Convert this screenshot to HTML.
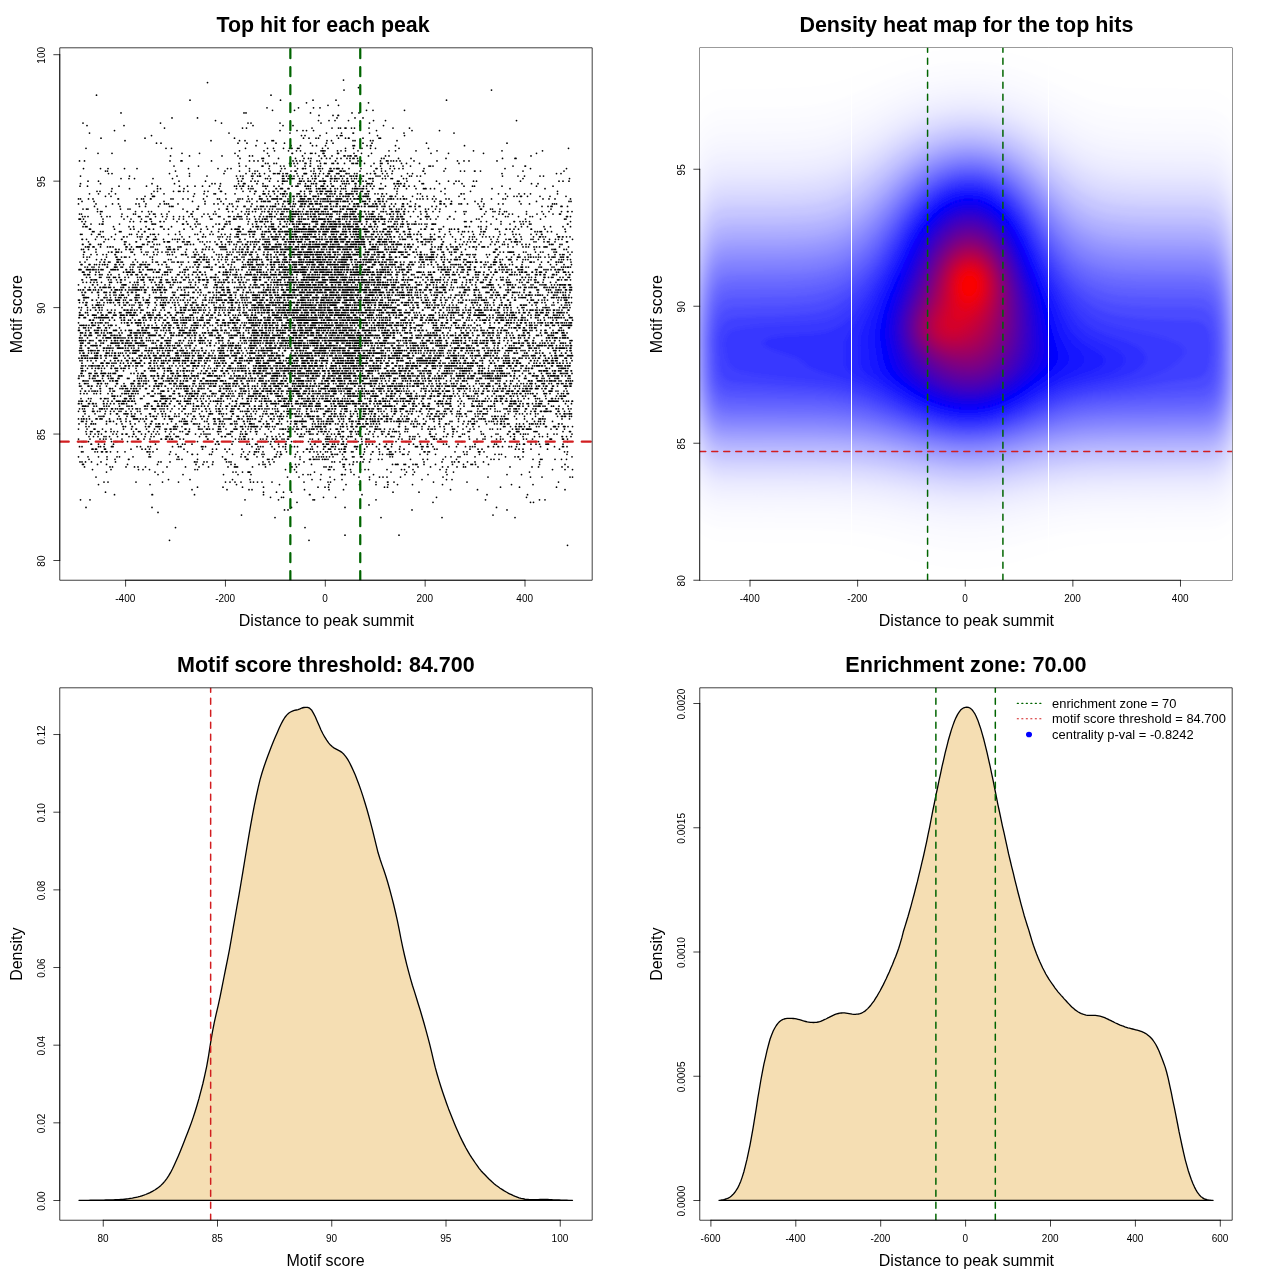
<!DOCTYPE html>
<html><head><meta charset="utf-8"><title>plot</title>
<style>html,body{margin:0;padding:0;background:#fff}svg{display:block}text{font-family:"Liberation Sans", sans-serif;fill:#000;opacity:.999}</style>
</head><body>
<svg width="1280" height="1280" viewBox="0 0 1280 1280">
<defs>
<clipPath id="c0"><rect x="59.76" y="47.81" width="532.43" height="532.43"/></clipPath>
<clipPath id="c1"><rect x="699.76" y="47.81" width="532.43" height="532.43"/></clipPath>
<clipPath id="c2"><rect x="59.76" y="687.81" width="532.43" height="532.43"/></clipPath>
<clipPath id="c3"><rect x="699.76" y="687.81" width="532.43" height="532.43"/></clipPath>
<filter id="bl" x="-5%" y="-5%" width="110%" height="110%"><feGaussianBlur stdDeviation="2.2"/></filter>
</defs>
<rect width="1280" height="1280" fill="#fff"/>
<g clip-path="url(#c0)"><path d="M567.5 545.3h0M169.5 540.3h0m139.5 0h0M345 535.2h0m54 0h0M175.5 527.6h0m129.5 0h0M275 517.5h0m106 0h0m61 0h0m73 0h0M241.5 515h0m251.5 0h0M158 512.4h0M284.5 509.9h0m3.5 0h0m124 0h0m95 0h0M86 507.4h0m66 0h0m139.5 0h0m53.5 0h0m151.5 0h0M369 504.9h0M297 502.3h0m136 0h0m97.5 0h0m3 0h0M80.5 499.8h0m9.5 0h0m155 0h0m33.5 0h0m34.5 0h0m1.5 0h0m61.5 0h0m109.5 0h0m54 0h0m5.5 0h0M270.5 497.3h0m11 0h0m2 0h0m40 0h0m12 0h0m101 0h0m90 0h0M114.5 494.7h0m37.5 0h0h.5m42 0h0m69 0h0m46 0h0h.5m52 0h0m125 0h0m40.5 0h0M105.5 492.2h0m158 0h0m13 0h0m7 0h0m8 0h0m101.5 0h0m26 0h0M192 489.7h0m35 0h0m22 0h0m3 0h0m52.5 0h0m24.5 0h0m14.5 0h0m107 0h0m27 0h0m87.5 0h0M197.5 487.2h0m25.5 0h0m19.5 0h0m21 0h0m54.5 0h0m7 0h0m3.5 0h0m56 0h0m3 0h0m113 0h0m19 0h0m37 0h0M98.5 484.6h0m51.5 0h0m86.5 0h0m43 0h0m49.5 0h0m17 0h0m13.5 0h0m16.5 0h0m12 0h0m9.5 0h0m15 0h0m30 0h0m69 0h0m21.5 0h0M104 482.1h0m4 0h0m28 0h0m26.5 0h0m16 0h0m47 0h0m4.5 0h0m5 0h0m6 0h0m9.5 0h0m3 0h0m4 0h0m4.5 0h0m10 0h0m32 0h0m24 0h0m2.5 0h0m45.5 0h0m11.5 0h0h.5m6 0h0m39.5 0h0m33.5 0h0m91.5 0h0M168.5 479.6h0m21.5 0h0m42.5 0h0m17.5 0h0m62 0h0m8.5 0h0m14 0h0m7.5 0h0m27.5 0h0m52.5 0h0m24.5 0h0m5.5 0h0M96 477h0m191.5 0h0m11.5 0h0m31 0h0m29 0h0m10.5 0h0m10 0h0m3.5 0h0m4 0h0m13.5 0h0m42.5 0h0m45 0h0m42.5 0h0m11.5 0h0m28 0h0m2.5 0h0M158 474.5h0m25 0h0m40.5 0h0m14.5 0h0m13 0h0m52 0h0m5 0h0m2.5 0h0m10.5 0h0m20.5 0h0h1m2.5 0h0m9 0h0m19.5 0h0m31.5 0h0m8 0h0m15 0h0m19 0h0m60 0h0m14.5 0h0M106.5 472h0m48.5 0h0m8 0h0m70 0h0m3 0h0m6.5 0h0m5.5 0h0h1h1m46.5 0h0m18 0h0m36.5 0h0m40 0h0m15.5 0h0m8 0h0m31.5 0h0m7.5 0h0m76 0h0M92.5 469.5h0m18.5 0h0m27.5 0h0m4.5 0h0m6.5 0h0m45.5 0h0m2.5 0h0m88 0h0m9 0h0m34 0h0m1.5 0h0m4 0h0m11.5 0h0m5 0h0m10 0h0m4.5 0h0m3.5 0h0m18.5 0h0m14.5 0h0m3 0h0m8.5 0h0m27 0h0m6.5 0h0m106 0h0m12.5 0h0m7.5 0h0M84.5 466.9h0m25.5 0h0m2.5 0h0m13.5 0h0m8.5 0h0m3.5 0h0m7.5 0h0m21.5 0h0m18.5 0h0m13.5 0h0m9.5 0h0m19.5 0h0m6.5 0h0m1.5 0h0m1.5 0h0m15 0h0m13 0h0m26 0h0h.5m4.5 0h0m27.5 0h0m2 0h0m3.5 0h0m2 0h0m12 0h0h.5m65 0h0m9 0h0m12.5 0h0m12 0h0m5.5 0h0m9 0h0m6.5 0h0m2 0h0m12.5 0h0m32 0h0m22 0h0m6.5 0h0m23.5 0h0m6 0h0M82.5 464.4h0h1m14 0h0m9 0h0m21 0h0m30 0h0m38.5 0h0m7 0h0m9.5 0h0m18.5 0h0m4 0h0m24 0h0m4 0h0m2 0h0m5 0h0m20 0h0h.5m5 0h0m3.5 0h0m12.5 0h0m31.5 0h0m1.5 0h0m5 0h0m3.5 0h0m39.5 0h0m3 0h0m1.5 0h0h1m6 0h0m1.5 0h0m7.5 0h0m2.5 0h0m1.5 0h0m7 0h0m11.5 0h0m17 0h0m11 0h0m7.5 0h0m1.5 0h0m3 0h0m13 0h0m51 0h0m25.5 0h0M80 461.9h0m2 0h0m3.5 0h0m6 0h0m9.5 0h0m14.5 0h0m43 0h0m2.5 0h0m9 0h0m24.5 0h0h.5m2 0h0m7 0h0m3 0h0m6 0h0m13.5 0h0m2.5 0h0m2 0h0m32 0h0m6 0h0m5 0h0m30 0h0m28 0h0m2.5 0h0m5.5 0h0m13.5 0h0m3.5 0h0m3.5 0h0m2.5 0h0m6.5 0h0m54.5 0h0m18 0h0m10 0h0m2.5 0h0m4 0h0h.5m8.5 0h0m7.5 0h0m8.5 0h0m56 0h0M89 459.3h0m18 0h0m8 0h0m13.5 0h0h.5m48 0h0m2 0h0m3 0h0m15.5 0h0m27.5 0h0h1m20.5 0h0h1h.5m19.5 0h0m1.5 0h0m3.5 0h0m27.5 0h0m9.5 0h0h1m3 0h0m1.5 0h0m2 0h0m2 0h0m3.5 0h0m2 0h0m1.5 0h0m2 0h0m14.5 0h0m3 0h0h1m17.5 0h0m6.5 0h0m8 0h0m3.5 0h0m28.5 0h0m12.5 0h0m4.5 0h0m15.5 0h0m13.5 0h0m34.5 0h0m3 0h0m5 0h0m21 0h0m13 0h0m7.5 0h0m1.5 0h0m13 0h0m6.5 0h0m5 0h0M78.5 456.8h0m9.5 0h0m10.5 0h0m8.5 0h0m10 0h0m2.5 0h0m13.5 0h0m16 0h0m1.5 0h0m27.5 0h0h.5m44 0h0m18.5 0h0m4 0h0h.5m11.5 0h0m6 0h0m11.5 0h0m1.5 0h0m3.5 0h0m15.5 0h0m5 0h0m13 0h0m3.5 0h0m2.5 0h0m2.5 0h0m2 0h0m3 0h0m3 0h0m3.5 0h0m11 0h0m8.5 0h0m1.5 0h0m6.5 0h0h.5h1m28 0h0m2.5 0h0m53 0h0m5.5 0h0m7 0h0m2 0h0m15 0h0m12 0h0m18.5 0h0m9.5 0h0m3 0h0h.5m4.5 0h0m49 0h0M149.5 454.3h0m20 0h0m6.5 0h0m16 0h0h.5m5 0h0m12 0h0m2 0h0m21 0h0m9 0h0m6.5 0h0m6 0h0h.5m7.5 0h0m2 0h0m12.5 0h0m4 0h0h1m14 0h0m22.5 0h0m5 0h0m8.5 0h0h1m2.5 0h0m2 0h0h.5m5 0h0m17.5 0h0m3.5 0h0m7.5 0h0m8.5 0h0m3 0h0m4.5 0h0m2 0h0h1m1.5 0h0h.5h1m9.5 0h0m1.5 0h0m4 0h0m12 0h0m7.5 0h0m8 0h0m29 0h0m2.5 0h0m12.5 0h0m15.5 0h0m4 0h0m2.5 0h0m37.5 0h0m28 0h0M81.5 451.8h0m1.5 0h0m12 0h0m2.5 0h0m4 0h0h1m3.5 0h0h1m3.5 0h0m7 0h0m7.5 0h0m22 0h0h1m2 0h0m3 0h0m17.5 0h0m17 0h0m25 0h0m14.5 0h0m16.5 0h0m6 0h0m5 0h0h.5m1.5 0h0m2 0h0m4.5 0h0m14.5 0h0m3 0h0m6 0h0m11 0h0m6 0h0m6 0h0h.5m4 0h0m3 0h0m3.5 0h0m5 0h0m2 0h0m3.5 0h0m9 0h0m4 0h0h1h.5m6 0h0m1.5 0h0m11.5 0h0m8 0h0h.5m6.5 0h0m10 0h0m1.5 0h0m4.5 0h0m4.5 0h0m9 0h0m15 0h0h1m3 0h0m1.5 0h0m25.5 0h0m8.5 0h0m3.5 0h0m11.5 0h0h1h.5m4 0h0m39 0h0h.5m41 0h0m3 0h0M92 449.2h0h.5h.5m2.5 0h0h1m8 0h0h1m25.5 0h0m11 0h0m3.5 0h0m4 0h0m7.5 0h0m27 0h0m18.5 0h0m10 0h0m4 0h0m8.5 0h0m4.5 0h0m12.5 0h0m14.5 0h0m2.5 0h0m15.5 0h0m11 0h0m21 0h0h1m3 0h0m2 0h0m11 0h0m5 0h0h.5m1.5 0h0m4.5 0h0m4 0h0m2.5 0h0m2.5 0h0h1m11.5 0h0m8 0h0m14.5 0h0m8.5 0h0h1m11 0h0m4.5 0h0m18 0h0m12.5 0h0m2.5 0h0m33 0h0m8 0h0m4 0h0m33.5 0h0m3.5 0h0m4 0h0m8 0h0m16.5 0h0m12 0h0M79.5 446.7h0m2.5 0h0m16.5 0h0m2 0h0m3.5 0h0m7.5 0h0h1h.5m24 0h0m3.5 0h0m7.5 0h0m2.5 0h0m22 0h0m6 0h0m2 0h0h.5m20.5 0h0m1.5 0h0m2.5 0h0m46.5 0h0m6 0h0m2.5 0h0m2.5 0h0m9 0h0m7 0h0m4 0h0m2.5 0h0m6 0h0m3 0h0m3 0h0m14.5 0h0m5.5 0h0m6.5 0h0m1.5 0h0m6 0h0m1.5 0h0m2.5 0h0m9 0h0m1.5 0h0m8.5 0h0h.5h1m1.5 0h0m9.5 0h0m9.5 0h0m8 0h0h1m6 0h0m8.5 0h0m15.5 0h0m1.5 0h0h.5m4 0h0m1.5 0h0m4 0h0h1m5 0h0m16 0h0m7.5 0h0m9 0h0m4.5 0h0m2.5 0h0m2.5 0h0m13 0h0h.5m5 0h0m4.5 0h0h.5m4 0h0m6.5 0h0m2.5 0h0m5 0h0m24 0h0m14 0h0m8 0h0h1m3.5 0h0M91 444.2h0h.5m7 0h0m6 0h0m9 0h0m42 0h0m22 0h0m5 0h0m2.5 0h0m7 0h0m23.5 0h0m3 0h0h.5m13 0h0m15 0h0m2.5 0h0m6 0h0m1.5 0h0m13.5 0h0m8 0h0m7 0h0h.5m24.5 0h0m4 0h0h.5m8 0h0h.5m3 0h0h.5m1.5 0h0m4 0h0m2 0h0m3.5 0h0m3.5 0h0m1.5 0h0h.5m3 0h0m15.5 0h0m4 0h0m3 0h0m3.5 0h0m7 0h0m7 0h0m5.5 0h0m17 0h0m4.5 0h0m7 0h0m7 0h0m4 0h0m12 0h0m3 0h0m11.5 0h0m17 0h0m19.5 0h0m2 0h0m20.5 0h0m2.5 0h0m4 0h0h1m6.5 0h0m5 0h0m3.5 0h0m6.5 0h0m1.5 0h0h1m14.5 0h0M78.5 441.6h0m3.5 0h0m1.5 0h0m1.5 0h0m3.5 0h0m13.5 0h0m9.5 0h0m4 0h0m1.5 0h0m5.5 0h0m5 0h0m23 0h0m2.5 0h0m1.5 0h0m43 0h0m19.5 0h0h1m15 0h0m6 0h0m22.5 0h0m2.5 0h0m1.5 0h0m2.5 0h0m3 0h0m3.5 0h0h1m3 0h0m7.5 0h0m5.5 0h0m4 0h0m5 0h0m2 0h0m6 0h0m7 0h0h.5m2 0h0h1m2 0h0m5 0h0m2 0h0m6.5 0h0m1.5 0h0m2 0h0m5 0h0h.5m10.5 0h0m2 0h0m2 0h0m4 0h0m4 0h0m4 0h0m4.5 0h0m14.5 0h0m7 0h0m10 0h0m15 0h0m21 0h0m20 0h0m14.5 0h0h1m14.5 0h0m3 0h0m2 0h0m3.5 0h0m4.5 0h0m10 0h0m16 0h0m4.5 0h0m3 0h0m7.5 0h0m21.5 0h0M78.5 439.1h0m11.5 0h0m10 0h0m3.5 0h0m2.5 0h0m5 0h0m11 0h0m15.5 0h0h1m5.5 0h0m6 0h0m11 0h0h.5m4 0h0h1m3 0h0m2 0h0h1m7.5 0h0m3.5 0h0m24 0h0h.5m6 0h0m21.5 0h0m3.5 0h0m2.5 0h0m2.5 0h0h1m3.5 0h0m4 0h0m8 0h0m2.5 0h0m3.5 0h0m6 0h0h1m3 0h0h.5m5 0h0m2 0h0m3.5 0h0h1m21.5 0h0m2.5 0h0m6 0h0m7 0h0m1.5 0h0h1m1.5 0h0m2.5 0h0m3.5 0h0m6.5 0h0m4.5 0h0m9 0h0m6 0h0m4.5 0h0h1m2 0h0m29.5 0h0m3.5 0h0m7.5 0h0m3 0h0m2 0h0m11.5 0h0m7.5 0h0h1m2 0h0m3.5 0h0h.5h.5m28.5 0h0m7.5 0h0m6 0h0m2 0h0m11.5 0h0m4 0h0m2.5 0h0m10.5 0h0h1m9 0h0m3 0h0m6 0h0m17.5 0h0h.5h1m11 0h0h1m4 0h0M89 436.6h0m4.5 0h0m4.5 0h0m6 0h0m2 0h0m3.5 0h0m8 0h0m11.5 0h0m3.5 0h0m3.5 0h0m9 0h0m6 0h0m3 0h0m12 0h0h1h1m2.5 0h0m5.5 0h0h1m1.5 0h0m21 0h0m6.5 0h0h.5m15 0h0h.5m3 0h0h.5m6.5 0h0m8 0h0m3.5 0h0m1.5 0h0m22 0h0h.5m4.5 0h0m4 0h0m4 0h0m8 0h0m1.5 0h0h1m9 0h0m1.5 0h0m2 0h0m23.5 0h0m1.5 0h0m2 0h0m6 0h0m4.5 0h0m2 0h0h1m4.5 0h0h.5m2 0h0m1.5 0h0m10 0h0m11.5 0h0m4.5 0h0m8 0h0m5 0h0h1m2 0h0m5.5 0h0m10 0h0h.5m3 0h0m2 0h0m4.5 0h0m11.5 0h0m1.5 0h0m2 0h0m9 0h0m3 0h0m6 0h0m6.5 0h0m1.5 0h0m8.5 0h0m16 0h0m6.5 0h0m9 0h0m10 0h0m4 0h0m8.5 0h0m11.5 0h0m5 0h0m3 0h0m5 0h0m14.5 0h0h.5m4 0h0m4.5 0h0M86.5 434.1h0m4 0h0m4.5 0h0m3.5 0h0m3 0h0m11.5 0h0m3.5 0h0m5.5 0h0h.5m3.5 0h0h1m6.5 0h0h.5m7.5 0h0m4 0h0m6 0h0m4.5 0h0m3 0h0m10.5 0h0m4.5 0h0m12 0h0m1.5 0h0h.5m7.5 0h0m5.5 0h0m3 0h0m2 0h0m2 0h0m2 0h0m8.5 0h0m8.5 0h0m1.5 0h0h.5m1.5 0h0m10 0h0m2 0h0m3 0h0h.5h1m9.5 0h0m8.5 0h0m14 0h0m4 0h0h.5m14 0h0m3.5 0h0h.5m3 0h0m5 0h0m1.5 0h0m2 0h0m4 0h0h.5m6 0h0m4 0h0m4 0h0m3 0h0m3.5 0h0h1h1m11 0h0m5.5 0h0m2 0h0m7 0h0m3 0h0m4.5 0h0m9 0h0h.5m5.5 0h0h1m11 0h0m18 0h0m11.5 0h0h1m5.5 0h0m11.5 0h0h.5m5 0h0m9.5 0h0m2 0h0m17 0h0m2 0h0m12.5 0h0m2 0h0m9.5 0h0h.5m5.5 0h0h1m6 0h0m3 0h0m2 0h0m2.5 0h0m11 0h0m8.5 0h0m6.5 0h0m3 0h0m15 0h0M86 431.5h0m4.5 0h0m1.5 0h0m5.5 0h0m1.5 0h0m6.5 0h0h.5m5 0h0m3 0h0m3.5 0h0m16 0h0m5 0h0m1.5 0h0m8.5 0h0h.5m4.5 0h0m4 0h0m8 0h0m5.5 0h0m9 0h0m2.5 0h0m6 0h0h1m14 0h0m14 0h0m1.5 0h0m2 0h0m10 0h0m1.5 0h0m8.5 0h0m4.5 0h0m5 0h0m5 0h0m1.5 0h0m14 0h0m16.5 0h0h1h1m5.5 0h0m11.5 0h0m2 0h0h1h.5m8.5 0h0m2.5 0h0h.5h.5m2.5 0h0m1.5 0h0m3 0h0m9.5 0h0h.5m3 0h0m1.5 0h0m6.5 0h0h1h.5h.5m3.5 0h0m2.5 0h0h1m10.5 0h0h.5m4.5 0h0m7 0h0h.5m2 0h0m5 0h0m3.5 0h0m2 0h0m1.5 0h0h.5m2.5 0h0m6 0h0m2.5 0h0m22.5 0h0m14 0h0m9 0h0h.5m3.5 0h0m11 0h0m1.5 0h0m11.5 0h0m28 0h0h1m6.5 0h0h1h1h.5m15 0h0m1.5 0h0m1.5 0h0m26 0h0m6.5 0h0h1M78.5 429h0m8.5 0h0m7 0h0h1m7.5 0h0m8.5 0h0m12.5 0h0m8 0h0m4.5 0h0h.5m10 0h0m8 0h0m5 0h0m5.5 0h0m1.5 0h0m3.5 0h0h1m2.5 0h0m1.5 0h0m1.5 0h0m8.5 0h0h1m3.5 0h0m9 0h0m1.5 0h0m2 0h0m4.5 0h0h1m2 0h0m3.5 0h0m5.5 0h0h.5m1.5 0h0m5.5 0h0m8 0h0h.5m1.5 0h0h1m5.5 0h0h.5m5 0h0m3 0h0m4.5 0h0m4.5 0h0m8.5 0h0m5.5 0h0m6 0h0m2 0h0h1h.5m2 0h0m3 0h0m2 0h0m2.5 0h0m3.5 0h0m1.5 0h0h.5m3 0h0m5 0h0m3 0h0m2 0h0m1.5 0h0h1m3 0h0m3.5 0h0m1.5 0h0m4 0h0m4.5 0h0m5.5 0h0h1h.5m3 0h0m7 0h0m6 0h0m7.5 0h0m6 0h0m8 0h0h1h1m2 0h0m1.5 0h0m4 0h0m5.5 0h0m3.5 0h0m12 0h0h.5m2 0h0m14 0h0m6 0h0h.5m2.5 0h0m1.5 0h0m2.5 0h0m9.5 0h0m8 0h0h.5m1.5 0h0m8.5 0h0m7 0h0m4 0h0m16 0h0m2.5 0h0m5 0h0m3 0h0m12 0h0m3.5 0h0h1m2 0h0m3.5 0h0h1m3 0h0h1h1m1.5 0h0h1m20 0h0m5.5 0h0h.5m7.5 0h0M86 426.5h0m3 0h0m34 0h0h.5m2 0h0m6.5 0h0h.5m13 0h0m3 0h0h1m6.5 0h0m1.5 0h0h1m1.5 0h0m13.5 0h0h1h1m2 0h0m4.5 0h0m16.5 0h0h.5m5.5 0h0m4 0h0m10 0h0m1.5 0h0m3.5 0h0m12 0h0m5 0h0m1.5 0h0h.5m3 0h0m3 0h0m2.5 0h0h1m1.5 0h0h.5h1m1.5 0h0h1m4 0h0m4 0h0h1h1m2 0h0m3 0h0m2.5 0h0m13 0h0m6 0h0m3 0h0m5.5 0h0h1h.5h.5m1.5 0h0m6.5 0h0m3 0h0h.5m1.5 0h0h.5h.5h.5m1.5 0h0h.5m3 0h0h.5h.5h.5m15 0h0m2 0h0h1m3.5 0h0m4 0h0h.5h1m3.5 0h0h1m4.5 0h0m1.5 0h0h1h1m5 0h0m2 0h0m3.5 0h0m2 0h0m21 0h0h.5h.5m6 0h0m8 0h0h1m2 0h0m5.5 0h0m7 0h0m5.5 0h0m5.5 0h0m4 0h0m8 0h0m6 0h0m8.5 0h0m6.5 0h0m6 0h0m24.5 0h0m1.5 0h0m5.5 0h0m5 0h0h.5m3 0h0h1m1.5 0h0m3 0h0m5 0h0m7 0h0m2.5 0h0m6.5 0h0h1m7 0h0h.5h1h.5m3 0h0m5 0h0h1h.5m3 0h0m4.5 0h0M79 423.9h0m7 0h0m5 0h0h.5m2 0h0m2 0h0m11 0h0m10 0h0m5.5 0h0m8.5 0h0m4.5 0h0m11 0h0m4.5 0h0h.5m5 0h0m2.5 0h0h.5h.5m3.5 0h0m4.5 0h0m8.5 0h0m8 0h0m1.5 0h0m1.5 0h0h.5m6 0h0m1.5 0h0m2 0h0m2.5 0h0m9 0h0m5.5 0h0m2 0h0m3.5 0h0m2.5 0h0m2.5 0h0m6 0h0m1.5 0h0m3 0h0m2 0h0m7.5 0h0m5 0h0h1h1h.5m2 0h0m9.5 0h0m3.5 0h0h.5m1.5 0h0m7.5 0h0h1h.5h.5m3 0h0m9 0h0m4.5 0h0m1.5 0h0m5.5 0h0m10.5 0h0m2.5 0h0m3.5 0h0m2.5 0h0m2.5 0h0m2.5 0h0h1m2.5 0h0h.5h.5m5 0h0m2.5 0h0m4 0h0h.5m4 0h0m5.5 0h0m5.5 0h0h1h.5h1m3 0h0m3 0h0h1h1m3 0h0m2.5 0h0m3 0h0m3 0h0m20 0h0m11.5 0h0m2.5 0h0m4 0h0m2 0h0m4 0h0m1.5 0h0m14 0h0h.5m6 0h0h.5h.5m2.5 0h0m14 0h0m5 0h0m4 0h0h.5h1h1m12 0h0m8 0h0m2.5 0h0m3.5 0h0h1m3 0h0m3 0h0m1.5 0h0m7.5 0h0m3 0h0m4 0h0m6 0h0m2 0h0m1.5 0h0m2.5 0h0m2 0h0m3 0h0m3 0h0h.5m14.5 0h0h.5m3 0h0M81.5 421.4h0m1.5 0h0m3.5 0h0m5.5 0h0m14.5 0h0m3 0h0h1m3 0h0m7.5 0h0m5 0h0m4 0h0m9 0h0m5.5 0h0m7 0h0h.5m19.5 0h0m8 0h0m2 0h0m2.5 0h0m1.5 0h0m1.5 0h0m4.5 0h0m13 0h0m2.5 0h0m7.5 0h0h.5m4.5 0h0h.5h.5m2.5 0h0m11.5 0h0m2 0h0m7 0h0h.5m3.5 0h0m2.5 0h0m9 0h0m1.5 0h0m6 0h0m6 0h0m7 0h0m8 0h0m3.5 0h0m3.5 0h0h1h.5m1.5 0h0m2 0h0m1.5 0h0h1h.5h1m1.5 0h0h1m7.5 0h0m4.5 0h0h.5m3 0h0m2 0h0m3 0h0m1.5 0h0m2 0h0m2 0h0h1m6.5 0h0m4 0h0m6 0h0m2 0h0h.5h.5h.5m3 0h0m2.5 0h0h1m6.5 0h0m4.5 0h0m2 0h0h1h.5h.5h.5h.5m2.5 0h0h1m5.5 0h0m2 0h0h1m3.5 0h0m3 0h0m2.5 0h0m1.5 0h0h1h1h.5h.5m2.5 0h0m2 0h0h.5m2 0h0m4 0h0m3 0h0m2 0h0m9 0h0m8 0h0m5.5 0h0m10.5 0h0m2 0h0m6.5 0h0m5.5 0h0m4.5 0h0m2 0h0m4 0h0m2.5 0h0m8.5 0h0m3.5 0h0m2.5 0h0m2 0h0m4 0h0m3.5 0h0h.5m2.5 0h0m23 0h0m7.5 0h0m4 0h0m2 0h0m4 0h0m8 0h0M78.5 418.9h0m3 0h0m2 0h0h.5m2.5 0h0m3 0h0m6.5 0h0h1m3 0h0h.5m1.5 0h0m7.5 0h0m8 0h0m2.5 0h0h.5m5.5 0h0m7.5 0h0m1.5 0h0m1.5 0h0h1m3 0h0m2.5 0h0m3 0h0h.5m8.5 0h0h1m8.5 0h0m5 0h0m1.5 0h0m1.5 0h0m10 0h0m2 0h0m8 0h0m3 0h0m6.5 0h0m5.5 0h0m6 0h0h.5h.5h.5m3 0h0m1.5 0h0m4.5 0h0m2 0h0m2 0h0m1.5 0h0m1.5 0h0m7 0h0h1h.5m2.5 0h0m5.5 0h0h1m2 0h0m2 0h0m2.5 0h0h.5m6 0h0m9 0h0h1m2.5 0h0m5 0h0m2.5 0h0h1m20 0h0m8 0h0m1.5 0h0h.5h.5m4 0h0m2 0h0m2 0h0m6.5 0h0h1m2.5 0h0h1m6.5 0h0m3 0h0m2 0h0m5.5 0h0h1m8.5 0h0m1.5 0h0h.5m1.5 0h0m1.5 0h0m3 0h0h.5h.5m2.5 0h0h.5m2 0h0m2.5 0h0m3 0h0h.5m2.5 0h0h.5h.5m4.5 0h0h1m2.5 0h0m1.5 0h0m6.5 0h0h1m3.5 0h0m4 0h0m1.5 0h0h1m6.5 0h0m8 0h0m6.5 0h0m2.5 0h0m1.5 0h0m5 0h0h.5m2 0h0m17 0h0m13.5 0h0h.5m1.5 0h0m5 0h0m2 0h0h.5m2 0h0m1.5 0h0m8 0h0h.5m2 0h0h1m4 0h0m2 0h0m2.5 0h0h.5h1m1.5 0h0m8.5 0h0m8 0h0m8 0h0m6.5 0h0m1.5 0h0m2 0h0h.5m2 0h0m17 0h0m7.5 0h0M83 416.3h0m6 0h0m10 0h0m2 0h0m2 0h0h1m15 0h0m8 0h0m4.5 0h0h1h1h1m11.5 0h0m4.5 0h0m2.5 0h0h1m2.5 0h0m6 0h0m3 0h0m3 0h0h1m5 0h0m2 0h0m2.5 0h0m8.5 0h0m6 0h0h1m6 0h0h.5m2.5 0h0h.5m4.5 0h0m14 0h0m9 0h0m5.5 0h0m1.5 0h0m5 0h0m3.5 0h0h.5m2 0h0m2 0h0m8.5 0h0m2.5 0h0m6 0h0m5.5 0h0m3.5 0h0m2 0h0h.5h1m2.5 0h0m3.5 0h0m8.5 0h0h.5m1.5 0h0m1.5 0h0m2 0h0m4 0h0m2.5 0h0h1h1h1m2 0h0m1.5 0h0m3 0h0h1h.5m5.5 0h0m5 0h0m1.5 0h0h.5m3 0h0h1m2.5 0h0m3 0h0h.5m2 0h0m2.5 0h0m5 0h0h.5h1m5.5 0h0m5.5 0h0m1.5 0h0m6 0h0m3.5 0h0h1m4 0h0m4.5 0h0h.5h.5m2 0h0m1.5 0h0m4.5 0h0m8.5 0h0m3.5 0h0m2.5 0h0m11.5 0h0m8.5 0h0m2.5 0h0h.5m4.5 0h0m1.5 0h0m2 0h0h1m4 0h0h.5h.5m12.5 0h0m3 0h0m2.5 0h0m4.5 0h0m9 0h0m2.5 0h0m4.5 0h0m9.5 0h0m2.5 0h0h1m2.5 0h0m3.5 0h0m2.5 0h0h.5m10 0h0m10 0h0m11 0h0m7.5 0h0m14.5 0h0m4 0h0h1m2 0h0h1m4 0h0m2 0h0M85 413.8h0m10 0h0m10 0h0m5.5 0h0m6 0h0h1m6.5 0h0m1.5 0h0h.5m1.5 0h0h.5m3.5 0h0m3.5 0h0m6 0h0m8.5 0h0h1m7.5 0h0m4 0h0h.5m3 0h0m9.5 0h0m4 0h0m6 0h0h.5m3 0h0m2.5 0h0m8.5 0h0m9.5 0h0h1h1m1.5 0h0m6.5 0h0h.5m2 0h0m2 0h0m3 0h0m6 0h0h1m12.5 0h0h.5m4.5 0h0m4.5 0h0m7.5 0h0m2.5 0h0m1.5 0h0m3.5 0h0m1.5 0h0h1m3 0h0m5 0h0h.5m6 0h0h1m3 0h0h.5h.5m2 0h0m1.5 0h0m3 0h0m3 0h0m4.5 0h0h1h1m15 0h0h.5h.5h.5m6.5 0h0h.5m2.5 0h0m1.5 0h0m4 0h0h1m3 0h0m6.5 0h0m3 0h0m4 0h0m6 0h0m1.5 0h0h.5h.5m2.5 0h0m3 0h0m3 0h0h1m6.5 0h0m5 0h0m7 0h0h1m7 0h0m6.5 0h0m3 0h0h.5m10 0h0m6 0h0m3 0h0h1m4 0h0h.5m3.5 0h0m2 0h0m2.5 0h0m2 0h0m5.5 0h0m5 0h0m2 0h0m1.5 0h0h.5m4 0h0h1m9 0h0m3 0h0m2 0h0m3 0h0h.5h.5m1.5 0h0m1.5 0h0m18 0h0m3.5 0h0m7.5 0h0m3.5 0h0m3 0h0m4.5 0h0m3.5 0h0m5 0h0m2.5 0h0m18 0h0h.5m3.5 0h0m4 0h0h1m2 0h0m2 0h0h1m1.5 0h0M78.5 411.3h0m5 0h0m1.5 0h0m7.5 0h0h.5h1m3.5 0h0m2.5 0h0m5.5 0h0m5 0h0m3.5 0h0m5 0h0m2 0h0m5 0h0m5 0h0m6.5 0h0m2.5 0h0m15 0h0m6 0h0m3 0h0m6.5 0h0m11.5 0h0m11 0h0m2 0h0m7 0h0m4.5 0h0m4 0h0m6 0h0m2.5 0h0h.5h1m10 0h0h1m1.5 0h0m7.5 0h0m2 0h0m2.5 0h0m2 0h0h.5m1.5 0h0m4.5 0h0m3 0h0m7.5 0h0m2.5 0h0m9 0h0m2 0h0h1m5.5 0h0m3 0h0m1.5 0h0h.5m1.5 0h0m6.5 0h0m2.5 0h0m7 0h0m4.5 0h0h1m2.5 0h0m2.5 0h0h.5m8 0h0h.5h.5h1h1h.5m2 0h0m3.5 0h0m6.5 0h0m4 0h0m1.5 0h0h.5m3.5 0h0m4.5 0h0m1.5 0h0m4.5 0h0m2.5 0h0m1.5 0h0m4.5 0h0h.5m1.5 0h0h1m6 0h0m2.5 0h0m3 0h0m7.5 0h0m3 0h0h1h1m4 0h0m5.5 0h0h1h.5m2.5 0h0m2.5 0h0m4 0h0m3 0h0h.5h.5m8.5 0h0m8 0h0h.5m1.5 0h0m5 0h0m1.5 0h0m5 0h0h1m6 0h0m2 0h0m8.5 0h0m2 0h0m1.5 0h0m6 0h0m2.5 0h0m1.5 0h0m6 0h0m7.5 0h0m2.5 0h0m2.5 0h0m8 0h0m2 0h0m4 0h0m2 0h0m1.5 0h0m7.5 0h0m6 0h0m3.5 0h0h1m5 0h0h1m2.5 0h0h1h.5h1m1.5 0h0m2 0h0h1m7 0h0h1m5.5 0h0m5 0h0M79.5 408.8h0m3 0h0m2 0h0m8.5 0h0m6.5 0h0m1.5 0h0h.5h1m2 0h0m2.5 0h0m4.5 0h0h1m3 0h0m2 0h0m2.5 0h0m1.5 0h0m1.5 0h0m6 0h0m3.5 0h0m3.5 0h0m1.5 0h0m2.5 0h0m5 0h0m2 0h0m5 0h0h1h1m1.5 0h0m4.5 0h0m2 0h0m2 0h0m3.5 0h0m4.5 0h0m7 0h0m4.5 0h0h1h.5m8 0h0h.5m2.5 0h0m3 0h0m6.5 0h0h.5m3.5 0h0m6.5 0h0m2.5 0h0h1m3 0h0m4 0h0m5 0h0h1m1.5 0h0m4 0h0h1m8.5 0h0h.5m3.5 0h0m3 0h0h1m3 0h0h1m2.5 0h0m3 0h0m2 0h0m2 0h0m3.5 0h0m2.5 0h0m2.5 0h0m10 0h0m2.5 0h0h1m2 0h0m2 0h0m3 0h0m2 0h0m6.5 0h0h1m3.5 0h0m5.5 0h0m2 0h0m2 0h0h.5m2 0h0m5 0h0m1.5 0h0m2.5 0h0h.5m2.5 0h0h.5m6.5 0h0m2.5 0h0h1h.5h1m8.5 0h0m3 0h0m3 0h0m2 0h0m1.5 0h0h1m2.5 0h0h1m2.5 0h0m1.5 0h0m4 0h0h.5h1m2 0h0m5 0h0m5.5 0h0m3 0h0m1.5 0h0m4 0h0h.5h.5h.5h.5h1h.5m7 0h0m2 0h0m1.5 0h0m7 0h0h.5m5 0h0h.5m2.5 0h0h1m1.5 0h0m2 0h0m11 0h0m2 0h0h.5m1.5 0h0m3.5 0h0m8 0h0m17.5 0h0m5.5 0h0h1m2 0h0h.5m3.5 0h0m4.5 0h0m9 0h0m2 0h0h1m3 0h0m4 0h0m1.5 0h0h1m2.5 0h0m6.5 0h0h1m6.5 0h0m2.5 0h0h.5m10 0h0h1m9 0h0h.5m2 0h0m4.5 0h0m5.5 0h0m2.5 0h0M82.5 406.2h0h1m1.5 0h0h1m2 0h0m6 0h0m2.5 0h0m7.5 0h0m2.5 0h0m2.5 0h0m10.5 0h0m7.5 0h0m2 0h0m2.5 0h0h.5m12.5 0h0h.5h.5m2 0h0m4 0h0h.5m5.5 0h0h1h.5m2.5 0h0h.5m2.5 0h0m2.5 0h0h.5m7 0h0m7.5 0h0m3.5 0h0m8 0h0m3 0h0m1.5 0h0h.5m3 0h0m3 0h0m3.5 0h0m8 0h0m4.5 0h0m5.5 0h0m1.5 0h0m4.5 0h0m2.5 0h0h.5h1m3.5 0h0m4 0h0h.5m5.5 0h0m5 0h0h.5m4 0h0m2 0h0h.5m5.5 0h0h.5m8 0h0m6 0h0h1h.5h.5h.5m1.5 0h0h1m2 0h0m3.5 0h0h.5m7.5 0h0m3.5 0h0h.5m2 0h0m2.5 0h0h1h.5m2 0h0m3.5 0h0h.5h1m1.5 0h0h.5h1m5.5 0h0h1m5 0h0m3 0h0h1h.5m3.5 0h0h1h.5m2 0h0m1.5 0h0m2 0h0m8.5 0h0h1m5 0h0m2 0h0m3.5 0h0h1m7.5 0h0m3 0h0m5 0h0h.5m1.5 0h0h1m1.5 0h0m1.5 0h0h1h1h1m2.5 0h0m8 0h0m1.5 0h0h.5m1.5 0h0m7 0h0h.5m2.5 0h0h.5m6.5 0h0h1h.5h.5m2.5 0h0m1.5 0h0m9.5 0h0m4.5 0h0m7 0h0h1m7.5 0h0m5.5 0h0m8 0h0h1h1m3 0h0h.5m2 0h0h.5m2 0h0m6.5 0h0m2 0h0m1.5 0h0m2.5 0h0m14.5 0h0h1m2 0h0m5.5 0h0h.5h1h.5m3.5 0h0m5.5 0h0m5.5 0h0m2 0h0m2 0h0h1h.5h.5m3 0h0m2 0h0m6.5 0h0m2 0h0m5.5 0h0m9 0h0M78.5 403.7h0h.5m2.5 0h0m7 0h0h1m3 0h0h1m2.5 0h0m7.5 0h0h.5m3 0h0m3.5 0h0m3.5 0h0m5 0h0m2.5 0h0m1.5 0h0h1m2.5 0h0m9 0h0m11.5 0h0m1.5 0h0h.5m9 0h0m4 0h0m1.5 0h0h1h1m4 0h0h.5m9 0h0h.5h.5m7 0h0m1.5 0h0m2 0h0m3 0h0m8.5 0h0h1m6 0h0m8.5 0h0m3.5 0h0m8.5 0h0m7 0h0m4 0h0h1h1h1m1.5 0h0m1.5 0h0h1m1.5 0h0m12.5 0h0m5 0h0m4.5 0h0h1m1.5 0h0m1.5 0h0h.5h1m2 0h0m6 0h0m2 0h0m1.5 0h0h1m2.5 0h0m4 0h0h.5h1m1.5 0h0m2 0h0h1h1m2 0h0m1.5 0h0m3.5 0h0m1.5 0h0h.5h.5m4.5 0h0h1m1.5 0h0h1m11 0h0m2.5 0h0h.5m4 0h0h.5h1h.5m2 0h0h.5m3.5 0h0h.5m1.5 0h0m1.5 0h0h.5m2.5 0h0h.5h.5h.5h1m1.5 0h0m2 0h0m1.5 0h0m3 0h0h.5h.5m2 0h0h.5m3.5 0h0m4 0h0m3 0h0h.5m2 0h0h.5h1m4.5 0h0m4 0h0m7.5 0h0m7 0h0m5 0h0m3.5 0h0h1h1m4.5 0h0m3.5 0h0h1m5 0h0h1m7.5 0h0h.5h1m2.5 0h0m1.5 0h0m3 0h0h.5m1.5 0h0h.5m1.5 0h0h1m10 0h0m3.5 0h0m8 0h0m7 0h0m3 0h0m12 0h0h.5m8 0h0m7.5 0h0m1.5 0h0m2 0h0h1h.5h1m4 0h0m3 0h0m4 0h0m1.5 0h0m4 0h0m3.5 0h0m2.5 0h0m1.5 0h0m1.5 0h0m7 0h0m17 0h0m6 0h0M79 401.2h0m2 0h0m1.5 0h0m4 0h0m4 0h0m13 0h0m4.5 0h0m4 0h0m4.5 0h0m1.5 0h0h.5m1.5 0h0m2.5 0h0m1.5 0h0m1.5 0h0m2.5 0h0h1m2.5 0h0h1m2 0h0m20 0h0h.5h.5m1.5 0h0m3 0h0h.5m5 0h0h1m4.5 0h0m6 0h0h.5h.5m2.5 0h0m4 0h0m1.5 0h0m1.5 0h0h.5m2 0h0m7.5 0h0m4 0h0m4.5 0h0m4.5 0h0m3 0h0m2 0h0h.5m1.5 0h0m1.5 0h0m2 0h0m2.5 0h0m9 0h0m3 0h0h.5h.5m11 0h0h.5m3 0h0m4.5 0h0m4 0h0m2 0h0m3 0h0h.5h1m2 0h0m2 0h0h1m4 0h0m3.5 0h0h1h1h.5m2.5 0h0h.5h1m3.5 0h0m2 0h0h.5h.5m4.5 0h0m1.5 0h0m6.5 0h0m2 0h0h.5h.5m1.5 0h0m2 0h0m2.5 0h0m1.5 0h0m4 0h0m6 0h0m1.5 0h0h1h1h.5h1h.5m3 0h0h1m1.5 0h0m2.5 0h0h.5m2 0h0h1h1m2 0h0h.5m2 0h0m1.5 0h0m2.5 0h0h.5h1h1m5 0h0h.5m1.5 0h0h1m8 0h0h.5h1m4 0h0h1m3 0h0h.5h1m2.5 0h0m1.5 0h0h.5h.5m2 0h0m2 0h0m4.5 0h0m1.5 0h0h.5m2 0h0m2.5 0h0m2.5 0h0h.5m2.5 0h0h.5h1m1.5 0h0m1.5 0h0m3.5 0h0m7.5 0h0m13.5 0h0m3.5 0h0h1h1m2 0h0m4 0h0m4 0h0m7.5 0h0m3.5 0h0m11.5 0h0m2.5 0h0m1.5 0h0m2 0h0h.5m2.5 0h0m1.5 0h0m1.5 0h0m2.5 0h0m3.5 0h0m3.5 0h0m2 0h0h1m3 0h0h.5m4.5 0h0m1.5 0h0m3.5 0h0m1.5 0h0m2 0h0h1h.5m3 0h0m2.5 0h0m15 0h0m4 0h0m2 0h0m6.5 0h0h.5h1m1.5 0h0h1h1m1.5 0h0m1.5 0h0m1.5 0h0m5.5 0h0m3 0h0m2 0h0m3.5 0h0h.5M81 398.6h0m7.5 0h0m2.5 0h0m9.5 0h0h.5m3.5 0h0m1.5 0h0m2 0h0m6 0h0h.5m10 0h0h1h1m3.5 0h0h1m3 0h0m6.5 0h0m1.5 0h0m19 0h0h.5h1h1m1.5 0h0h.5m1.5 0h0h1m2 0h0m3 0h0h.5m1.5 0h0m9.5 0h0m3.5 0h0h.5m1.5 0h0h1m4 0h0m1.5 0h0m4 0h0m3 0h0m5.5 0h0m9 0h0m2.5 0h0h1m6 0h0m3 0h0m7 0h0m5 0h0m4.5 0h0m1.5 0h0m3 0h0m3.5 0h0m1.5 0h0h.5m5 0h0m2.5 0h0m1.5 0h0m2.5 0h0m9.5 0h0m4 0h0m2 0h0h.5m1.5 0h0h1m2.5 0h0h.5h.5h1h.5m7 0h0m2.5 0h0m1.5 0h0m2 0h0m2.5 0h0h1h1m3 0h0h.5h1m2.5 0h0m3 0h0m2.5 0h0h.5h.5m2.5 0h0h.5m1.5 0h0m3.5 0h0m3.5 0h0m2.5 0h0h.5h.5m4.5 0h0m2.5 0h0m2.5 0h0m2.5 0h0m8.5 0h0m1.5 0h0h.5m4.5 0h0m2.5 0h0m2.5 0h0h.5m4.5 0h0h.5m7 0h0h1m2.5 0h0m4.5 0h0h.5m1.5 0h0m4.5 0h0m3.5 0h0m1.5 0h0m1.5 0h0m1.5 0h0m5 0h0h1h1h.5m2 0h0m2 0h0h.5m5.5 0h0h1m4.5 0h0m2 0h0h.5m13 0h0m4.5 0h0m2 0h0h1m9 0h0m8.5 0h0m1.5 0h0m2 0h0m2 0h0m3 0h0m8.5 0h0m3.5 0h0m6 0h0m1.5 0h0m4 0h0h.5h.5h1m4 0h0m5 0h0m6.5 0h0m6 0h0m4.5 0h0m7 0h0m2 0h0m2 0h0m6.5 0h0m5.5 0h0h1m3 0h0m3 0h0m3 0h0h1M112 396.1h0h.5m1.5 0h0h1m2.5 0h0m3 0h0m8.5 0h0h.5m1.5 0h0h.5m2.5 0h0m10 0h0m7 0h0m1.5 0h0h1m7.5 0h0h.5h1h1m1.5 0h0m4.5 0h0m1.5 0h0m8.5 0h0h.5m2.5 0h0m3 0h0m3.5 0h0m2.5 0h0h.5h1h1m3.5 0h0m4 0h0m2 0h0m4 0h0m2 0h0m2.5 0h0m3 0h0m6 0h0h.5m1.5 0h0m3 0h0h.5h.5m1.5 0h0h.5m3 0h0m2 0h0m5 0h0h.5m2.5 0h0m6.5 0h0h.5m1.5 0h0h.5m1.5 0h0h.5h.5m2.5 0h0m3 0h0h1m2.5 0h0h1h1m3 0h0m8.5 0h0m1.5 0h0h1h1h.5h.5m2 0h0m6.5 0h0h1m1.5 0h0m2 0h0m4.5 0h0h.5h.5h.5m1.5 0h0h1m5.5 0h0m4 0h0m1.5 0h0h.5m4 0h0m3.5 0h0m2 0h0m3 0h0m2 0h0m2.5 0h0m1.5 0h0m1.5 0h0m10.5 0h0m4 0h0h1m1.5 0h0h.5m2 0h0h1m1.5 0h0m1.5 0h0h.5m2 0h0m1.5 0h0m1.5 0h0m2 0h0m6.5 0h0m1.5 0h0m1.5 0h0h.5h1h1h.5h1m8.5 0h0m1.5 0h0h.5m2 0h0h1h.5m2 0h0m5.5 0h0m8 0h0h1h.5h1m1.5 0h0m4 0h0m1.5 0h0m2.5 0h0m2.5 0h0m1.5 0h0m1.5 0h0m5 0h0h.5h1m2.5 0h0h.5m3 0h0h.5h1m4.5 0h0h.5h1m2 0h0h.5m2 0h0h.5h1h.5h.5m3 0h0m4 0h0m4.5 0h0m3.5 0h0h1h1m2.5 0h0m2.5 0h0m4 0h0m9.5 0h0m4.5 0h0m4.5 0h0m2.5 0h0m1.5 0h0h.5m2.5 0h0h.5m6 0h0h1m2.5 0h0m4 0h0m5 0h0h.5m2.5 0h0m8.5 0h0h1h.5m10 0h0m11 0h0m3.5 0h0m1.5 0h0m2 0h0h.5h.5h1M80.5 393.6h0m3.5 0h0m3 0h0m7 0h0m2.5 0h0m4 0h0m7.5 0h0m4 0h0m10 0h0m2.5 0h0h.5m1.5 0h0m2 0h0m3 0h0m1.5 0h0m2.5 0h0m2.5 0h0m9.5 0h0m1.5 0h0m6 0h0m3 0h0m2 0h0h.5h.5m12 0h0m1.5 0h0m4 0h0h.5h.5m7 0h0h1m2 0h0h.5h1h1m2.5 0h0h1m1.5 0h0h1m5 0h0m2 0h0h.5m6.5 0h0h1h1m2 0h0m6 0h0m1.5 0h0h1m4 0h0m2 0h0m2.5 0h0m6 0h0h1m2 0h0h.5m2.5 0h0m4 0h0m4.5 0h0h.5h1h1m1.5 0h0m2 0h0h1h.5m6.5 0h0m3 0h0h1h.5m3 0h0m1.5 0h0m1.5 0h0m3.5 0h0m5.5 0h0m2.5 0h0h1m2.5 0h0m3.5 0h0h1h.5h.5h1h.5m3 0h0h1m1.5 0h0m3 0h0h1m3.5 0h0m2 0h0m2 0h0m1.5 0h0m1.5 0h0m3 0h0m2 0h0h.5m1.5 0h0m2 0h0m4.5 0h0h1h.5h1m5 0h0m4 0h0m2 0h0h.5h.5m1.5 0h0h1m2 0h0h1h1m3.5 0h0m2 0h0m1.5 0h0h.5m2 0h0h.5m2.5 0h0h1m1.5 0h0m3.5 0h0h.5m2.5 0h0m5 0h0h.5m5 0h0m4.5 0h0h1m2.5 0h0h1m5 0h0m5.5 0h0h.5m1.5 0h0m2.5 0h0h1m5 0h0m9 0h0m6 0h0m6.5 0h0m1.5 0h0h1m4 0h0m9 0h0m4 0h0m6 0h0m2.5 0h0m9 0h0h1m1.5 0h0m4 0h0h1h.5m11 0h0h.5m11.5 0h0h.5m1.5 0h0h.5m4 0h0m2 0h0m2 0h0h.5m3 0h0h1m4.5 0h0m2.5 0h0m2.5 0h0m2 0h0h.5m4 0h0m7 0h0h1m1.5 0h0m3.5 0h0m8 0h0m3.5 0h0m2 0h0m3.5 0h0h1h.5M80.5 391.1h0m4.5 0h0h.5m3.5 0h0m3 0h0m2 0h0m1.5 0h0m2 0h0m3 0h0m9.5 0h0m3 0h0m1.5 0h0m10.5 0h0m2 0h0h.5m1.5 0h0h.5m3.5 0h0m1.5 0h0m2 0h0m1.5 0h0m14 0h0h1m8 0h0m1.5 0h0h.5h1m4 0h0h.5m5.5 0h0h.5m10.5 0h0h1h.5m1.5 0h0m4.5 0h0m2 0h0m3.5 0h0h1m11 0h0h1m8 0h0h.5h1m6 0h0m3 0h0m2.5 0h0m3.5 0h0m5.5 0h0m2.5 0h0m1.5 0h0h1m3 0h0m5 0h0m2 0h0h1h.5h.5m4 0h0h1h.5m2.5 0h0m1.5 0h0m1.5 0h0h1h1m2.5 0h0h1m3.5 0h0h.5m3 0h0m1.5 0h0m4 0h0m1.5 0h0m1.5 0h0m1.5 0h0m1.5 0h0h.5h1h1h1h1h.5h.5h.5m5 0h0h.5m1.5 0h0h.5m3 0h0m2.5 0h0h.5h1m2.5 0h0m3 0h0m1.5 0h0m5 0h0m3 0h0h1m2 0h0h1m1.5 0h0h1h1m3 0h0m2 0h0h.5m2.5 0h0m3.5 0h0h1h.5h.5h1m5.5 0h0m2.5 0h0m3.5 0h0h.5m3 0h0h1m2 0h0m2.5 0h0h1h.5m1.5 0h0m5 0h0h.5m1.5 0h0m3 0h0m4 0h0h1m2.5 0h0h1m4 0h0h1h1h.5h.5m2 0h0m2.5 0h0m2.5 0h0m2.5 0h0m5 0h0m7 0h0m4 0h0h1m3 0h0h.5m3 0h0h1m2 0h0m1.5 0h0m1.5 0h0m4 0h0h.5m3 0h0h1h1h1h.5m4 0h0m5.5 0h0h.5m5 0h0m5.5 0h0m3.5 0h0m2.5 0h0m2.5 0h0m4.5 0h0h.5m4 0h0m1.5 0h0m3.5 0h0m2.5 0h0m1.5 0h0h.5h1m3.5 0h0m1.5 0h0m4 0h0m1.5 0h0h1m2 0h0h1h.5m4.5 0h0h1m4 0h0h.5h1h.5m2 0h0m1.5 0h0m2 0h0m13.5 0h0m5.5 0h0h1h1h1m4 0h0m2 0h0m6 0h0m3 0h0M82 388.5h0m9 0h0m9 0h0h.5m9 0h0h1m2 0h0m7.5 0h0m2 0h0h1m2.5 0h0m1.5 0h0h.5m3.5 0h0m2.5 0h0h.5m2 0h0h.5m3.5 0h0m5.5 0h0h1m7.5 0h0m4 0h0h.5m9.5 0h0m3.5 0h0m5 0h0m2 0h0m2.5 0h0m3 0h0h.5m2 0h0h1h.5m3.5 0h0h.5m6 0h0h.5h.5m2 0h0h1m2 0h0m4 0h0m12 0h0h.5m3 0h0h.5m2 0h0m1.5 0h0h1m2 0h0m9.5 0h0h1h.5h.5m2 0h0m4.5 0h0m3.5 0h0m3 0h0h.5m4.5 0h0m3.5 0h0h.5m2 0h0m1.5 0h0m3 0h0h.5h.5m4.5 0h0m2.5 0h0h.5h.5h1m8 0h0h1h1h.5m3 0h0h.5h1m1.5 0h0m3 0h0h1m5 0h0m2 0h0h1h.5m3 0h0m6 0h0m2.5 0h0h1m1.5 0h0h1h1m2 0h0m3 0h0h.5m1.5 0h0h1h1h.5h.5m2.5 0h0h.5m2 0h0m2.5 0h0m2 0h0h.5h.5h.5h1m1.5 0h0h1h.5h1h.5m6.5 0h0m3 0h0h1m2 0h0m9 0h0m3 0h0m1.5 0h0m1.5 0h0h1h1m1.5 0h0m5 0h0m2.5 0h0m4 0h0h1h1h.5m3 0h0m3.5 0h0m4 0h0m14 0h0m2 0h0h.5m2 0h0m5.5 0h0m4 0h0m3.5 0h0h1m4.5 0h0m8.5 0h0m4.5 0h0h1m1.5 0h0m1.5 0h0m2 0h0m2.5 0h0h1m3 0h0m4.5 0h0m4 0h0m5.5 0h0m2.5 0h0h.5m6.5 0h0m4 0h0m2.5 0h0m2.5 0h0h1m2 0h0m4 0h0m5.5 0h0m4.5 0h0m3.5 0h0m2.5 0h0h1h1m2.5 0h0h.5h.5h1m3.5 0h0h.5h1h1m4 0h0m3 0h0h1m5.5 0h0h1m13.5 0h0M79.5 386h0m1.5 0h0m7 0h0h1m2.5 0h0h.5m5 0h0m3 0h0m6.5 0h0m9 0h0m6 0h0m2.5 0h0h1h.5m6 0h0m3 0h0m3.5 0h0m2 0h0m2.5 0h0h.5m6.5 0h0m4.5 0h0h.5m2 0h0m1.5 0h0h1m2.5 0h0m3.5 0h0h.5m8.5 0h0m3 0h0m2.5 0h0m1.5 0h0m2.5 0h0m1.5 0h0h1h1m2.5 0h0m3.5 0h0m3 0h0m3.5 0h0m1.5 0h0m3 0h0m5.5 0h0m1.5 0h0m2.5 0h0h.5h1h.5m4 0h0m2.5 0h0m4 0h0h.5h.5m2 0h0h1m3 0h0m2.5 0h0h.5m3 0h0m5 0h0m1.5 0h0m2.5 0h0h.5m4 0h0m2 0h0h.5m2.5 0h0m4.5 0h0m2.5 0h0h1m3.5 0h0m1.5 0h0m3.5 0h0m1.5 0h0h1h.5h.5h1m3.5 0h0m3 0h0h1m1.5 0h0m5 0h0m2 0h0m2.5 0h0m1.5 0h0h1h1m2 0h0h.5h1m2 0h0h.5h.5h.5m2.5 0h0h.5m2 0h0m1.5 0h0m2.5 0h0m2.5 0h0h.5m5.5 0h0h.5h1h.5h1h.5m8.5 0h0h.5h1h.5m1.5 0h0m1.5 0h0h.5h.5m4 0h0m7.5 0h0h.5m4 0h0m1.5 0h0h.5m3.5 0h0m6 0h0h.5h.5h.5m2.5 0h0m4.5 0h0m3.5 0h0h.5m1.5 0h0m3 0h0m1.5 0h0h1h1m1.5 0h0m2 0h0m1.5 0h0m2 0h0m1.5 0h0h1h.5m1.5 0h0m2 0h0m2.5 0h0h.5m2.5 0h0m2.5 0h0h1h.5m3 0h0h1h.5m5.5 0h0m3 0h0h.5m3.5 0h0m2 0h0m4 0h0h1m1.5 0h0m2.5 0h0m3.5 0h0m1.5 0h0h.5h1h.5h.5m2.5 0h0m1.5 0h0m1.5 0h0h.5h.5m4.5 0h0m1.5 0h0m1.5 0h0h1h.5m4.5 0h0m4 0h0m7.5 0h0m1.5 0h0m3.5 0h0h.5h1m1.5 0h0h1m3 0h0m6 0h0h.5h.5m5 0h0m1.5 0h0m3 0h0m4 0h0m2 0h0m2 0h0m2 0h0m4.5 0h0m2 0h0m2.5 0h0h.5m2.5 0h0m5 0h0m2 0h0h1m4 0h0m2.5 0h0h1m5.5 0h0h1m4 0h0m6.5 0h0h.5h1h.5m1.5 0h0m2.5 0h0h1M79.5 383.5h0m5 0h0m1.5 0h0m2 0h0m9.5 0h0h.5h.5m2.5 0h0h.5m4 0h0m2 0h0m9 0h0h1m6.5 0h0m7 0h0h1h.5h1m4.5 0h0h1h1m3.5 0h0m2 0h0h1m9 0h0h.5m3 0h0m1.5 0h0h1h1m7 0h0m1.5 0h0m3 0h0h1h1m4 0h0h.5h.5m1.5 0h0h.5m10 0h0m1.5 0h0m5 0h0m2.5 0h0m1.5 0h0h.5m2 0h0m2 0h0h.5m2 0h0h.5m2 0h0m2.5 0h0h.5m7.5 0h0m1.5 0h0m1.5 0h0m2 0h0m1.5 0h0m3 0h0h.5h1m2 0h0h1m4.5 0h0h1m4.5 0h0h.5m9.5 0h0m4.5 0h0m2 0h0h.5h.5h.5h1m4.5 0h0m2 0h0h1h1m3 0h0m1.5 0h0h1h1m1.5 0h0h.5m4 0h0m5 0h0h1h.5m1.5 0h0h.5m2.5 0h0h.5m2 0h0h.5h1h1m3.5 0h0m3.5 0h0m4 0h0h.5h.5m3.5 0h0m2 0h0h1h.5h.5m2 0h0m3 0h0h1m4.5 0h0m2.5 0h0m3.5 0h0h1m1.5 0h0m2 0h0h1m3 0h0h.5m2 0h0h1h.5h1h.5h.5m1.5 0h0m1.5 0h0h.5m2.5 0h0m3 0h0m1.5 0h0h1m1.5 0h0m1.5 0h0h.5h.5h1h1m2.5 0h0m1.5 0h0h.5m3.5 0h0m2.5 0h0m4.5 0h0m5.5 0h0m1.5 0h0m3 0h0m2.5 0h0m2 0h0h1m5.5 0h0m2.5 0h0m4.5 0h0m1.5 0h0h1h1h.5m2 0h0h.5h.5m1.5 0h0h.5m5.5 0h0m3 0h0m4.5 0h0m3 0h0h.5h.5m3.5 0h0m2 0h0m5.5 0h0m2 0h0h.5m3 0h0m4 0h0m6.5 0h0m8.5 0h0m3.5 0h0m2.5 0h0m2 0h0m4 0h0h1h.5m6 0h0m1.5 0h0m2.5 0h0m4.5 0h0h1m5.5 0h0h.5m6 0h0m4 0h0m2.5 0h0m3.5 0h0m3 0h0h.5h1h.5m3.5 0h0m6.5 0h0m1.5 0h0h1m4.5 0h0m2.5 0h0m5.5 0h0m1.5 0h0m3 0h0m1.5 0h0m3 0h0m3.5 0h0h1h1M83 380.9h0h1m2 0h0m2 0h0m6 0h0m2 0h0h1m1.5 0h0h.5h1h.5m3 0h0m6.5 0h0m2.5 0h0h.5m2.5 0h0h.5h.5h1m16.5 0h0h.5m4 0h0h.5m2.5 0h0m2.5 0h0m2 0h0m2.5 0h0m6 0h0h1h1m7 0h0m2.5 0h0m2 0h0m1.5 0h0m2.5 0h0h1m4 0h0m3.5 0h0m3 0h0m2.5 0h0m1.5 0h0m6 0h0m1.5 0h0m5.5 0h0h1m4.5 0h0h1h1m2 0h0h.5h.5m2 0h0h.5h.5h.5m1.5 0h0h1m3.5 0h0h.5h1h1m2.5 0h0m9 0h0h.5h.5m1.5 0h0m4 0h0h.5m5.5 0h0m2 0h0h.5m2.5 0h0m2.5 0h0m4.5 0h0h.5m1.5 0h0m1.5 0h0h.5m3 0h0m2.5 0h0h.5m3 0h0m2 0h0m2 0h0h1m4 0h0h.5h.5h.5m2.5 0h0h1m4.5 0h0h1m2.5 0h0m3 0h0m1.5 0h0h1h1h.5h.5h.5h.5h.5h.5m2.5 0h0m2 0h0h1m2 0h0m3 0h0h.5m7.5 0h0m3 0h0h1h1h1m3.5 0h0h.5h1h.5h1m3.5 0h0h1m1.5 0h0h1h.5m2.5 0h0m5 0h0h.5h.5h.5m3 0h0m2 0h0m4 0h0m2 0h0h1m7.5 0h0h.5m2 0h0m2 0h0m1.5 0h0h.5m4.5 0h0m4 0h0m3.5 0h0m4.5 0h0h.5h1m7.5 0h0h.5m2.5 0h0m2 0h0m3 0h0h.5m2.5 0h0m2 0h0m2.5 0h0h1m4 0h0m2.5 0h0m3.5 0h0m1.5 0h0h.5m5 0h0m3 0h0m7.5 0h0m4 0h0m5.5 0h0m2 0h0m4.5 0h0h.5m1.5 0h0m2 0h0m9.5 0h0m2 0h0h.5m12.5 0h0m2 0h0m5 0h0m2 0h0m6.5 0h0m4 0h0m2 0h0m6.5 0h0m9.5 0h0h1m2 0h0h.5m5.5 0h0m1.5 0h0h1h.5m1.5 0h0m2.5 0h0m2.5 0h0m2.5 0h0m1.5 0h0h1m2 0h0m1.5 0h0m3.5 0h0m2 0h0m5 0h0h.5m2 0h0m2 0h0m2 0h0M78.5 378.4h0h.5m10.5 0h0m3 0h0h.5m2 0h0m7.5 0h0m6 0h0m2.5 0h0h.5m1.5 0h0m5 0h0h1m8.5 0h0m1.5 0h0m8.5 0h0m2 0h0m2 0h0m4 0h0h.5m7.5 0h0m5 0h0m3 0h0h1m5 0h0h.5m2 0h0h1h.5m3.5 0h0m2 0h0h.5m7 0h0m2.5 0h0m3 0h0h1m4 0h0m3 0h0m5 0h0h1m13.5 0h0h.5m1.5 0h0m10 0h0m1.5 0h0m2 0h0m4 0h0h1m2 0h0m2 0h0h1m1.5 0h0h.5m3.5 0h0m2.5 0h0h1h.5m2.5 0h0h.5m4 0h0h1h.5m2 0h0m8 0h0m1.5 0h0m1.5 0h0m2.5 0h0h.5h.5m6 0h0m3 0h0h.5m3 0h0h.5h.5m4 0h0m1.5 0h0h.5m1.5 0h0m1.5 0h0m7.5 0h0h.5m2.5 0h0m1.5 0h0h.5m1.5 0h0m2 0h0m7 0h0h1m3 0h0h1h1h1m3.5 0h0h.5m2.5 0h0h.5m1.5 0h0h1m1.5 0h0m3 0h0m1.5 0h0h1m1.5 0h0m1.5 0h0h1m5 0h0m2 0h0m2 0h0m4 0h0h1m1.5 0h0h.5h.5m2.5 0h0m3 0h0m2 0h0h.5m1.5 0h0h.5h1m2.5 0h0m2 0h0m2 0h0m5 0h0m4.5 0h0m1.5 0h0m2 0h0m4.5 0h0m2 0h0h1h1m3 0h0m1.5 0h0m6 0h0h1m4.5 0h0m2.5 0h0h.5m3 0h0h1m3.5 0h0m2 0h0m2 0h0m2 0h0h1m1.5 0h0m2.5 0h0m8 0h0m2.5 0h0m4 0h0h.5m2 0h0m3.5 0h0h.5m3 0h0h.5h.5h.5m2 0h0h1h1m4 0h0m2.5 0h0h.5h.5h1m4 0h0m2 0h0m1.5 0h0h1h1h.5m2 0h0m2 0h0h.5h1h1m1.5 0h0h1m13.5 0h0m3 0h0m7.5 0h0m1.5 0h0m10.5 0h0h.5m5 0h0m2 0h0m5.5 0h0m5.5 0h0m2 0h0h1h.5m9.5 0h0m2 0h0M79 375.9h0m2.5 0h0m2 0h0m6 0h0m4 0h0m1.5 0h0m2.5 0h0h.5m4.5 0h0h1m4 0h0h.5m2.5 0h0m8 0h0h1m1.5 0h0h1m15.5 0h0m3 0h0m2.5 0h0m1.5 0h0h1m5.5 0h0h.5h.5m2 0h0h.5m3 0h0h.5h.5m4 0h0m1.5 0h0m4 0h0m4.5 0h0m3 0h0m2.5 0h0h1m1.5 0h0m3 0h0h.5h.5h1h1m2 0h0m3.5 0h0m1.5 0h0h1m2 0h0m1.5 0h0m9.5 0h0h.5h1h1h1h1m2.5 0h0m1.5 0h0h1m2.5 0h0m2 0h0m3 0h0m6.5 0h0m3.5 0h0m2 0h0m2 0h0h.5h1m3 0h0m3 0h0m4.5 0h0m7.5 0h0m4 0h0h.5m2 0h0m1.5 0h0m6 0h0m1.5 0h0h.5h.5h1h.5h.5h.5h.5m2 0h0m2 0h0m2.5 0h0m1.5 0h0m5 0h0m2 0h0m1.5 0h0h1m4 0h0m2 0h0m2 0h0m2.5 0h0h.5m1.5 0h0h1m4 0h0h.5h.5m2.5 0h0m1.5 0h0m1.5 0h0m4 0h0m1.5 0h0m4 0h0h.5m2 0h0h1h.5h.5m2 0h0m4 0h0h1h.5m3.5 0h0h.5h.5m2 0h0h.5m1.5 0h0h.5h.5m3.5 0h0h1h1h.5m2.5 0h0m2 0h0h1h1m1.5 0h0h1m2.5 0h0h1m4 0h0m8 0h0h1m2 0h0m3 0h0m1.5 0h0h.5h.5h.5m1.5 0h0m8.5 0h0m2 0h0h.5h1h.5h.5h.5m3 0h0m1.5 0h0m1.5 0h0m2.5 0h0m2 0h0m2.5 0h0m1.5 0h0m3 0h0m2 0h0m5 0h0h1m5 0h0m3.5 0h0h.5h.5m2.5 0h0m3 0h0h.5h.5m5 0h0m5.5 0h0h1m1.5 0h0h.5h.5h1m1.5 0h0h1h.5m4 0h0m3 0h0h.5m1.5 0h0h1m9 0h0m2 0h0m2 0h0h.5h1h.5h.5h.5m2 0h0m3.5 0h0m2 0h0h1m2 0h0m2 0h0m2 0h0m1.5 0h0h.5m4 0h0h.5m3 0h0h.5m5 0h0m6 0h0m7 0h0h.5h1m2 0h0h.5m1.5 0h0m4.5 0h0h.5m5 0h0h.5m2 0h0h1m1.5 0h0h1h.5h.5m2 0h0m1.5 0h0m3.5 0h0m3.5 0h0m3 0h0h.5h1M81 373.4h0h.5h.5m7 0h0h.5m1.5 0h0m4 0h0m1.5 0h0h.5m4 0h0h.5h.5m1.5 0h0h1h.5h.5m3 0h0m2 0h0m2.5 0h0m1.5 0h0h1m15.5 0h0m3 0h0m4 0h0m3.5 0h0m1.5 0h0m14.5 0h0m6.5 0h0m7 0h0m1.5 0h0h1m3.5 0h0h1m6 0h0m7.5 0h0m6.5 0h0m2.5 0h0m3 0h0h.5m1.5 0h0m3.5 0h0h.5h.5m3 0h0m10.5 0h0h1m4 0h0m5.5 0h0m11.5 0h0h.5m3 0h0m1.5 0h0m3 0h0h1m2 0h0h.5h.5h.5h1h1m2 0h0m4 0h0h1h1m1.5 0h0h1m2.5 0h0m1.5 0h0h.5h.5h1h1m1.5 0h0h.5m4 0h0h.5h.5m4 0h0h.5h1h1h.5h.5m3 0h0m2.5 0h0h1m1.5 0h0h1h1h.5h1h.5h.5m2 0h0m2 0h0m2 0h0h1h.5m1.5 0h0m1.5 0h0h.5h.5m1.5 0h0m2.5 0h0m5 0h0m3.5 0h0h1m3.5 0h0h1m1.5 0h0h1h1h1m2 0h0m1.5 0h0h.5h.5h.5h1h1h1m2 0h0h.5h1h1h1m2 0h0h1m7.5 0h0m5.5 0h0h1h1m2 0h0m6.5 0h0h.5m3 0h0h.5h.5m2 0h0h.5h.5m2 0h0h1h.5m2.5 0h0m1.5 0h0m1.5 0h0m1.5 0h0h.5m2.5 0h0h1m4.5 0h0m3 0h0h.5m3 0h0h1h.5m7 0h0h.5h1m2.5 0h0m3.5 0h0h.5m2 0h0h1m6.5 0h0m4.5 0h0m1.5 0h0m1.5 0h0m1.5 0h0h.5h.5h.5m2 0h0m2 0h0m4.5 0h0m3 0h0h.5m2.5 0h0m1.5 0h0m2 0h0m3.5 0h0m5 0h0h1m3 0h0h1m2 0h0h1m2 0h0h.5h.5m2 0h0m1.5 0h0h1m2 0h0h1m4.5 0h0m3 0h0h1m1.5 0h0m1.5 0h0m2.5 0h0m2 0h0h.5m5 0h0m8 0h0m6.5 0h0m1.5 0h0m3.5 0h0m7.5 0h0m5 0h0m1.5 0h0m2 0h0m3.5 0h0m1.5 0h0m5.5 0h0m1.5 0h0m2 0h0m2 0h0m1.5 0h0m4.5 0h0M81.5 370.8h0h.5h1m2.5 0h0m9.5 0h0m6.5 0h0m14.5 0h0m1.5 0h0m6 0h0m13 0h0m8 0h0h.5m5.5 0h0m1.5 0h0m1.5 0h0h1h.5m9.5 0h0m3 0h0h1m2 0h0h1m5.5 0h0h.5m3 0h0m2.5 0h0h1m2.5 0h0h.5h.5m2 0h0m2.5 0h0m1.5 0h0m8 0h0m4.5 0h0h1m5.5 0h0m2 0h0h1h.5m5 0h0h1h.5m3.5 0h0h1h.5m5 0h0m2.5 0h0m2.5 0h0m1.5 0h0m2.5 0h0h1h.5m2 0h0h.5h.5m3.5 0h0m3.5 0h0h1h.5h1m3.5 0h0h.5h.5h.5m2.5 0h0h.5h.5m2 0h0m6 0h0m4.5 0h0m1.5 0h0h.5m2.5 0h0m2 0h0m1.5 0h0h.5h.5m1.5 0h0m1.5 0h0m2 0h0h.5h.5h.5h.5m1.5 0h0h.5h.5m3 0h0m1.5 0h0h1m6 0h0h1h1m1.5 0h0m1.5 0h0m3 0h0m1.5 0h0h.5m1.5 0h0h1m3.5 0h0h.5h1h1m3 0h0h1m3 0h0h1h1h1m2 0h0h1m1.5 0h0m2.5 0h0h.5m2.5 0h0m1.5 0h0m1.5 0h0m2.5 0h0m3 0h0m3.5 0h0h1h.5m2 0h0m1.5 0h0m4 0h0h.5m1.5 0h0h.5h.5h1m1.5 0h0h.5h1m2.5 0h0m2.5 0h0m9 0h0h.5h.5m2.5 0h0m1.5 0h0m2 0h0h.5h.5m4 0h0h1h1h1m2 0h0m1.5 0h0h.5m3 0h0h1m8 0h0m2 0h0m2.5 0h0m1.5 0h0m2 0h0h.5m2 0h0h.5h.5h1m8.5 0h0m5.5 0h0m2 0h0h.5h.5m2 0h0m2.5 0h0m2 0h0m6 0h0m2 0h0h1h.5h.5h.5h.5m1.5 0h0m1.5 0h0m1.5 0h0m2.5 0h0m6.5 0h0h.5h.5m2 0h0h1m6 0h0m3.5 0h0m2 0h0h.5m2.5 0h0m2 0h0h1m1.5 0h0h1m10 0h0m2 0h0h1h.5m2 0h0m1.5 0h0m4.5 0h0m2 0h0m2.5 0h0m10.5 0h0h1m1.5 0h0m2 0h0h1h.5m1.5 0h0h1m5 0h0m2 0h0h.5h.5m3 0h0h.5m1.5 0h0h.5m4.5 0h0h.5m1.5 0h0m3.5 0h0h.5M81 368.3h0m1.5 0h0m5 0h0m4.5 0h0m3.5 0h0m2.5 0h0h.5h.5m2.5 0h0m3 0h0m6.5 0h0h.5m3.5 0h0h1m1.5 0h0m3.5 0h0h.5m2 0h0m1.5 0h0m4 0h0m7 0h0m12.5 0h0h.5m2.5 0h0h1m2 0h0m3.5 0h0h1m4 0h0m1.5 0h0m3 0h0h.5m1.5 0h0h1m7.5 0h0m5.5 0h0m1.5 0h0m8 0h0m3.5 0h0m7.5 0h0m4 0h0m2.5 0h0m4 0h0m2.5 0h0m5.5 0h0m5 0h0m1.5 0h0h.5h.5h.5h.5m2 0h0m2.5 0h0m2.5 0h0m2 0h0m1.5 0h0m1.5 0h0m2 0h0m3.5 0h0m5.5 0h0m1.5 0h0m2.5 0h0h.5m1.5 0h0h1m2.5 0h0h.5h1h.5h1h.5h.5m3 0h0h.5h1h.5m3.5 0h0h.5h.5m2.5 0h0h.5h.5m1.5 0h0m2.5 0h0h.5m1.5 0h0h1h1h.5h1m2 0h0m2 0h0m1.5 0h0m2 0h0m2.5 0h0m1.5 0h0h.5m2.5 0h0h.5h.5h.5m2.5 0h0h.5h1m3 0h0h.5h.5m4 0h0m2 0h0m2.5 0h0m4 0h0m3.5 0h0h.5h1m1.5 0h0h.5m2.5 0h0h.5m3 0h0h1m3 0h0m1.5 0h0h.5m1.5 0h0m1.5 0h0h1h1m2.5 0h0h1h.5m1.5 0h0m1.5 0h0m2 0h0h1m2 0h0h1m6.5 0h0m1.5 0h0m2 0h0h1h1h.5m1.5 0h0h.5h1m1.5 0h0m4 0h0m1.5 0h0m6.5 0h0h1m5.5 0h0h.5m3 0h0h.5m2.5 0h0h.5h1h.5h.5m3 0h0h1h.5h.5m3 0h0m1.5 0h0m7 0h0m1.5 0h0m6.5 0h0m1.5 0h0m1.5 0h0m4.5 0h0m5 0h0m1.5 0h0m1.5 0h0h.5h1m2 0h0m3.5 0h0m2 0h0h1h.5m1.5 0h0h1m1.5 0h0m2 0h0m1.5 0h0h.5m2 0h0m1.5 0h0h1m8 0h0h.5m3 0h0m2 0h0m4 0h0m7 0h0m2 0h0m2 0h0h.5m1.5 0h0m5.5 0h0m4 0h0m2.5 0h0m7.5 0h0m4.5 0h0h1m2 0h0h.5m2.5 0h0h1m13.5 0h0h1m2.5 0h0m9.5 0h0m2 0h0h1h1h1m1.5 0h0m2.5 0h0M81.5 365.8h0m1.5 0h0m2.5 0h0m3.5 0h0m2 0h0h.5h.5h1m2 0h0m2 0h0m1.5 0h0h1m3 0h0h.5m4 0h0m4.5 0h0m2 0h0m6.5 0h0m5 0h0h1m2.5 0h0h1m3.5 0h0m3 0h0m1.5 0h0m3.5 0h0m1.5 0h0m7.5 0h0h.5m4 0h0m3 0h0m3 0h0h.5m2 0h0m6.5 0h0m2.5 0h0m4 0h0m4 0h0m2.5 0h0m4.5 0h0h.5m1.5 0h0m4 0h0h1h1h.5m2 0h0h1m3.5 0h0m2.5 0h0m4.5 0h0m7.5 0h0h1h.5m2 0h0m4 0h0h.5m4.5 0h0h.5h.5h.5m7.5 0h0m2.5 0h0h1m2 0h0m2 0h0m8 0h0m2 0h0h.5h.5m2.5 0h0h1h1m1.5 0h0h1m1.5 0h0h.5m3 0h0m1.5 0h0m4 0h0m2 0h0m1.5 0h0m2.5 0h0m2.5 0h0h1m1.5 0h0m3.5 0h0h.5m3 0h0h.5h.5h1m1.5 0h0h1h1m1.5 0h0h.5m2.5 0h0m1.5 0h0h.5h1h1m3 0h0h.5h.5h1h.5h1m2 0h0h.5h1h.5h1m2.5 0h0h.5h1h1h.5m3 0h0m5 0h0h.5h.5h.5h.5h.5m1.5 0h0h1m3.5 0h0m3 0h0m1.5 0h0m1.5 0h0h.5m2.5 0h0m2.5 0h0h.5m1.5 0h0h1h1m1.5 0h0m2 0h0m1.5 0h0m1.5 0h0h1h.5m3 0h0m3 0h0m1.5 0h0m2 0h0h.5h1m2 0h0m1.5 0h0h1m2 0h0m6 0h0h1m1.5 0h0m6 0h0h1h.5m2.5 0h0m1.5 0h0m2 0h0m4 0h0h1m1.5 0h0m2.5 0h0h.5h1m1.5 0h0h1h1h.5m2.5 0h0h1m6 0h0h.5h.5m4.5 0h0h1h1m1.5 0h0m2 0h0m2.5 0h0m1.5 0h0m3.5 0h0m1.5 0h0h1m1.5 0h0h.5m1.5 0h0h1m1.5 0h0m1.5 0h0m1.5 0h0m3.5 0h0m2.5 0h0m5 0h0m1.5 0h0m1.5 0h0m1.5 0h0h1m4.5 0h0m2 0h0h.5m1.5 0h0h1m6.5 0h0m6 0h0h1m3 0h0h1m1.5 0h0m1.5 0h0h.5h.5m4.5 0h0h1h.5h1m4 0h0h.5h1m4.5 0h0m1.5 0h0h.5m3.5 0h0m6 0h0m2 0h0m2 0h0h1h1h.5h.5m2 0h0h.5h.5m2.5 0h0m6.5 0h0h.5h.5m4.5 0h0h1h1m1.5 0h0m1.5 0h0m3 0h0h.5m2 0h0m1.5 0h0h1M82 363.2h0m11 0h0m8 0h0h1h1m3.5 0h0h1m1.5 0h0m3 0h0m2 0h0m2 0h0m4.5 0h0m3 0h0m4.5 0h0m3 0h0m4.5 0h0h1m1.5 0h0h1h1m4.5 0h0m4.5 0h0h1h.5m3.5 0h0m2.5 0h0m5 0h0m1.5 0h0h.5h.5m3.5 0h0m6 0h0m5.5 0h0m3.5 0h0m2.5 0h0h.5m5.5 0h0h.5h1m1.5 0h0h.5m4 0h0h.5m6 0h0h1m8.5 0h0m2 0h0m2 0h0h1m3 0h0h.5m2.5 0h0h.5m5.5 0h0m1.5 0h0m4.5 0h0h.5h.5m1.5 0h0h.5h.5m7.5 0h0h.5m7.5 0h0h.5m1.5 0h0h.5h1m3.5 0h0h1m1.5 0h0h1m1.5 0h0m7.5 0h0h1h.5h.5h.5h.5h.5h1h.5m1.5 0h0m4.5 0h0m1.5 0h0h.5h1m1.5 0h0h1m2 0h0m2.5 0h0m5 0h0h1h1h1m2.5 0h0h1h.5m3 0h0m3 0h0h.5h.5h.5m5 0h0h.5m4.5 0h0h.5m4.5 0h0m4 0h0h.5m1.5 0h0h1h.5m1.5 0h0m1.5 0h0h1m2.5 0h0h1h1m1.5 0h0h.5h.5h1m1.5 0h0h.5h.5m3.5 0h0m2 0h0m1.5 0h0m2 0h0h.5h1m1.5 0h0m1.5 0h0h.5m6 0h0h.5m2.5 0h0m4 0h0m1.5 0h0m4 0h0m1.5 0h0h.5m4 0h0h1m4 0h0m9 0h0h1h.5h1m2 0h0m2.5 0h0h.5h.5m3.5 0h0m2.5 0h0m2 0h0m2 0h0m2 0h0h.5m2 0h0h1h.5m2 0h0h.5h.5m1.5 0h0m4.5 0h0h1m3 0h0m2 0h0m4 0h0m2.5 0h0m1.5 0h0m1.5 0h0m2.5 0h0h.5m2.5 0h0h.5m3 0h0m1.5 0h0h.5m2 0h0h1m2 0h0h1m1.5 0h0m2.5 0h0m1.5 0h0h.5m5 0h0m8 0h0h1m3 0h0m9 0h0h1m2 0h0m1.5 0h0h.5h1m3 0h0h.5m3.5 0h0h1m2 0h0h1m8.5 0h0m5 0h0m2.5 0h0m3.5 0h0m4 0h0h.5m3.5 0h0m1.5 0h0m2.5 0h0h.5h1m3.5 0h0m2.5 0h0h.5m3 0h0m4 0h0m3 0h0M80 360.7h0m2 0h0m5.5 0h0m3.5 0h0m5 0h0m8.5 0h0m6 0h0m4.5 0h0m3 0h0h.5m3 0h0m5 0h0h1h.5m4.5 0h0h1m1.5 0h0h.5m5 0h0h1m9.5 0h0m3 0h0h1m3 0h0m3.5 0h0m2 0h0m2 0h0h.5m2.5 0h0h1h.5m3.5 0h0m1.5 0h0h1h1h.5h.5m1.5 0h0m3 0h0m1.5 0h0m1.5 0h0m2 0h0h1m3 0h0m3 0h0m1.5 0h0m2.5 0h0h.5m2 0h0m3.5 0h0m2.5 0h0h.5m2.5 0h0m5 0h0m2.5 0h0m3.5 0h0m2 0h0m1.5 0h0m10 0h0h.5h.5h.5m3.5 0h0h.5m2 0h0m2.5 0h0m2 0h0h1m2 0h0h.5m1.5 0h0h.5m4 0h0m1.5 0h0h1m2 0h0m3 0h0m4 0h0h.5h1h.5h.5h.5h.5m1.5 0h0h.5h.5h1h.5m4.5 0h0h.5h.5m3 0h0m2.5 0h0m3 0h0h.5h.5m3.5 0h0m1.5 0h0h.5h.5m1.5 0h0h.5m4 0h0h.5m1.5 0h0m1.5 0h0h1h1m3 0h0h.5h1h1m2.5 0h0h.5h1m2.5 0h0m2.5 0h0h.5m1.5 0h0m1.5 0h0h.5m1.5 0h0m5.5 0h0h.5h.5h.5m3 0h0h.5h.5m2 0h0m1.5 0h0m1.5 0h0m2 0h0m2 0h0h1m2 0h0h.5h1h.5h.5h1m3 0h0h.5h.5h.5h.5h.5m2 0h0m5 0h0m3.5 0h0h1m1.5 0h0m4 0h0h.5m1.5 0h0m2 0h0h.5m3 0h0m5 0h0m8 0h0h.5h1m2 0h0m1.5 0h0h1m7 0h0m7 0h0h1h1h1h1h1h.5h1h.5m1.5 0h0h1h1m2.5 0h0h.5m2 0h0m1.5 0h0h1m1.5 0h0m4 0h0m10.5 0h0m2.5 0h0m1.5 0h0h.5h1m2.5 0h0m5.5 0h0h1m7.5 0h0h1m6 0h0m2 0h0h.5m7 0h0m3.5 0h0m5 0h0m5.5 0h0m2 0h0h.5m2 0h0m1.5 0h0m4.5 0h0m2.5 0h0h.5h1m12.5 0h0h.5m3.5 0h0m3 0h0m6 0h0m2 0h0h1h1m4 0h0h1h.5m2.5 0h0m1.5 0h0m6 0h0m3.5 0h0m5.5 0h0M79 358.2h0m2.5 0h0h1m2.5 0h0h.5m2 0h0m2.5 0h0m2 0h0h.5m2 0h0h1h.5m1.5 0h0m3.5 0h0m5 0h0m8 0h0m1.5 0h0m1.5 0h0m8 0h0m4.5 0h0m3 0h0m4.5 0h0m2.5 0h0m4.5 0h0h.5m2 0h0m3 0h0h1m4.5 0h0h.5h1h.5m2 0h0m1.5 0h0m5.5 0h0m4.5 0h0m2 0h0m2 0h0h.5m2.5 0h0m1.5 0h0h.5m6 0h0m1.5 0h0m1.5 0h0m4 0h0m6 0h0m1.5 0h0h1h.5h.5m4 0h0h.5m1.5 0h0h.5m3.5 0h0m2 0h0m1.5 0h0m3 0h0m1.5 0h0h1m2 0h0h1m6 0h0m5.5 0h0h1m3 0h0h.5h1h1h.5m6 0h0m2 0h0h1m2 0h0h1m2.5 0h0h.5m1.5 0h0m2.5 0h0h.5h1m6.5 0h0m2 0h0m3 0h0m1.5 0h0m2.5 0h0h1m7 0h0h.5m1.5 0h0m1.5 0h0h.5h.5m1.5 0h0m4 0h0h1m3.5 0h0h.5m1.5 0h0m4 0h0h1h.5h.5h1m2 0h0h1m7.5 0h0h.5h.5m1.5 0h0h.5m4 0h0m5.5 0h0m2 0h0h.5m1.5 0h0h.5m2 0h0m1.5 0h0m2 0h0m4.5 0h0h.5m1.5 0h0m2 0h0h.5h.5m3 0h0h.5h.5h1h.5m3 0h0m1.5 0h0h1h1m2 0h0h.5h1m3 0h0m5 0h0h.5h.5m1.5 0h0h1m2 0h0h.5m3 0h0m3.5 0h0h.5h.5h1m1.5 0h0m2 0h0m2.5 0h0h1m1.5 0h0h.5m2.5 0h0m5.5 0h0m1.5 0h0h1m2 0h0m5 0h0m2 0h0m1.5 0h0h1h.5m4 0h0m2 0h0h.5h.5m1.5 0h0m3 0h0m1.5 0h0m2.5 0h0h1h.5m7 0h0m1.5 0h0h.5h1h.5m4 0h0h.5h1m1.5 0h0m4 0h0m2.5 0h0h.5m3 0h0h.5m5 0h0m3.5 0h0m6 0h0m2.5 0h0h.5m6.5 0h0m4 0h0h.5h1m2 0h0h.5m3 0h0m3.5 0h0m1.5 0h0m2 0h0m4 0h0m2 0h0m4 0h0h1m2 0h0m4 0h0m3 0h0m4 0h0m2.5 0h0m3 0h0h1m6 0h0m3 0h0h.5m3.5 0h0m2.5 0h0m1.5 0h0h.5h.5m7.5 0h0h.5h1m4.5 0h0M81.5 355.7h0m2 0h0m1.5 0h0m2 0h0h.5m7.5 0h0h1h.5h1m3 0h0h.5m4 0h0h.5h1m3 0h0m2 0h0m3 0h0h1m3 0h0h1m4 0h0m4 0h0h1m10.5 0h0m1.5 0h0m1.5 0h0m3 0h0h.5m3 0h0h.5h.5m4 0h0h1m1.5 0h0m4 0h0m1.5 0h0m2 0h0h1m2.5 0h0h.5m1.5 0h0h.5m6.5 0h0h.5h1h1m2.5 0h0m2.5 0h0m2 0h0h.5m2 0h0m1.5 0h0m3 0h0m1.5 0h0m4 0h0h1m1.5 0h0h.5m2.5 0h0m5 0h0h.5h.5h.5m2 0h0m3 0h0m4 0h0m2 0h0m1.5 0h0m2 0h0m1.5 0h0m1.5 0h0h1m3.5 0h0m1.5 0h0m1.5 0h0h.5h1m5.5 0h0m3.5 0h0m4.5 0h0m6 0h0m2 0h0m1.5 0h0h1h1m2.5 0h0h1m3 0h0h1m1.5 0h0h.5h1m1.5 0h0m3 0h0h.5h1h.5h.5h1m2.5 0h0h1m7.5 0h0h1m1.5 0h0h1h.5h1m2.5 0h0h1h1h1h.5h.5m1.5 0h0h.5m1.5 0h0m1.5 0h0h1h.5m2.5 0h0h.5h.5m2.5 0h0h1m2.5 0h0h.5m3 0h0m2 0h0h.5m2.5 0h0m2.5 0h0m1.5 0h0h1m3.5 0h0h1m2.5 0h0m2 0h0m3 0h0m1.5 0h0h.5h.5h.5m1.5 0h0h1h1h1m1.5 0h0m2 0h0m3 0h0h.5m1.5 0h0h.5h1h.5m1.5 0h0m1.5 0h0h.5h.5m1.5 0h0m2 0h0m3 0h0h1m8 0h0h.5m2 0h0m1.5 0h0m3 0h0h.5m3.5 0h0m1.5 0h0h1h.5h1h1m2 0h0m3.5 0h0h1h1m1.5 0h0h1h.5h.5m4.5 0h0h.5m9 0h0h.5h.5h1m4.5 0h0m2 0h0m4 0h0h1m2 0h0m1.5 0h0h.5h.5h.5m2.5 0h0m5 0h0m2.5 0h0h1m1.5 0h0h1h.5h.5h1m2 0h0m2.5 0h0m2 0h0h.5h.5m6.5 0h0m2 0h0m2.5 0h0m1.5 0h0h1h.5h1h1m4 0h0h.5h1h1m1.5 0h0m2 0h0h.5m2.5 0h0h.5m3.5 0h0m7 0h0m2 0h0m2 0h0h.5m14 0h0m1.5 0h0m2 0h0m2 0h0m3.5 0h0m1.5 0h0h1h1m5.5 0h0m3.5 0h0h1m6.5 0h0m3.5 0h0h.5h1m3 0h0h1h.5m1.5 0h0h.5m4.5 0h0h1m1.5 0h0m1.5 0h0h1M80 353.1h0m3 0h0h1m4.5 0h0m3 0h0m3 0h0m2 0h0h1h.5m8 0h0h1h.5m1.5 0h0m3 0h0m2.5 0h0h1m3 0h0m2 0h0m2 0h0m3.5 0h0m4 0h0m2.5 0h0m1.5 0h0h.5h1h.5m6 0h0m6 0h0m3 0h0m2.5 0h0m4 0h0h.5m4.5 0h0m1.5 0h0m4 0h0h.5h.5m6.5 0h0h.5h1h1m4 0h0m2 0h0h1h1m1.5 0h0m2 0h0m2.5 0h0m3.5 0h0m3 0h0m5.5 0h0h.5h.5h.5m3.5 0h0m4 0h0m6.5 0h0h.5h1m2 0h0h.5h.5m7 0h0m3.5 0h0h.5m2 0h0h1m1.5 0h0m3.5 0h0m4.5 0h0m2 0h0m1.5 0h0h1h.5m1.5 0h0h1m3.5 0h0m4.5 0h0m1.5 0h0h.5m2 0h0m4.5 0h0h1m2 0h0m2 0h0h.5m5.5 0h0m8.5 0h0m4 0h0h.5m2 0h0m3 0h0m2 0h0m2.5 0h0h.5m1.5 0h0h1m1.5 0h0h1h1m3.5 0h0h.5h.5m1.5 0h0h1h.5h1m2 0h0h.5h.5m1.5 0h0h1h.5m2 0h0m3 0h0m1.5 0h0h.5m2 0h0m3 0h0m2 0h0m2.5 0h0h1m1.5 0h0h.5h.5h1h.5h1h.5m1.5 0h0m1.5 0h0h1h1h1h.5m3 0h0h1h.5m3.5 0h0h.5h.5m3.5 0h0h1h1m1.5 0h0m2 0h0h.5m1.5 0h0h.5h.5h1h1h.5h.5h.5m1.5 0h0m1.5 0h0m2.5 0h0m6 0h0m3 0h0h1m1.5 0h0h.5m1.5 0h0h1h1h.5m6.5 0h0h.5h.5h.5m3 0h0m3 0h0h.5m2.5 0h0m2.5 0h0m3 0h0m3 0h0m3 0h0h.5m3.5 0h0m3 0h0m2.5 0h0m1.5 0h0m2 0h0m4.5 0h0m2.5 0h0m3.5 0h0h.5m4.5 0h0m7 0h0m3 0h0m3 0h0h.5h.5m6.5 0h0m6.5 0h0h.5m1.5 0h0h1m2.5 0h0m4 0h0h.5m2 0h0m7.5 0h0m3.5 0h0m5.5 0h0h1m2 0h0h.5m7 0h0m2 0h0h.5m8.5 0h0m1.5 0h0m2.5 0h0m3 0h0h.5m7 0h0m5 0h0h.5m6 0h0m4 0h0h.5m5.5 0h0M79.5 350.6h0m1.5 0h0h.5m1.5 0h0m5.5 0h0m2 0h0h1m1.5 0h0m2 0h0m2.5 0h0m1.5 0h0m4.5 0h0m3 0h0m3 0h0m3 0h0m12.5 0h0m2 0h0m1.5 0h0h.5m4 0h0h1m1.5 0h0h1h1h.5h1m6 0h0m1.5 0h0m2 0h0h1m2 0h0h.5m5.5 0h0m2 0h0m3 0h0m3 0h0m2 0h0m1.5 0h0m1.5 0h0m2 0h0m5 0h0m2.5 0h0h1m1.5 0h0h1m3.5 0h0m5 0h0h1h.5h1m2.5 0h0m2 0h0m3 0h0h.5m3.5 0h0m5.5 0h0m2.5 0h0m4 0h0m2 0h0h1h1m1.5 0h0m4 0h0m3 0h0h1m1.5 0h0m4.5 0h0h.5h.5m3 0h0m5 0h0m4 0h0m1.5 0h0m4 0h0m2.5 0h0h.5m2 0h0h1h1h.5m1.5 0h0m2 0h0h.5m1.5 0h0m1.5 0h0h1h.5m7 0h0m5.5 0h0h.5h.5m6 0h0m1.5 0h0m3.5 0h0h.5m2.5 0h0h1h.5m2 0h0h.5m2.5 0h0m7 0h0h1h1m2 0h0m2 0h0h1h1h.5m1.5 0h0h.5h1h1m4 0h0m2.5 0h0h1m1.5 0h0h.5m2 0h0h1m1.5 0h0h.5m2.5 0h0h.5h.5h.5h.5h.5m3 0h0h1m5.5 0h0h.5h.5h.5h.5h.5h1h.5h1m2.5 0h0m2 0h0m2 0h0m1.5 0h0m2 0h0h.5h.5m2.5 0h0h1h.5m6.5 0h0h1m1.5 0h0m4 0h0m2 0h0m4 0h0m2.5 0h0h.5m1.5 0h0h.5h1m1.5 0h0m1.5 0h0m2 0h0m2 0h0m4 0h0h1m2 0h0h.5m1.5 0h0h.5m2.5 0h0m2 0h0h.5m4 0h0m2.5 0h0h1m2 0h0m1.5 0h0m2 0h0h.5h.5m3.5 0h0m1.5 0h0m1.5 0h0m1.5 0h0m5.5 0h0h.5m2 0h0m3 0h0h.5h1m5.5 0h0h1m4.5 0h0h.5h.5m2.5 0h0m2 0h0m2.5 0h0m2.5 0h0h.5h1h.5m5.5 0h0m3.5 0h0h.5m2 0h0m1.5 0h0h.5m2 0h0h1m2.5 0h0m1.5 0h0m6.5 0h0m1.5 0h0h.5m1.5 0h0h.5m1.5 0h0h.5m4.5 0h0m4.5 0h0m2 0h0m2 0h0m4 0h0m4 0h0m3 0h0m4 0h0m13.5 0h0m1.5 0h0h.5h.5m3.5 0h0m7.5 0h0m3 0h0h1M80 348.1h0m1.5 0h0m6.5 0h0h1m8 0h0m6.5 0h0h1m2 0h0m1.5 0h0m1.5 0h0m1.5 0h0m2 0h0m4.5 0h0h1h.5h.5h1m1.5 0h0h1m2.5 0h0m2.5 0h0m3.5 0h0m2.5 0h0m4.5 0h0m7.5 0h0m3.5 0h0m2.5 0h0h1m1.5 0h0m1.5 0h0h1h.5m2.5 0h0m1.5 0h0h.5m1.5 0h0m3 0h0m3 0h0m4 0h0h1m1.5 0h0m5.5 0h0m4.5 0h0m4 0h0m4.5 0h0m7 0h0h.5m16.5 0h0h1m2.5 0h0m1.5 0h0m5 0h0m3 0h0m3.5 0h0h.5h1m2.5 0h0h.5h.5h.5m4.5 0h0m3.5 0h0m2 0h0h.5h.5h.5m1.5 0h0h.5m3 0h0m4.5 0h0m2 0h0m3 0h0h1m1.5 0h0m1.5 0h0h.5m1.5 0h0h.5m1.5 0h0h1m2.5 0h0h.5h.5h.5h.5m3 0h0m2.5 0h0m2 0h0m1.5 0h0m2 0h0h.5m3.5 0h0h.5h1h.5h.5h.5m1.5 0h0m4 0h0h.5h1m1.5 0h0h1h1m6.5 0h0h.5h.5h.5h1m2.5 0h0h1h.5h1m1.5 0h0h.5h.5h.5h1m1.5 0h0h.5m2 0h0m3 0h0h1h.5h.5m1.5 0h0m2 0h0h.5h1m1.5 0h0m1.5 0h0m1.5 0h0m4 0h0h.5h.5h1m1.5 0h0m1.5 0h0h1h.5h.5m1.5 0h0h1h.5h.5h.5m1.5 0h0m9.5 0h0m2 0h0h1m3 0h0h.5m1.5 0h0m2 0h0m4 0h0h1m2 0h0m1.5 0h0m3.5 0h0h.5h.5h1m3 0h0h.5m1.5 0h0m7.5 0h0h1m2.5 0h0m2 0h0h.5m1.5 0h0m3 0h0h1m2.5 0h0h.5m2.5 0h0m2 0h0h.5h.5h.5m5 0h0m7 0h0m2 0h0h.5m2 0h0m7.5 0h0m2.5 0h0h.5h1h1h1h.5m2.5 0h0h1h.5h.5h1m2.5 0h0m2 0h0h1h1m2.5 0h0h1m8.5 0h0m1.5 0h0m3 0h0m2 0h0m5 0h0m3.5 0h0h.5m4.5 0h0m6 0h0h1m1.5 0h0h.5h1m1.5 0h0m1.5 0h0h1h.5m2 0h0h1m9 0h0h1m1.5 0h0m3 0h0m1.5 0h0h.5m2.5 0h0m9 0h0h.5m4 0h0h.5m3 0h0h1m2 0h0h1h.5h1h1h1h1m2 0h0m3.5 0h0h1M80.5 345.5h0h.5h.5m4 0h0m5.5 0h0m1.5 0h0h.5h.5m1.5 0h0h.5h1h.5m3 0h0h.5m7.5 0h0m2.5 0h0m5.5 0h0m2 0h0h1m6 0h0h.5m3 0h0h1m1.5 0h0m2 0h0h1m4.5 0h0m2 0h0h1h1h1m1.5 0h0m1.5 0h0m10 0h0m3.5 0h0h1h.5m3.5 0h0m2.5 0h0h1m1.5 0h0m2.5 0h0m2 0h0m3 0h0h.5h.5h.5h1m5 0h0m2 0h0m2 0h0h.5h1m5.5 0h0m11 0h0m3 0h0h.5m4 0h0m6.5 0h0h1h1m1.5 0h0h1h.5m2.5 0h0h.5h1h1h.5h.5h1m2.5 0h0h.5h.5m1.5 0h0h.5m2 0h0m9 0h0h1h.5h.5m1.5 0h0m1.5 0h0h.5h1m4 0h0m5.5 0h0h.5m3.5 0h0h1h.5m4 0h0h1m4 0h0h.5h1h.5m2 0h0m1.5 0h0m2 0h0m2 0h0m5 0h0h.5h1m2 0h0h1h.5h.5m1.5 0h0m2 0h0h1m1.5 0h0m1.5 0h0h.5h.5m2 0h0m2.5 0h0m1.5 0h0m2 0h0h.5h1m2.5 0h0h.5h.5m1.5 0h0h.5m3 0h0m1.5 0h0h1h1h.5h1m1.5 0h0h.5m1.5 0h0m2 0h0m3 0h0m5.5 0h0h1m1.5 0h0m1.5 0h0h1m2.5 0h0h1h.5h.5m1.5 0h0m2 0h0m2 0h0h.5h1m2.5 0h0h.5m3 0h0h.5m3 0h0h.5m2.5 0h0m3.5 0h0m3 0h0m1.5 0h0m2 0h0m7 0h0h1m4.5 0h0m1.5 0h0h.5m2 0h0m2 0h0m3.5 0h0m4 0h0m2.5 0h0h1m1.5 0h0m1.5 0h0h1m3 0h0m2 0h0h.5h.5m2.5 0h0m9.5 0h0h1h1h1h.5m1.5 0h0h1m2 0h0h1m1.5 0h0h.5m3.5 0h0m7.5 0h0m1.5 0h0m7 0h0h1h.5h.5h.5m2.5 0h0m5.5 0h0h.5h.5m7.5 0h0m1.5 0h0m7.5 0h0m3.5 0h0m7.5 0h0m4 0h0m2 0h0m2.5 0h0m7 0h0h.5m1.5 0h0m5 0h0h1h1m3 0h0m4 0h0h.5h.5h1h1m1.5 0h0h1m2 0h0m1.5 0h0m3 0h0h1m1.5 0h0h1m4 0h0m3.5 0h0m3 0h0m3 0h0m2 0h0m2.5 0h0h1M80.5 343h0m1.5 0h0h1m5 0h0m1.5 0h0m6.5 0h0m5 0h0m2 0h0h.5m7.5 0h0h.5h1m1.5 0h0m1.5 0h0h.5m1.5 0h0m1.5 0h0m3 0h0h1m2.5 0h0h.5m1.5 0h0h.5m2 0h0m1.5 0h0m4 0h0h1h.5h1m1.5 0h0m1.5 0h0m2 0h0h1m8 0h0m1.5 0h0m2 0h0m5.5 0h0h1m4.5 0h0h1h.5m2 0h0m5.5 0h0m1.5 0h0m2.5 0h0m2.5 0h0m6.5 0h0m2.5 0h0m1.5 0h0m7 0h0h.5h.5m2 0h0m2.5 0h0m4.5 0h0h.5h.5m5.5 0h0m3 0h0m4 0h0m5 0h0m2.5 0h0m2 0h0h1m5 0h0m3.5 0h0m2.5 0h0m2 0h0m4 0h0h1m2.5 0h0h.5h.5m2 0h0m1.5 0h0m2 0h0m2.5 0h0m3 0h0h1h.5m1.5 0h0m1.5 0h0h1h.5m2.5 0h0m3 0h0m2.5 0h0m1.5 0h0m1.5 0h0m2.5 0h0h1m2 0h0m2.5 0h0m2 0h0h.5h1h.5h.5h1m1.5 0h0h1h.5h1h.5h.5m2 0h0m1.5 0h0m2.5 0h0m2.5 0h0m1.5 0h0h.5h.5h.5h1h.5h1h1h.5h.5h.5m2.5 0h0h.5m4 0h0h1h.5m3 0h0h1h.5m5.5 0h0h.5h1m4 0h0h.5m1.5 0h0m2.5 0h0h.5h.5m1.5 0h0h1h.5m2 0h0m2 0h0h.5h.5h.5h1h1h.5h1m3 0h0m2.5 0h0h1m1.5 0h0h.5m2.5 0h0h.5m1.5 0h0m3 0h0h.5m1.5 0h0m2 0h0h.5h.5h1h1m1.5 0h0h.5h1m2 0h0m1.5 0h0m2 0h0m2 0h0m1.5 0h0m4.5 0h0m5 0h0m2 0h0h1m3 0h0m2 0h0h1m1.5 0h0m1.5 0h0m4.5 0h0m2 0h0h.5h1h.5m1.5 0h0m4.5 0h0h1m1.5 0h0m2.5 0h0m2 0h0m2.5 0h0h1m5.5 0h0h1m4 0h0m2 0h0m1.5 0h0m1.5 0h0h.5m1.5 0h0m3 0h0m2.5 0h0h1h.5m7 0h0h.5m2 0h0h1h1m3 0h0m1.5 0h0h.5m1.5 0h0h.5m2.5 0h0h1m5.5 0h0h.5m1.5 0h0m3 0h0h1h.5m8 0h0m6 0h0h1h.5m1.5 0h0m2 0h0h.5h.5m2.5 0h0m1.5 0h0m4 0h0m1.5 0h0m3.5 0h0h.5h.5m2 0h0m4.5 0h0m2.5 0h0m2 0h0h.5m3 0h0m3.5 0h0h.5m2 0h0m6.5 0h0m1.5 0h0m1.5 0h0m2 0h0m4.5 0h0h.5M79.5 340.5h0m1.5 0h0h1m1.5 0h0m2 0h0m4 0h0m1.5 0h0m2 0h0m6 0h0h1h.5h.5m3 0h0m2.5 0h0m5 0h0m3 0h0h1m2 0h0m3 0h0h1m1.5 0h0m3.5 0h0h1m1.5 0h0m3.5 0h0m2.5 0h0h1m5 0h0h1h.5m4 0h0m2 0h0m2 0h0m2.5 0h0m4 0h0m1.5 0h0m6.5 0h0m1.5 0h0m1.5 0h0m1.5 0h0h1m8.5 0h0m1.5 0h0m3 0h0m5.5 0h0m2.5 0h0m3 0h0h.5m3.5 0h0m1.5 0h0h1m1.5 0h0m1.5 0h0m4 0h0m3 0h0m7.5 0h0m1.5 0h0m2 0h0h.5m6 0h0h.5m11.5 0h0m3.5 0h0m1.5 0h0h.5m3 0h0m2 0h0h1m1.5 0h0h.5h1h.5m1.5 0h0h.5m2 0h0m1.5 0h0m3 0h0m2 0h0h.5h1m2.5 0h0h1m2 0h0h1m4.5 0h0m3.5 0h0h.5h.5h1h1h.5h.5m1.5 0h0m1.5 0h0m2 0h0h.5m1.5 0h0h.5m2 0h0m3 0h0m1.5 0h0m1.5 0h0h.5h.5m5 0h0m2 0h0m1.5 0h0h1h1m1.5 0h0h.5m2 0h0h.5h1h.5m3.5 0h0m2 0h0h1h.5m2 0h0h.5h1m1.5 0h0m1.5 0h0m1.5 0h0h.5h1h.5h.5h.5h.5h1m1.5 0h0h1h1h.5h1h.5h.5h1h.5m1.5 0h0m2 0h0m1.5 0h0m1.5 0h0h1h1h1h.5h1h1h.5h.5h.5h.5h1h1m1.5 0h0h1h1h1h.5m1.5 0h0m1.5 0h0h1m7.5 0h0m5 0h0h.5h1h.5h.5h.5m10.5 0h0h1h.5m2 0h0m2.5 0h0m2.5 0h0h1m2.5 0h0m1.5 0h0h.5m11 0h0h.5m4 0h0h.5h1h.5h.5h.5m3 0h0m3.5 0h0m1.5 0h0h1h.5h1m1.5 0h0m4.5 0h0h.5m6.5 0h0h.5m2 0h0m1.5 0h0m1.5 0h0m2 0h0h1m4 0h0m4 0h0m3 0h0m2.5 0h0m1.5 0h0h.5m3.5 0h0m2.5 0h0m1.5 0h0m2 0h0m1.5 0h0m3 0h0m1.5 0h0h.5m1.5 0h0m5 0h0m4.5 0h0m4 0h0m3.5 0h0m7.5 0h0m6 0h0h.5h1h1m5.5 0h0h.5m8.5 0h0m4.5 0h0h.5m3 0h0m4.5 0h0h.5m4.5 0h0m10.5 0h0m1.5 0h0h.5M79.5 337.9h0h.5m2 0h0m5.5 0h0m9 0h0m6.5 0h0m3 0h0h.5h1h1h.5m1.5 0h0m3.5 0h0h1h.5m2 0h0m1.5 0h0m2 0h0m2 0h0m2 0h0m3.5 0h0m3 0h0h.5m3.5 0h0m1.5 0h0m2.5 0h0m2 0h0m5 0h0m3 0h0m12 0h0m1.5 0h0m5 0h0m3 0h0m14 0h0h.5m5 0h0m4.5 0h0m5 0h0m1.5 0h0m3.5 0h0h.5m11 0h0m1.5 0h0h1m3 0h0h1m7 0h0m1.5 0h0h.5h1m7.5 0h0m2 0h0m1.5 0h0h.5m3 0h0m2.5 0h0h1m3 0h0m1.5 0h0h1m4 0h0h1m2.5 0h0h.5m2 0h0m1.5 0h0m2.5 0h0m1.5 0h0h1m1.5 0h0m4 0h0h1m2 0h0h.5h1m1.5 0h0m2.5 0h0m2.5 0h0h1h.5h1h1h.5m2.5 0h0h.5h.5h.5m2 0h0h.5h.5m3.5 0h0h.5h.5h.5h1m8 0h0h.5h1h1m2.5 0h0h.5h.5m1.5 0h0m2 0h0h1m2 0h0m3 0h0h.5h.5h.5m2.5 0h0m2 0h0h.5h.5m1.5 0h0h.5m2 0h0m2 0h0m1.5 0h0m4 0h0h.5h1h1m1.5 0h0m1.5 0h0h1m2.5 0h0h1h1h1h.5m3 0h0h.5h1m2.5 0h0h1m5.5 0h0m2.5 0h0m2.5 0h0h.5m4.5 0h0h.5h1m1.5 0h0h1m4.5 0h0h1h.5m9 0h0h1m1.5 0h0h1m3 0h0h.5m1.5 0h0m4.5 0h0h.5h1m2 0h0m3.5 0h0m6 0h0h1m4.5 0h0m4.5 0h0h.5h.5m3.5 0h0m4.5 0h0m7 0h0m1.5 0h0h.5h.5m3.5 0h0m3 0h0h.5m4 0h0m1.5 0h0m6.5 0h0m9.5 0h0h.5m3.5 0h0h1h.5m5.5 0h0m2 0h0m5 0h0m2 0h0m4.5 0h0m2.5 0h0h1m4 0h0m2 0h0m4 0h0m4 0h0h.5m5 0h0m12.5 0h0m2 0h0h1m3 0h0m2 0h0h1h1h.5m3 0h0m2.5 0h0m1.5 0h0m1.5 0h0m2 0h0h.5M80.5 335.4h0m4 0h0m1.5 0h0m3 0h0h.5h.5h1h.5m6.5 0h0m2 0h0m3.5 0h0m1.5 0h0h.5m5.5 0h0h1m2 0h0h1m2 0h0m2.5 0h0h1m7.5 0h0m1.5 0h0h1h.5m4 0h0m1.5 0h0h.5m3.5 0h0m2.5 0h0m5.5 0h0h1h1h.5h1h1h1h1h.5m3.5 0h0h.5h.5h.5m4 0h0m6.5 0h0h.5m1.5 0h0h.5m3 0h0m2 0h0h.5h.5m2 0h0h1m5 0h0h.5m1.5 0h0m2.5 0h0m2.5 0h0h1m4 0h0h.5m3.5 0h0m6 0h0h.5h1h.5h1m2.5 0h0m3.5 0h0h.5m1.5 0h0m8.5 0h0m2 0h0h.5h.5m2 0h0h.5h1h1h.5m3.5 0h0m2.5 0h0h.5m8 0h0m2 0h0m1.5 0h0m2 0h0h.5m1.5 0h0m2.5 0h0h.5h.5m2.5 0h0h1h.5m1.5 0h0h1m4 0h0h.5h.5h.5m1.5 0h0h.5m1.5 0h0h1h.5h.5m2.5 0h0m6 0h0h.5m4.5 0h0h.5m1.5 0h0h.5h.5m2.5 0h0h1m1.5 0h0h.5m2 0h0m3.5 0h0h1m2 0h0h.5h1h.5h1m3 0h0m2 0h0h1h.5h.5h1m4 0h0h.5m3 0h0m2 0h0h1h.5h.5m2 0h0m2.5 0h0m1.5 0h0m2.5 0h0m2.5 0h0h.5h.5h1h1h.5h1h.5h.5h.5h1m1.5 0h0h.5h.5h.5m2.5 0h0m1.5 0h0h.5m1.5 0h0h.5h1m1.5 0h0m2.5 0h0h.5h.5h1m1.5 0h0m1.5 0h0h1h.5h.5h.5m2 0h0h.5h.5m1.5 0h0m1.5 0h0m4 0h0h1m2.5 0h0m1.5 0h0h.5m1.5 0h0h.5m3 0h0h.5m7 0h0h.5m10.5 0h0m4 0h0m2 0h0h1m2 0h0h.5m3 0h0h.5h.5h1h.5h.5h1h1h1m1.5 0h0m2 0h0h.5h1h1h1m2.5 0h0m4 0h0m3 0h0m3.5 0h0m1.5 0h0h1m2.5 0h0m3.5 0h0h1h.5m3.5 0h0h.5h1h1m1.5 0h0m5 0h0m4.5 0h0m1.5 0h0m4 0h0h.5h.5m4 0h0m2 0h0m3 0h0m4 0h0m2 0h0m7.5 0h0m3.5 0h0m3 0h0m5.5 0h0h1m2.5 0h0m1.5 0h0m1.5 0h0m4.5 0h0m7 0h0h.5m1.5 0h0m3 0h0m6.5 0h0h.5h.5m2 0h0h1m1.5 0h0m9 0h0m1.5 0h0h.5h1M80.5 332.9h0h.5m1.5 0h0m3 0h0m4.5 0h0h.5h.5m4.5 0h0h1m1.5 0h0m3.5 0h0m2.5 0h0m3.5 0h0m2 0h0h1h1m7.5 0h0m3 0h0m8.5 0h0h1m2.5 0h0m1.5 0h0m1.5 0h0m2 0h0m1.5 0h0m2.5 0h0m1.5 0h0h1m2 0h0h.5m1.5 0h0m7 0h0m9 0h0m4.5 0h0m1.5 0h0m2.5 0h0m5 0h0h1m3 0h0h.5m1.5 0h0h1h1m2 0h0m1.5 0h0m3.5 0h0h.5m2 0h0m6 0h0m2 0h0h1m3 0h0h.5m2 0h0h1m5.5 0h0h.5m6.5 0h0m2.5 0h0m2 0h0m8.5 0h0m1.5 0h0h1m3.5 0h0m5 0h0h.5m3.5 0h0m1.5 0h0h1m1.5 0h0h.5h.5h.5m3.5 0h0h1h1m1.5 0h0m1.5 0h0m3 0h0m3 0h0m5 0h0m3 0h0h.5m1.5 0h0h1h.5m1.5 0h0m5.5 0h0h1h.5h1h1h.5h.5h1m4 0h0h1h1m2 0h0h.5h1h.5m1.5 0h0m3 0h0h.5h.5h.5h1m3 0h0h.5h.5m1.5 0h0m3.5 0h0h.5h.5m3 0h0h1m2.5 0h0h.5m2 0h0h.5h.5h.5h1m1.5 0h0m3 0h0h.5h1h.5h1h1m3 0h0h.5h1m3.5 0h0m3.5 0h0m2.5 0h0h.5h1h.5h.5m5 0h0h.5m3.5 0h0h.5h1m11.5 0h0m1.5 0h0h.5h1h.5m1.5 0h0h.5m3 0h0h.5m2 0h0h1h.5m3 0h0m2.5 0h0m5 0h0h.5m1.5 0h0h.5m2.5 0h0m1.5 0h0m9 0h0m7.5 0h0m2.5 0h0m2.5 0h0h1m2.5 0h0m6 0h0h.5m5 0h0m7.5 0h0m6 0h0m1.5 0h0h.5m3.5 0h0m1.5 0h0m4 0h0m10 0h0m1.5 0h0m2 0h0m2.5 0h0h.5h1m2 0h0m1.5 0h0m4.5 0h0m2.5 0h0h.5m5.5 0h0m2 0h0m3.5 0h0m11.5 0h0h.5m3.5 0h0h.5h1m11.5 0h0m4.5 0h0h.5m1.5 0h0m4.5 0h0m2 0h0m2 0h0h1h1m4.5 0h0h1h.5h.5m3 0h0M78.5 330.4h0h.5h.5m6.5 0h0m2.5 0h0h.5m5.5 0h0h.5m2 0h0m1.5 0h0m3 0h0m3 0h0m2 0h0m7 0h0m1.5 0h0h1h.5m4.5 0h0m4.5 0h0m3.5 0h0h1m1.5 0h0m6 0h0h1h.5m3 0h0h1m2 0h0m1.5 0h0m8.5 0h0m2 0h0m4 0h0m2.5 0h0m3 0h0m2.5 0h0h1m9.5 0h0h.5h.5m1.5 0h0h.5m1.5 0h0m5.5 0h0h.5h.5m2 0h0m1.5 0h0h1m13 0h0m4.5 0h0h1m1.5 0h0h1h1h.5m3.5 0h0h.5h.5m3 0h0h1m5 0h0m3 0h0m2 0h0h1m2 0h0m7 0h0m2.5 0h0m4 0h0h1h1h1h1m3 0h0m1.5 0h0m1.5 0h0m3.5 0h0m2.5 0h0m2 0h0m2.5 0h0m3.5 0h0h.5m1.5 0h0m1.5 0h0h.5m2 0h0h.5m2 0h0m3.5 0h0h.5h.5h1m3 0h0h.5h1m2.5 0h0m2 0h0h1h1h.5h1m2.5 0h0m1.5 0h0h.5m1.5 0h0h1h1h.5m5 0h0h1h1h.5h.5m2 0h0m2 0h0m1.5 0h0h.5m2.5 0h0h.5m2.5 0h0m2 0h0h.5m2.5 0h0h.5m2.5 0h0m1.5 0h0m2 0h0h.5m1.5 0h0h.5h1h.5m2.5 0h0h1h.5h.5h1h1m1.5 0h0h1m3 0h0m4 0h0h.5h1h1m1.5 0h0h.5h1h.5h1m2 0h0h.5m2 0h0m1.5 0h0m3.5 0h0m3 0h0m2.5 0h0h1m2 0h0h1h.5m4 0h0h.5h.5m2.5 0h0m1.5 0h0m4.5 0h0m2 0h0m5.5 0h0m5 0h0m3 0h0h.5h1m2.5 0h0h1m3.5 0h0m8.5 0h0m1.5 0h0m1.5 0h0m1.5 0h0h.5h.5m9.5 0h0m11 0h0m5 0h0m4.5 0h0m4 0h0m2.5 0h0h.5m3.5 0h0h1m2 0h0m3.5 0h0m5.5 0h0m4.5 0h0m3.5 0h0h.5m2.5 0h0h.5h1m1.5 0h0m10 0h0m6 0h0m1.5 0h0h1h.5h.5m3.5 0h0m2 0h0m4.5 0h0m4.5 0h0m4 0h0h1m7 0h0m5.5 0h0h1m2 0h0m2 0h0M79 327.8h0m4.5 0h0m1.5 0h0h.5m3 0h0m2.5 0h0m6.5 0h0h1m1.5 0h0m5.5 0h0h1m3 0h0m10 0h0m22.5 0h0h1m3 0h0h1m1.5 0h0m3.5 0h0h.5m1.5 0h0h1m1.5 0h0h.5h1h1m4.5 0h0m1.5 0h0m3.5 0h0h1h.5m3.5 0h0m4 0h0h.5h1m3 0h0m3 0h0m2 0h0m4 0h0m3 0h0h.5m2 0h0h.5h.5m5.5 0h0m4.5 0h0m8 0h0m5.5 0h0m8 0h0m3.5 0h0h.5h.5m2 0h0m1.5 0h0m2.5 0h0h.5m3.5 0h0m3 0h0m1.5 0h0m1.5 0h0m1.5 0h0m3 0h0m4.5 0h0m3.5 0h0m3 0h0h.5h.5h.5m2.5 0h0h1h.5m2.5 0h0h1m2.5 0h0h1m4 0h0m3 0h0h.5h.5h1h1h.5m2.5 0h0m2.5 0h0m1.5 0h0m4 0h0m2 0h0h.5h1m3.5 0h0m1.5 0h0m2 0h0m1.5 0h0h.5h.5h.5h.5m2 0h0h.5m1.5 0h0m2 0h0h1h1h1h.5h.5h1m1.5 0h0m1.5 0h0h.5m1.5 0h0h.5h.5h.5h.5m4 0h0m2 0h0h.5h1h.5m1.5 0h0m3 0h0h.5h.5m1.5 0h0m1.5 0h0m1.5 0h0m1.5 0h0m2 0h0m4 0h0m4.5 0h0m2 0h0h.5h1m5.5 0h0m2 0h0h.5m2 0h0h1m3.5 0h0m2 0h0m1.5 0h0h.5h.5h.5m2 0h0m6 0h0h.5m4.5 0h0m6.5 0h0h1h1h.5h.5m4.5 0h0h1m2.5 0h0m1.5 0h0m5.5 0h0m12 0h0h.5m2.5 0h0m1.5 0h0h.5m3 0h0m2.5 0h0m2.5 0h0h.5m2 0h0m2 0h0m5.5 0h0h1h1m1.5 0h0m2 0h0m2 0h0h.5m3 0h0m2 0h0m4 0h0m2 0h0m6 0h0m8 0h0h.5h1h1h.5m1.5 0h0h1m4.5 0h0m3 0h0h.5m6.5 0h0m2.5 0h0m2.5 0h0h1h1m3 0h0h1m3.5 0h0h.5h.5m5 0h0m2 0h0h.5m2.5 0h0h.5h1m14 0h0m10 0h0m1.5 0h0m7 0h0h.5h.5M80 325.3h0m1.5 0h0m1.5 0h0h1m2 0h0h.5m2.5 0h0m3 0h0h1h.5m1.5 0h0m3.5 0h0m5.5 0h0m4.5 0h0m2 0h0h1h.5m4 0h0m11.5 0h0m1.5 0h0m8.5 0h0h1m2 0h0m4 0h0m3.5 0h0h1m3 0h0m4.5 0h0m5.5 0h0m3 0h0h.5h.5m3 0h0m1.5 0h0h.5m6 0h0m1.5 0h0m4 0h0m2.5 0h0m6.5 0h0m1.5 0h0m2 0h0m1.5 0h0m1.5 0h0m2.5 0h0m3.5 0h0h1m5 0h0m2.5 0h0m5.5 0h0m2.5 0h0m1.5 0h0m2.5 0h0h1m2.5 0h0h.5m6 0h0h1m5 0h0m3.5 0h0h1m6.5 0h0h.5h.5h1h.5h1h1h.5h1m2 0h0m3 0h0m2.5 0h0h1h1m2.5 0h0m1.5 0h0m1.5 0h0m3.5 0h0m1.5 0h0h.5m4 0h0h1m1.5 0h0m1.5 0h0m3 0h0m3.5 0h0m1.5 0h0h.5h.5h.5m3 0h0h1h1h.5m2 0h0m1.5 0h0h.5m3 0h0m2.5 0h0h1h.5h1h.5h1h.5h.5m3.5 0h0m3 0h0m2.5 0h0m1.5 0h0h1h.5m1.5 0h0h.5m1.5 0h0h1h.5h.5m3 0h0h.5m1.5 0h0h.5h.5h1h1h1h1m2 0h0m2 0h0h.5m3 0h0m1.5 0h0m2.5 0h0m3.5 0h0h.5h1m4 0h0m2.5 0h0h.5h1m4 0h0m3 0h0m2 0h0m1.5 0h0h.5h.5h1m2 0h0h1h.5m3 0h0m1.5 0h0m1.5 0h0h1h1m3 0h0h.5h.5m1.5 0h0m1.5 0h0m2 0h0m1.5 0h0h1m3.5 0h0m3.5 0h0h.5m6 0h0m1.5 0h0h.5h.5h.5m1.5 0h0h.5h1m11 0h0m1.5 0h0m1.5 0h0m4.5 0h0m1.5 0h0m2 0h0m7 0h0m4 0h0m3 0h0m4.5 0h0h.5m1.5 0h0m3.5 0h0m2.5 0h0m6 0h0h.5m2.5 0h0m10 0h0m15 0h0m1.5 0h0m3 0h0m7.5 0h0h.5h.5h.5m1.5 0h0m6.5 0h0m3 0h0h.5h1h1m3 0h0m2 0h0m4 0h0m4.5 0h0h1h.5m1.5 0h0m4 0h0h.5m1.5 0h0m4 0h0m3.5 0h0m1.5 0h0m1.5 0h0m1.5 0h0m1.5 0h0h.5h.5h.5h.5h.5h1M78.5 322.8h0m13 0h0h1m3 0h0m2.5 0h0m2 0h0h.5m1.5 0h0m3.5 0h0h.5m2 0h0m13.5 0h0m3 0h0m2.5 0h0h1m3.5 0h0h.5m3.5 0h0h1h.5m1.5 0h0m1.5 0h0h1m3 0h0m11.5 0h0m7.5 0h0m4 0h0h.5h1h.5m5 0h0m1.5 0h0m1.5 0h0h.5m3.5 0h0m2 0h0h1h.5m1.5 0h0h.5m7.5 0h0h1h1m2 0h0m6.5 0h0m2.5 0h0h1h1m7 0h0m1.5 0h0m5 0h0m1.5 0h0h1h.5m2.5 0h0h1m1.5 0h0m2 0h0h1h1h.5m2 0h0h.5m4.5 0h0m2.5 0h0m2 0h0m2.5 0h0h.5m1.5 0h0m1.5 0h0h.5h.5m2 0h0m1.5 0h0m2 0h0h.5h1m3.5 0h0h.5h1h1m2 0h0h.5h1m2.5 0h0h.5h.5m1.5 0h0m2.5 0h0m4.5 0h0m4 0h0h.5h.5m1.5 0h0h.5h.5h.5h1h1h.5h.5m4.5 0h0m1.5 0h0m1.5 0h0h1m2.5 0h0h.5h.5h1h1h1m4 0h0h1h.5h.5h.5h.5h1h.5h1m1.5 0h0m1.5 0h0h.5h.5h.5m1.5 0h0m1.5 0h0h.5h.5m2.5 0h0h.5m3 0h0m3 0h0h.5h.5h1h.5m2.5 0h0h.5h.5m2 0h0h.5m2.5 0h0h1m3 0h0h.5m2 0h0h1h.5h.5m1.5 0h0m1.5 0h0m2.5 0h0h1h.5h.5m1.5 0h0m1.5 0h0m1.5 0h0h.5m2.5 0h0m3.5 0h0h1m3.5 0h0h1h1m2 0h0h.5m1.5 0h0m1.5 0h0h1h1m3 0h0m2 0h0h1m3.5 0h0h1h.5h.5m2.5 0h0m2.5 0h0m2 0h0h.5m1.5 0h0m2.5 0h0h1m3 0h0m9 0h0m2 0h0m3.5 0h0m3.5 0h0m1.5 0h0m2.5 0h0h.5m5 0h0h1m3.5 0h0h.5h.5h.5m6 0h0h1h1h1m7.5 0h0h.5h.5m9.5 0h0m9.5 0h0h.5h.5m5 0h0m4.5 0h0m4 0h0h.5h.5m7 0h0h.5h1h.5m2 0h0h1m2.5 0h0m3 0h0m3.5 0h0h1m3.5 0h0h.5h.5m3.5 0h0m2 0h0m3 0h0m3.5 0h0m2 0h0m1.5 0h0h1m3 0h0m2.5 0h0m2.5 0h0h1h1m3.5 0h0m1.5 0h0h1m2.5 0h0m1.5 0h0m2 0h0m2 0h0m2.5 0h0m1.5 0h0h1M89.5 320.2h0h1m2.5 0h0h.5m7 0h0m2.5 0h0m6.5 0h0m5 0h0m7 0h0m2.5 0h0h.5m4 0h0m2 0h0m4.5 0h0m3.5 0h0h.5h.5h.5m3.5 0h0m2.5 0h0m4.5 0h0m4.5 0h0m4 0h0m5 0h0m1.5 0h0m7 0h0m2 0h0m2 0h0h1m3.5 0h0m2 0h0h1m2 0h0h.5m2.5 0h0m1.5 0h0m3 0h0m4 0h0m2 0h0m1.5 0h0h.5m1.5 0h0m4 0h0m2 0h0h1m7 0h0h1h1m4 0h0h1m6.5 0h0h1m1.5 0h0m3.5 0h0h1h.5h1h.5m9 0h0h1h.5m1.5 0h0m2 0h0m2 0h0m2.5 0h0h.5m2 0h0h.5h.5m3.5 0h0m2 0h0h1h1h.5h.5m3 0h0h.5m3.5 0h0m2 0h0h.5h1h1m6 0h0h.5h.5m2 0h0h.5m3 0h0m2.5 0h0m1.5 0h0h1h1h.5h1h1h.5h1h1m1.5 0h0h1m1.5 0h0m1.5 0h0h.5m1.5 0h0h1m1.5 0h0h.5m1.5 0h0m4.5 0h0m2 0h0h.5h.5m2.5 0h0h1h.5h1h.5h1h1m2 0h0m2 0h0h.5h.5m3 0h0m2 0h0h.5m1.5 0h0m1.5 0h0m2 0h0h1h1m2 0h0h.5m1.5 0h0m1.5 0h0m1.5 0h0h.5h.5h.5h.5m2 0h0h.5h.5h1h1h1h.5h.5m3.5 0h0m2.5 0h0m3 0h0h1m4 0h0m2.5 0h0h1m2.5 0h0m2 0h0m2 0h0h.5m11 0h0m1.5 0h0m1.5 0h0h1m4 0h0m3 0h0h.5m8 0h0h.5h1m4 0h0h.5m2.5 0h0h.5h1h.5h1m2.5 0h0m1.5 0h0m2.5 0h0m8.5 0h0h.5m3.5 0h0m5 0h0m2 0h0m2 0h0m6.5 0h0m2.5 0h0m3 0h0m4.5 0h0m3.5 0h0m2.5 0h0m1.5 0h0h1h1m3 0h0h.5m6.5 0h0m1.5 0h0m3.5 0h0h1m1.5 0h0m3 0h0m2 0h0m2.5 0h0m3.5 0h0m4 0h0m2.5 0h0h1h.5m2.5 0h0m2.5 0h0m10.5 0h0m2.5 0h0m4 0h0m8.5 0h0m3.5 0h0m9 0h0m2 0h0m5 0h0M79 317.7h0h.5m4.5 0h0h.5h1m9 0h0m2 0h0m2 0h0h1h1h1m1.5 0h0m1.5 0h0h.5h.5m1.5 0h0m1.5 0h0m3.5 0h0h.5m7.5 0h0h1m3 0h0h.5m8 0h0m10 0h0h.5h1h.5h.5m4 0h0m1.5 0h0h1m3.5 0h0m1.5 0h0m3.5 0h0m2 0h0m5.5 0h0m4.5 0h0h1m1.5 0h0m6 0h0m2.5 0h0m2.5 0h0m1.5 0h0m1.5 0h0m2 0h0m3 0h0m3.5 0h0m4 0h0h1h1m7 0h0m2 0h0m3.5 0h0m14.5 0h0m4 0h0h1m2.5 0h0m9.5 0h0h.5h.5m2.5 0h0h.5m2.5 0h0h.5h1m1.5 0h0h.5m7 0h0h1m2.5 0h0h1h1h1m4.5 0h0h.5h.5h.5m1.5 0h0m1.5 0h0h.5h1m3 0h0m2 0h0h.5h1m5 0h0h.5m1.5 0h0h.5h1m1.5 0h0h1h1h.5h.5m1.5 0h0m1.5 0h0h.5h.5h.5h1h.5m2 0h0h.5m2 0h0m1.5 0h0h1m1.5 0h0h.5h.5h1m2.5 0h0h.5h1m1.5 0h0m3 0h0h1h1m1.5 0h0h.5h.5m4.5 0h0m4 0h0h.5m1.5 0h0h.5h.5m2.5 0h0m2.5 0h0h.5m1.5 0h0h1h1m1.5 0h0m3 0h0m1.5 0h0h.5h.5m2 0h0m6 0h0m2 0h0m1.5 0h0h.5m2 0h0m2 0h0m3.5 0h0m2.5 0h0m2 0h0m2 0h0m2 0h0h1h.5m2.5 0h0h.5h.5m5 0h0h.5h.5m2.5 0h0m6 0h0h1h.5m5.5 0h0m2.5 0h0h1m1.5 0h0m4 0h0h1h.5m5 0h0m2.5 0h0m2.5 0h0h1m6 0h0h.5m2 0h0h.5h1m3 0h0m4 0h0h1m2.5 0h0m8.5 0h0h.5m4.5 0h0m2 0h0m8.5 0h0m1.5 0h0m7.5 0h0m3 0h0m3 0h0m4 0h0m2 0h0m1.5 0h0h1m1.5 0h0m2.5 0h0m4 0h0m2 0h0h1m2 0h0m1.5 0h0h.5m5 0h0h1h.5m2 0h0m6 0h0m4.5 0h0h.5m2 0h0m6 0h0m4.5 0h0m2 0h0m2 0h0m2.5 0h0m1.5 0h0m1.5 0h0h.5h.5m2 0h0h.5m2.5 0h0m5.5 0h0h1m1.5 0h0M79.5 315.2h0h.5m1.5 0h0m1.5 0h0m5 0h0m4.5 0h0h1h1m1.5 0h0m5.5 0h0h1h.5m3 0h0h1m6.5 0h0m1.5 0h0h1m4.5 0h0h1m1.5 0h0h1m2.5 0h0h.5m3 0h0h.5m1.5 0h0m1.5 0h0h.5h.5m2.5 0h0m7.5 0h0h.5m3 0h0h1h1h1m2 0h0m4 0h0m1.5 0h0h1h.5m5 0h0h.5m5 0h0h.5m4.5 0h0h.5m6.5 0h0m7.5 0h0m1.5 0h0h1m10 0h0m4 0h0m1.5 0h0m3 0h0m1.5 0h0m6 0h0m2 0h0m4.5 0h0h.5m3 0h0m4.5 0h0m2.5 0h0m3 0h0m2 0h0m4 0h0m1.5 0h0m2 0h0m3.5 0h0h.5h.5m2.5 0h0h.5m6 0h0m7.5 0h0m3.5 0h0m1.5 0h0h1m1.5 0h0m1.5 0h0m3.5 0h0m3 0h0h1h1m2.5 0h0m2 0h0h.5m2 0h0h.5m3 0h0m3 0h0m1.5 0h0m1.5 0h0m1.5 0h0m2 0h0h.5h.5h.5m3.5 0h0m3.5 0h0h1m2.5 0h0m2 0h0m2 0h0h1h.5m3 0h0m3 0h0m1.5 0h0h.5m2.5 0h0h.5h.5h.5h1h1h.5m1.5 0h0h1h.5h.5h.5h.5h1m1.5 0h0m2 0h0m1.5 0h0m4.5 0h0h1h1m4.5 0h0m2.5 0h0h.5m4.5 0h0m1.5 0h0h.5m1.5 0h0h.5h1m4 0h0m2 0h0h.5m2 0h0h.5m7.5 0h0h.5m4 0h0m3 0h0m2.5 0h0m1.5 0h0h.5h1h.5m6.5 0h0m6 0h0m2.5 0h0m3.5 0h0m3 0h0h.5m4.5 0h0m1.5 0h0h1h.5m1.5 0h0m6 0h0m3 0h0m2.5 0h0m2.5 0h0m3.5 0h0m2.5 0h0m5.5 0h0m2 0h0m1.5 0h0m6.5 0h0h1m4 0h0h1m1.5 0h0m1.5 0h0h.5m1.5 0h0m1.5 0h0m1.5 0h0h.5h1h1m4 0h0m3.5 0h0m5 0h0m2 0h0m2 0h0m1.5 0h0m3.5 0h0h.5m2 0h0m2.5 0h0m1.5 0h0h1m7.5 0h0m6 0h0m3 0h0m4.5 0h0h.5m2 0h0h.5h1m6 0h0h.5h.5h1m6 0h0m1.5 0h0m2 0h0m2.5 0h0m3.5 0h0m6 0h0M79.5 312.7h0h.5m5.5 0h0m2 0h0m10.5 0h0m3 0h0m7.5 0h0h1h.5h1m3.5 0h0m5 0h0m1.5 0h0m5.5 0h0m1.5 0h0h1m1.5 0h0h.5m3 0h0m1.5 0h0m5 0h0m6.5 0h0h.5m2 0h0m3.5 0h0m6.5 0h0m8.5 0h0m1.5 0h0m7 0h0h1h1m2 0h0m1.5 0h0m2 0h0m9.5 0h0m2 0h0m2.5 0h0m6 0h0m5 0h0m5.5 0h0h.5m4 0h0m5 0h0m4.5 0h0m1.5 0h0m9.5 0h0m3.5 0h0h1m2 0h0h.5m5.5 0h0m3.5 0h0m2.5 0h0h1m2.5 0h0h.5m2 0h0h.5m2.5 0h0h1h.5h.5m3.5 0h0m1.5 0h0m3 0h0h.5h.5h1m2 0h0m1.5 0h0m1.5 0h0h.5h1m2 0h0m1.5 0h0h1m2 0h0h1h1m1.5 0h0h.5h.5m1.5 0h0m3.5 0h0h.5m2.5 0h0h1h.5h.5h1h1m3 0h0h1h1h.5h1m3.5 0h0m2 0h0h.5h.5h1h.5h1m2 0h0m2.5 0h0h1h.5h.5m1.5 0h0h1m2.5 0h0h1h.5m1.5 0h0h.5m2.5 0h0m1.5 0h0m1.5 0h0h1h.5m2 0h0m3 0h0h.5h.5m1.5 0h0m3 0h0m2 0h0h.5m2 0h0h.5h1m1.5 0h0m1.5 0h0h1m3 0h0h.5h1m2 0h0h.5m6 0h0m2 0h0h1h.5h.5m3 0h0h.5h1h1m2 0h0m1.5 0h0m1.5 0h0h.5h1h.5m3.5 0h0m1.5 0h0m3.5 0h0m1.5 0h0m1.5 0h0m1.5 0h0h1m4 0h0m2.5 0h0m3 0h0m16 0h0m3.5 0h0m4.5 0h0m5 0h0h.5m2 0h0h1h1h.5m1.5 0h0h1m2 0h0h.5m4.5 0h0m1.5 0h0m3.5 0h0m2.5 0h0m4.5 0h0m4 0h0h1m1.5 0h0m1.5 0h0m13 0h0m2 0h0h.5h.5h.5m5 0h0m2.5 0h0m3.5 0h0h1h1h1m2.5 0h0m3 0h0h.5m4 0h0m1.5 0h0m4 0h0h.5m6.5 0h0h.5h1m3 0h0h1m1.5 0h0m3.5 0h0m2 0h0m5 0h0m3.5 0h0m1.5 0h0h.5m1.5 0h0h.5h1m2 0h0m3 0h0M81 310.1h0m6.5 0h0m3 0h0m5 0h0h.5m3.5 0h0m2.5 0h0m5.5 0h0m4 0h0m3.5 0h0m9 0h0h1m2 0h0h1m2.5 0h0m1.5 0h0m2.5 0h0m2.5 0h0m4 0h0h.5m1.5 0h0m10 0h0h.5m2 0h0m5.5 0h0m3.5 0h0m11 0h0m5 0h0h.5h.5m2.5 0h0h1h.5m3 0h0m1.5 0h0m2.5 0h0h.5h.5h1m1.5 0h0m3 0h0h.5m1.5 0h0m2.5 0h0m2 0h0m4.5 0h0m5 0h0h.5h.5m3.5 0h0m3 0h0m2.5 0h0m3 0h0m2.5 0h0m1.5 0h0m1.5 0h0h.5m3.5 0h0h.5m2 0h0m4 0h0m5 0h0m1.5 0h0m2 0h0m2 0h0h1m2.5 0h0m3 0h0m2.5 0h0h.5m1.5 0h0m2 0h0h1h1m2 0h0h.5h.5m3.5 0h0m2.5 0h0h.5h1m2 0h0m1.5 0h0h1m2 0h0h1h1h.5m1.5 0h0m2 0h0h.5h1h.5h1h.5h1h1h1m1.5 0h0m3 0h0h.5m1.5 0h0m1.5 0h0m3 0h0h1h.5m1.5 0h0m2 0h0h1h1m1.5 0h0h.5m1.5 0h0m1.5 0h0m2 0h0h.5h.5m2.5 0h0h.5h1h1h.5h.5h.5h.5m2.5 0h0h.5h.5m1.5 0h0h.5m1.5 0h0h.5h.5m3 0h0h.5h.5h1m1.5 0h0h.5h1h.5m2 0h0h.5h.5m1.5 0h0h1h.5h.5h1h.5m1.5 0h0h1h.5h.5h1m4.5 0h0h1m1.5 0h0m1.5 0h0m1.5 0h0m2 0h0m1.5 0h0m2.5 0h0h1m1.5 0h0h.5h1h.5m3.5 0h0h.5m7 0h0h1h1m3.5 0h0h.5h1m1.5 0h0m5 0h0m5 0h0m1.5 0h0h.5m9.5 0h0h.5m9 0h0m1.5 0h0m6.5 0h0h1m6 0h0m2.5 0h0m3 0h0m4 0h0h.5m2 0h0m4 0h0m3 0h0m2.5 0h0h.5m1.5 0h0m5 0h0m1.5 0h0h1h1m1.5 0h0h1m3 0h0m1.5 0h0m2 0h0m2.5 0h0h1m2.5 0h0h1m2.5 0h0h.5m6 0h0m3.5 0h0m3.5 0h0m8 0h0m4.5 0h0m3.5 0h0m3 0h0h1m1.5 0h0h.5m2.5 0h0m1.5 0h0m2.5 0h0m2.5 0h0h1m3.5 0h0h1h.5m2 0h0m3.5 0h0h1m2.5 0h0m2 0h0m3 0h0m6 0h0h1M79 307.6h0m2.5 0h0m6 0h0m5.5 0h0m2 0h0m3.5 0h0h.5h.5m2.5 0h0m20 0h0m10 0h0m7 0h0h1m7.5 0h0m7.5 0h0m7.5 0h0h1h.5m7 0h0m4.5 0h0m5 0h0h.5m2.5 0h0m1.5 0h0h1m5.5 0h0h.5m2.5 0h0m3 0h0m1.5 0h0m2 0h0m3.5 0h0m4.5 0h0m5.5 0h0h1h1m2 0h0m1.5 0h0h1m2 0h0m2 0h0m4 0h0h.5m2 0h0h.5h.5m2.5 0h0m3.5 0h0h1h.5m3.5 0h0h.5m3 0h0m5 0h0m2 0h0h1m1.5 0h0h1h1m2 0h0h1h1h1h.5m2.5 0h0m1.5 0h0m1.5 0h0m6.5 0h0m2 0h0m2 0h0h1m2 0h0h1m1.5 0h0m3 0h0m5.5 0h0h.5m2.5 0h0h.5m2.5 0h0h1h.5m1.5 0h0h.5m2 0h0m1.5 0h0m1.5 0h0h.5m2 0h0h.5h.5m1.5 0h0h1h.5m4 0h0h.5h.5h1h1m2 0h0h1h.5m2 0h0h1h.5h.5m5 0h0h.5h1h.5h.5m3.5 0h0h1h.5h.5h1m2.5 0h0h.5m1.5 0h0h.5m3.5 0h0m2.5 0h0h.5m1.5 0h0m4 0h0m4 0h0h.5m2.5 0h0m1.5 0h0h.5h1m4.5 0h0m4 0h0m3.5 0h0h1h1m2 0h0h1h.5m1.5 0h0h1h.5m1.5 0h0m1.5 0h0h.5h1h.5m14 0h0m3 0h0h1m3.5 0h0h.5h.5m6.5 0h0m2.5 0h0h1m1.5 0h0m3.5 0h0h.5h1m3 0h0m5 0h0h.5m3.5 0h0m2 0h0h.5m2.5 0h0m2 0h0m2 0h0h.5h.5m1.5 0h0m7 0h0m5 0h0m3 0h0h.5m5 0h0m5.5 0h0m2.5 0h0h.5m4 0h0m6.5 0h0m1.5 0h0m4.5 0h0m2.5 0h0m1.5 0h0m3 0h0m6.5 0h0m4.5 0h0h.5m1.5 0h0m13 0h0m6 0h0m2 0h0h.5m1.5 0h0m2 0h0m10.5 0h0m3.5 0h0h.5m1.5 0h0m2 0h0m3 0h0M85.5 305.1h0h1m6 0h0m3.5 0h0h1h1h1m2 0h0m2.5 0h0m11.5 0h0m4.5 0h0m4.5 0h0m1.5 0h0m4 0h0m2.5 0h0m2 0h0m5.5 0h0h.5m2 0h0m6.5 0h0m8 0h0m4 0h0h1h1h1m2 0h0m9 0h0h.5m4 0h0m6.5 0h0m1.5 0h0m3.5 0h0m1.5 0h0m4.5 0h0m1.5 0h0m4 0h0h1h.5m2.5 0h0h.5m7.5 0h0m6 0h0m3.5 0h0m8 0h0h.5h.5m6.5 0h0m4.5 0h0m2.5 0h0h1m5 0h0m1.5 0h0h1h1m3 0h0h1h.5m1.5 0h0m1.5 0h0m3 0h0h.5h.5h1h.5m1.5 0h0m2.5 0h0m1.5 0h0m1.5 0h0h.5m3 0h0h.5m4 0h0m1.5 0h0h.5h1h.5h1h.5h.5m2.5 0h0m4.5 0h0h.5h1h.5m3.5 0h0h.5m1.5 0h0m1.5 0h0h.5h.5m1.5 0h0m1.5 0h0h1h.5h1m1.5 0h0m2 0h0h.5h.5m3 0h0h.5m1.5 0h0h.5m2 0h0m1.5 0h0m2.5 0h0m2.5 0h0h1h.5h.5h.5h1h1h.5h.5h.5m9 0h0m1.5 0h0h1h.5h.5m1.5 0h0h.5m2 0h0m2 0h0h.5m2 0h0m1.5 0h0h.5h.5m2.5 0h0h1h.5h1m3.5 0h0h.5m3 0h0m3 0h0h1m3.5 0h0h.5h1h1m2 0h0m1.5 0h0h1h1m1.5 0h0m2.5 0h0m6.5 0h0m1.5 0h0m5 0h0h1h.5h1m2 0h0m4.5 0h0m4 0h0h1m8.5 0h0h1m2 0h0m2.5 0h0m3 0h0m2 0h0m1.5 0h0h.5m3 0h0m2.5 0h0m5 0h0m3.5 0h0m3.5 0h0m9.5 0h0m7 0h0m4 0h0m3 0h0h.5m5 0h0m2 0h0m2.5 0h0m4 0h0m5.5 0h0m2 0h0h.5m3 0h0h.5h1m3 0h0h1m10 0h0h.5h.5m2 0h0m1.5 0h0m1.5 0h0m5.5 0h0m4 0h0m10 0h0m6 0h0m2 0h0m7.5 0h0m3.5 0h0m2 0h0m2.5 0h0M79.5 302.5h0m3.5 0h0m3 0h0h1m10.5 0h0m2 0h0m4.5 0h0m3.5 0h0m2.5 0h0h1m2.5 0h0m4.5 0h0m1.5 0h0m4 0h0m3 0h0h1h.5m7.5 0h0m3 0h0m1.5 0h0h.5m5 0h0h.5m1.5 0h0h.5m1.5 0h0m5.5 0h0h.5m5 0h0m2.5 0h0m1.5 0h0h1m2.5 0h0h1m3.5 0h0m2.5 0h0m3 0h0m7 0h0m3 0h0m4.5 0h0h1h.5m2 0h0m6.5 0h0m6.5 0h0m2.5 0h0h.5m2 0h0m2.5 0h0m6 0h0m1.5 0h0m4 0h0h.5h.5m2 0h0h1h.5m3 0h0h.5h1m2.5 0h0m3 0h0m2.5 0h0h.5m2.5 0h0m2 0h0h1m6 0h0h.5h.5m1.5 0h0h.5h1h.5m3 0h0m5 0h0m1.5 0h0h.5h.5h.5h.5h.5m2 0h0m1.5 0h0h.5h1h.5m1.5 0h0m1.5 0h0h.5h1m2.5 0h0m2.5 0h0h.5h.5h1h.5h.5m1.5 0h0h.5h.5h.5m2.5 0h0h1m1.5 0h0m2 0h0h.5h.5m1.5 0h0m1.5 0h0h.5m2 0h0m2 0h0h.5m2.5 0h0m3.5 0h0m1.5 0h0m2.5 0h0h.5h.5h.5m1.5 0h0h1h.5h1m1.5 0h0h1h1h1m1.5 0h0h.5h1h.5h1h1h1h.5m1.5 0h0m3.5 0h0h1h.5h1h1h.5m3.5 0h0m4 0h0h1h1m2 0h0h.5m5 0h0m2 0h0h1h.5h.5h1h1h.5h1m2 0h0m2 0h0h.5m3.5 0h0h.5m1.5 0h0m1.5 0h0m3 0h0m3 0h0m3 0h0h.5h1m2.5 0h0m6 0h0h1m2.5 0h0m1.5 0h0m1.5 0h0h.5m2.5 0h0h1m3 0h0m1.5 0h0m1.5 0h0m4.5 0h0h.5h1m2 0h0m1.5 0h0m2.5 0h0m4 0h0h1m6.5 0h0m4 0h0m6.5 0h0m6.5 0h0m2 0h0h1h1m9 0h0h1m2 0h0h.5h.5m2 0h0m7 0h0m1.5 0h0m2 0h0m5.5 0h0m8 0h0h.5m8 0h0h.5m19 0h0m5 0h0m1.5 0h0h1h.5m4.5 0h0m3 0h0m8.5 0h0m4.5 0h0m7.5 0h0h1m2 0h0h.5m2.5 0h0M78.5 300h0h1m4.5 0h0m8 0h0h.5m4 0h0m4.5 0h0m1.5 0h0m4.5 0h0m2 0h0h.5h.5m1.5 0h0m4 0h0h1h1m1.5 0h0h.5m4 0h0m2 0h0m4.5 0h0m1.5 0h0m4 0h0h.5m1.5 0h0m6 0h0m3 0h0h1h.5h.5m8.5 0h0m4.5 0h0m2 0h0m3 0h0m4 0h0m3.5 0h0m3.5 0h0m3 0h0m2.5 0h0h.5m4 0h0m2.5 0h0m5.5 0h0m7.5 0h0m2 0h0h1m3.5 0h0m2.5 0h0m4.5 0h0m1.5 0h0h1h.5m1.5 0h0h1m2.5 0h0h.5h1h.5m3.5 0h0h.5h1h1h1m4.5 0h0m4 0h0m2.5 0h0m2.5 0h0m6 0h0h1h.5h.5m1.5 0h0m3.5 0h0m1.5 0h0h.5h1m3.5 0h0h.5h.5m3 0h0h.5m3.5 0h0m3 0h0m2 0h0m4.5 0h0h.5h.5m3 0h0m10 0h0h.5m2 0h0h.5h.5h1h1m1.5 0h0m3 0h0h.5m2 0h0h.5m2 0h0h.5m2.5 0h0h1m4 0h0h.5h1h1h.5m2.5 0h0m1.5 0h0h1m2 0h0h1m3 0h0h.5m2.5 0h0h1h1m4.5 0h0m1.5 0h0h1h1h.5m1.5 0h0h.5h1h.5m1.5 0h0h.5h.5m4 0h0h.5h.5h.5h.5h.5m2.5 0h0h.5h.5h.5h1h.5m1.5 0h0m1.5 0h0m2 0h0h1h1h1m2 0h0h.5m3.5 0h0m1.5 0h0h.5m6 0h0h.5m1.5 0h0m2 0h0m1.5 0h0h.5m2 0h0h.5m1.5 0h0h.5m9.5 0h0m1.5 0h0m3 0h0m8.5 0h0m4 0h0h1m2 0h0m4.5 0h0m1.5 0h0h1m5 0h0h.5m4.5 0h0m1.5 0h0m6 0h0m5.5 0h0m4.5 0h0m3 0h0h.5m3 0h0m2.5 0h0m2 0h0m2 0h0m2.5 0h0m3 0h0m1.5 0h0h.5h1m2 0h0m7.5 0h0h.5m6.5 0h0m6.5 0h0h.5h.5m6 0h0h1m12 0h0m3.5 0h0h1m1.5 0h0m5 0h0m3.5 0h0m2.5 0h0m3 0h0m10.5 0h0m3 0h0m3.5 0h0m1.5 0h0h1M83.5 297.5h0h.5h.5h1h1h.5m1.5 0h0m10 0h0m5.5 0h0h1m2 0h0m3.5 0h0m5 0h0m3 0h0m1.5 0h0h1m3.5 0h0m2 0h0m8.5 0h0h.5h1h.5m2 0h0m4 0h0m6.5 0h0m5.5 0h0h.5h1h.5m1.5 0h0h1m1.5 0h0h.5m1.5 0h0m1.5 0h0h1m1.5 0h0m4 0h0m1.5 0h0m3.5 0h0m2.5 0h0m6 0h0m6 0h0m2 0h0h1m4 0h0m7.5 0h0h.5m4.5 0h0m2.5 0h0h1m2.5 0h0h.5m2 0h0h.5m2 0h0m7.5 0h0h1h.5m1.5 0h0m4 0h0m5.5 0h0h.5h1m1.5 0h0m2 0h0h1m2 0h0m4 0h0m2 0h0h.5h1h1m1.5 0h0h.5m3 0h0m1.5 0h0m6 0h0h.5m1.5 0h0h.5m3.5 0h0m1.5 0h0m1.5 0h0h.5h1h1m2.5 0h0h.5m3 0h0h.5h.5h1m1.5 0h0h.5h.5h.5h.5m2.5 0h0h.5m5 0h0h.5h.5h1h1h.5m1.5 0h0m1.5 0h0m1.5 0h0m3.5 0h0h.5h.5h.5h.5m1.5 0h0h.5h1h1m3 0h0h.5m1.5 0h0h1h.5h1h.5h.5m2 0h0h1m2 0h0m1.5 0h0m3 0h0h.5h1h.5h1h1h.5m2.5 0h0h1h.5m1.5 0h0m3.5 0h0h.5h1m1.5 0h0h.5m3.5 0h0h.5m2.5 0h0h.5h1m3.5 0h0h.5m1.5 0h0h.5m1.5 0h0m3.5 0h0m3 0h0m2.5 0h0m4 0h0m3 0h0m2.5 0h0h.5h.5m2 0h0m10 0h0m2 0h0m1.5 0h0m5 0h0m3 0h0h1m4 0h0m1.5 0h0m2.5 0h0m4 0h0m2.5 0h0m8 0h0m1.5 0h0m4 0h0m3.5 0h0m4 0h0m2 0h0m4 0h0h.5m6 0h0h1m14 0h0m2.5 0h0h1m1.5 0h0h.5m4.5 0h0m4 0h0m2 0h0m4.5 0h0m4 0h0m3 0h0h.5h.5m7.5 0h0m3 0h0m4 0h0m2 0h0m1.5 0h0m1.5 0h0m1.5 0h0m5.5 0h0m13 0h0h1m6.5 0h0m1.5 0h0h1m2.5 0h0m2 0h0h.5m2.5 0h0m2 0h0h.5h.5h1h1m2 0h0h.5m2.5 0h0M82.5 295h0m1.5 0h0m14.5 0h0m7.5 0h0m4 0h0m4 0h0m2 0h0m3.5 0h0m2 0h0h.5h1h.5m5 0h0m7.5 0h0h.5m1.5 0h0h.5h.5m10.5 0h0m11.5 0h0m12.5 0h0h.5h.5m6 0h0h1h1m1.5 0h0h1m2 0h0m1.5 0h0m11.5 0h0m3.5 0h0m2.5 0h0m8 0h0m2.5 0h0m4 0h0h.5h.5h.5h1m1.5 0h0h1h.5m4 0h0h.5h.5h.5m4 0h0m5 0h0m2 0h0m3.5 0h0m6.5 0h0h1h1h1m1.5 0h0h.5m2 0h0m4 0h0m2.5 0h0h.5h1m2.5 0h0m1.5 0h0m3.5 0h0h.5m2 0h0h1m3.5 0h0h1h.5h.5h.5m1.5 0h0h.5h1h.5h.5h1h.5h1h.5h.5m2 0h0h.5h.5m2 0h0h1m2 0h0h.5h.5h.5m3.5 0h0m1.5 0h0h1h.5m2 0h0h1m5 0h0h.5h.5m6 0h0m2.5 0h0h.5h.5h1m2.5 0h0h.5h.5h.5h.5m1.5 0h0m1.5 0h0h.5h.5h.5m2 0h0h.5m2.5 0h0m1.5 0h0m1.5 0h0m1.5 0h0h1h.5h1h1h.5m1.5 0h0h1h.5m2 0h0h1m1.5 0h0h.5h.5m2 0h0m5.5 0h0m2 0h0h1h1h1h.5h1h1h.5m3 0h0m2.5 0h0h1h.5h.5m3 0h0m3 0h0m1.5 0h0h.5m2.5 0h0m3.5 0h0h.5m2 0h0m1.5 0h0m2 0h0h1h1h1m2 0h0m1.5 0h0h1m2 0h0h.5m3.5 0h0m2 0h0h.5m3 0h0m4.5 0h0m1.5 0h0m5 0h0m2.5 0h0h.5m2 0h0h1m5 0h0m8.5 0h0m4.5 0h0m1.5 0h0m2 0h0m2.5 0h0h.5m2.5 0h0m3.5 0h0m6 0h0h.5h1m3 0h0h.5m2 0h0m10 0h0m1.5 0h0m3 0h0m2 0h0h1h.5h.5m4.5 0h0h.5m1.5 0h0h.5m6 0h0m6 0h0m3.5 0h0m4 0h0h.5m2 0h0h.5h1m2 0h0m3.5 0h0m2 0h0m1.5 0h0m1.5 0h0m2 0h0m5 0h0m6 0h0m1.5 0h0m2 0h0m6 0h0h.5m2 0h0m3.5 0h0M82 292.4h0m3 0h0h.5m6.5 0h0m5.5 0h0h1m5.5 0h0h1m1.5 0h0m3.5 0h0m3.5 0h0h.5h.5h1m5.5 0h0m6.5 0h0h.5m3.5 0h0h1m3.5 0h0m8.5 0h0h1m8 0h0m2.5 0h0m4.5 0h0m1.5 0h0m3 0h0m7.5 0h0h.5m2 0h0m10 0h0m3.5 0h0m4.5 0h0h1m4 0h0m3 0h0m7.5 0h0m1.5 0h0m3 0h0m3.5 0h0m2 0h0m1.5 0h0m4 0h0m3.5 0h0h.5m1.5 0h0h.5m4 0h0m2 0h0m7 0h0m3.5 0h0h.5m1.5 0h0m2.5 0h0m2.5 0h0m5 0h0h.5m2 0h0h.5m1.5 0h0h.5h1h1h.5m3.5 0h0h1m3 0h0h1h.5m2.5 0h0m6 0h0h1h1m4 0h0m3.5 0h0h.5h.5h.5m5 0h0h.5h1h1h1h.5h1m2.5 0h0h1m1.5 0h0h.5m1.5 0h0m1.5 0h0h.5h1m2.5 0h0h1h.5m1.5 0h0h.5h.5m1.5 0h0m2 0h0h.5h1m4 0h0h1h1h1h.5h.5m2.5 0h0h1h.5m4 0h0h.5h1h1h.5h1h.5h.5h1m2.5 0h0h.5h1m2 0h0m4 0h0h.5h.5m5 0h0h1h1h.5m3 0h0h1m1.5 0h0h1m2 0h0h.5h1m2.5 0h0h1h1m1.5 0h0h1m3.5 0h0m2 0h0h.5m3 0h0h1m4 0h0m2 0h0h.5m1.5 0h0h.5m1.5 0h0m4.5 0h0m1.5 0h0m2 0h0m4 0h0m2 0h0m3 0h0m2.5 0h0m7.5 0h0m4.5 0h0m2 0h0m2 0h0h1h.5m1.5 0h0m3 0h0h1m13.5 0h0h.5m3.5 0h0h1h1m9 0h0m5 0h0m6.5 0h0h1h.5m1.5 0h0m4.5 0h0m3 0h0m1.5 0h0m9.5 0h0h1m4 0h0h.5m1.5 0h0h.5m2 0h0m2.5 0h0m4.5 0h0m5.5 0h0h.5h.5m7.5 0h0m10.5 0h0m3 0h0h.5m3 0h0m2 0h0h1m2.5 0h0m2.5 0h0m2.5 0h0m4.5 0h0M78.5 289.9h0m2 0h0m2.5 0h0h.5m4.5 0h0m1.5 0h0h.5h.5m3 0h0m2 0h0m3 0h0m3 0h0m10 0h0m3.5 0h0h1h1h.5m2 0h0m2 0h0h.5m3.5 0h0m3.5 0h0m2 0h0m2 0h0m2 0h0m1.5 0h0h1h1h1m2 0h0m3 0h0m1.5 0h0m6.5 0h0m2 0h0h1m2 0h0m2 0h0h.5h.5m3.5 0h0h1m1.5 0h0m11 0h0m4 0h0m3 0h0m11.5 0h0m4 0h0h.5m16 0h0m5.5 0h0h1h1m3.5 0h0h.5h1h.5m8 0h0h1m5 0h0m6.5 0h0m13.5 0h0m2.5 0h0h1m1.5 0h0m2 0h0m2.5 0h0m1.5 0h0m3.5 0h0m3.5 0h0h1h1m3 0h0h1h1m3.5 0h0h.5h1h1h.5h.5h1m2 0h0m3.5 0h0h.5m2.5 0h0h1h.5m3 0h0h.5m3.5 0h0m1.5 0h0h.5m1.5 0h0h.5m2.5 0h0h1h.5m3.5 0h0h.5h1h.5h1h.5h.5h1h.5h.5m2.5 0h0h1m1.5 0h0m3 0h0h1m2.5 0h0h.5h1m1.5 0h0m1.5 0h0h1h1h.5h1h.5m1.5 0h0h1m2 0h0h1h1h1h.5m2.5 0h0h1h1h.5h1h.5h1m2.5 0h0m1.5 0h0m2.5 0h0h1h.5h.5h1m1.5 0h0h1h1h.5m6.5 0h0m3.5 0h0h1m1.5 0h0m3.5 0h0h.5h1m5 0h0m5 0h0m2.5 0h0m1.5 0h0h.5m4.5 0h0m3 0h0h.5h1m3.5 0h0m1.5 0h0m3.5 0h0h1h1m5 0h0h1m6 0h0h1h.5m4.5 0h0m3 0h0m12 0h0h1m1.5 0h0m2 0h0h.5m4.5 0h0h.5h.5m1.5 0h0m2 0h0m12 0h0h.5h1m3 0h0m11 0h0m2 0h0h.5m2 0h0m13.5 0h0h.5m12.5 0h0m1.5 0h0m8 0h0m2 0h0m2 0h0m5.5 0h0m2 0h0h.5h.5m2 0h0m4.5 0h0h1m3 0h0h.5m1.5 0h0M85 287.4h0m4.5 0h0m5.5 0h0m5 0h0h.5m2.5 0h0h.5h1m1.5 0h0m2.5 0h0h.5m1.5 0h0m3.5 0h0m7 0h0m2 0h0h.5m5.5 0h0m3.5 0h0m1.5 0h0m1.5 0h0m1.5 0h0m3.5 0h0h.5m2 0h0h.5m4.5 0h0m4.5 0h0h.5m4.5 0h0m1.5 0h0h.5m1.5 0h0h.5h.5m2.5 0h0m5.5 0h0m1.5 0h0m7 0h0m2 0h0m3.5 0h0m2 0h0h1m1.5 0h0m2 0h0m1.5 0h0h.5m1.5 0h0m4 0h0m7 0h0m2 0h0m7 0h0m2.5 0h0h1m2.5 0h0m1.5 0h0m2 0h0m3.5 0h0m1.5 0h0m6 0h0m2.5 0h0m2 0h0m2 0h0h.5h.5m2.5 0h0h1m3.5 0h0h.5m3 0h0h.5m2.5 0h0h.5m2 0h0h.5h1m4.5 0h0m3.5 0h0h1m2 0h0m3 0h0m2.5 0h0m2 0h0m4 0h0m5 0h0m2 0h0h1h.5m3 0h0h.5m3 0h0h.5h1h.5h.5h.5h.5m1.5 0h0h1m1.5 0h0h1h.5h.5h1m1.5 0h0h.5m1.5 0h0m1.5 0h0m2 0h0m1.5 0h0m1.5 0h0h1h.5m1.5 0h0m2 0h0h1h.5h1h.5m1.5 0h0m1.5 0h0h.5m2 0h0h1h.5h.5h1h.5h1h.5m2 0h0h1m1.5 0h0m1.5 0h0h1m2 0h0m1.5 0h0h.5h.5h.5h1h1m1.5 0h0h1h.5h1h1m1.5 0h0h1m3 0h0h.5h.5m3.5 0h0m1.5 0h0h.5h.5m1.5 0h0m6 0h0m1.5 0h0m2 0h0h.5m3 0h0m2.5 0h0m1.5 0h0h.5h.5m5 0h0m1.5 0h0m1.5 0h0m2.5 0h0h.5h1m2.5 0h0m1.5 0h0m3.5 0h0m1.5 0h0m2.5 0h0m2 0h0m2.5 0h0h.5h1m9.5 0h0h.5h.5h.5m6 0h0m2.5 0h0h.5h.5h.5m2.5 0h0m1.5 0h0m1.5 0h0h1h.5h1m5.5 0h0m2.5 0h0m4 0h0m2.5 0h0m2 0h0h1m1.5 0h0m3.5 0h0h.5h.5m7 0h0h.5m6 0h0h.5h1m1.5 0h0h.5m2 0h0m3.5 0h0m2 0h0m6.5 0h0h.5m7.5 0h0m4 0h0h1h1m4.5 0h0m2 0h0m4 0h0m1.5 0h0m3 0h0m2 0h0h1m2.5 0h0h.5m1.5 0h0m7.5 0h0h1m2 0h0m2.5 0h0m2.5 0h0m1.5 0h0m2.5 0h0m3.5 0h0m4 0h0m1.5 0h0m5 0h0m1.5 0h0M78.5 284.8h0m14 0h0h.5m4.5 0h0m7.5 0h0m4.5 0h0m12.5 0h0m1.5 0h0h1h1h.5m7 0h0m2.5 0h0m2.5 0h0m6.5 0h0m11.5 0h0h.5m2.5 0h0m3.5 0h0m8 0h0m2.5 0h0m17.5 0h0m5 0h0m8 0h0m2.5 0h0h.5m8.5 0h0h1h.5h.5m5.5 0h0m17.5 0h0m4 0h0m6.5 0h0m3.5 0h0m1.5 0h0m1.5 0h0m4 0h0m1.5 0h0h1m4 0h0h.5h.5m2.5 0h0m3.5 0h0m2.5 0h0h1m2 0h0m1.5 0h0m1.5 0h0m2 0h0h1h1h1m2 0h0h.5h.5m3 0h0h.5m2.5 0h0m2.5 0h0h.5h.5h.5h.5h1h.5h.5h.5h.5m2 0h0m1.5 0h0h.5h.5h.5h.5h.5m2.5 0h0h1h1h1m2.5 0h0h.5m2 0h0h1h.5m3.5 0h0h1m4.5 0h0h1m3 0h0m3 0h0h.5m1.5 0h0m3.5 0h0h1h.5h.5m1.5 0h0m4 0h0m4 0h0m2 0h0m2.5 0h0h.5m1.5 0h0m3.5 0h0h.5m2 0h0h.5m3 0h0m2 0h0h1m2.5 0h0h.5m1.5 0h0m1.5 0h0m2 0h0h.5h1h.5m1.5 0h0h1h1h1m2.5 0h0m1.5 0h0h.5h.5h1m6 0h0m1.5 0h0m1.5 0h0m1.5 0h0m3 0h0h1m7.5 0h0m1.5 0h0h.5h.5m2 0h0m5.5 0h0h.5m2 0h0h.5m3.5 0h0m3 0h0m6 0h0h1m3.5 0h0m4.5 0h0m10.5 0h0m4 0h0m6 0h0m3.5 0h0m11.5 0h0m1.5 0h0h.5h.5h.5h1h.5m1.5 0h0m5.5 0h0m5.5 0h0m3.5 0h0m1.5 0h0m1.5 0h0m2 0h0m3 0h0m7.5 0h0m2 0h0m6 0h0m2 0h0m7 0h0m2 0h0m2 0h0m1.5 0h0h.5m5.5 0h0m3 0h0m3 0h0m2 0h0h.5h.5h.5m1.5 0h0m1.5 0h0h1h.5m3 0h0h1h1M83 282.3h0m3.5 0h0m4 0h0m3.5 0h0m3 0h0m4.5 0h0m8 0h0h.5m1.5 0h0m6 0h0m3 0h0h.5m9 0h0m4.5 0h0m2.5 0h0h1m6 0h0m7.5 0h0m3.5 0h0m4.5 0h0h1h1m5 0h0m1.5 0h0h.5m1.5 0h0m3.5 0h0m1.5 0h0m2.5 0h0m2.5 0h0h1m8 0h0m2 0h0m4.5 0h0m3.5 0h0m8 0h0h1m7.5 0h0m2.5 0h0h.5h.5m2 0h0h.5m2 0h0h1m3.5 0h0h1m3.5 0h0m2.5 0h0m4 0h0h1h.5m2.5 0h0h.5m2.5 0h0m8.5 0h0h.5h.5m9.5 0h0m1.5 0h0m4.5 0h0m2.5 0h0m1.5 0h0m1.5 0h0h1h.5m2.5 0h0m4.5 0h0m2.5 0h0h1h.5h.5h.5h.5h.5h.5h1h1m1.5 0h0h1m2.5 0h0h.5m2 0h0m1.5 0h0h.5m2.5 0h0m1.5 0h0m1.5 0h0m3.5 0h0h.5m3.5 0h0m2 0h0h.5h1h.5h1h.5h.5h.5h.5h1h1h.5m4.5 0h0m1.5 0h0m1.5 0h0m1.5 0h0m1.5 0h0h.5h1h.5h1h.5h.5h.5h.5m2.5 0h0h1m2 0h0h.5h1h1m1.5 0h0m2 0h0h1h1m4 0h0h.5h.5m2 0h0h1h1h1h.5m1.5 0h0h.5h1h1h1m2 0h0m2 0h0h.5h.5m2.5 0h0h.5h1h.5h1m2 0h0h1m2 0h0m2 0h0m3.5 0h0m2.5 0h0m2 0h0h1m2 0h0m6 0h0m3 0h0m8 0h0h.5h.5m3.5 0h0m5.5 0h0h.5m5 0h0m1.5 0h0m1.5 0h0m3 0h0m3 0h0m4.5 0h0m2.5 0h0m4.5 0h0m3 0h0m1.5 0h0h.5m6 0h0m4 0h0m3.5 0h0h.5m5.5 0h0m4.5 0h0h.5h1h1m6.5 0h0h1m16 0h0h1m1.5 0h0m1.5 0h0m9 0h0m2.5 0h0m5 0h0m1.5 0h0m6.5 0h0h.5m2 0h0h.5h.5m4.5 0h0m7.5 0h0m5.5 0h0M82 279.8h0h.5m8.5 0h0h1m2 0h0m1.5 0h0h1m12 0h0m2.5 0h0m5.5 0h0m4 0h0h1m3.5 0h0m13 0h0m3 0h0h1h.5h1m6 0h0h1m2 0h0h.5m7.5 0h0h.5h.5m4.5 0h0m1.5 0h0m5 0h0h.5m2.5 0h0h.5m7.5 0h0m1.5 0h0m4.5 0h0m3.5 0h0m5.5 0h0h.5h1m2.5 0h0h.5h1h.5m2.5 0h0h1m6 0h0m1.5 0h0m4 0h0m4 0h0m2 0h0m1.5 0h0m5.5 0h0m5.5 0h0h.5m3 0h0m5.5 0h0m2 0h0m4 0h0m1.5 0h0h.5h1h1m2.5 0h0h1m8 0h0m3.5 0h0m2.5 0h0m3 0h0h1h.5m1.5 0h0h.5m3.5 0h0m4.5 0h0h1m2 0h0h.5h1m3.5 0h0h.5m4 0h0m1.5 0h0h.5h.5h.5h.5m1.5 0h0h.5m2 0h0h.5m1.5 0h0h.5h1h1h.5h.5m2 0h0h.5h.5m5 0h0h.5h1h1h.5h.5m1.5 0h0m2.5 0h0h.5h1h.5h1h1h.5h1h.5h.5m3.5 0h0m2 0h0h.5h.5h1h1h.5h.5m3 0h0m1.5 0h0h1h1m2 0h0h.5m1.5 0h0m1.5 0h0h1h.5m2 0h0h.5m1.5 0h0h.5h1m1.5 0h0m3 0h0m2 0h0h1h.5h1m3 0h0h.5h1m2 0h0m7 0h0h.5m2 0h0h1m2.5 0h0m2.5 0h0h1m5 0h0h.5h.5h.5m2 0h0m2 0h0h.5m2 0h0h.5h.5h1h.5m10.5 0h0m5 0h0m3 0h0m1.5 0h0m3 0h0h.5m1.5 0h0m1.5 0h0m1.5 0h0m3 0h0m4.5 0h0m4.5 0h0m2 0h0h.5m1.5 0h0m10 0h0m3 0h0h1m2 0h0m5 0h0h.5m5.5 0h0m2.5 0h0m4.5 0h0h.5m5.5 0h0m4.5 0h0h.5m1.5 0h0m3.5 0h0m2.5 0h0m8 0h0m3 0h0h.5m3.5 0h0m4.5 0h0m2.5 0h0m3.5 0h0m1.5 0h0m7.5 0h0m14 0h0h.5h.5h.5m2.5 0h0m3.5 0h0h.5m1.5 0h0m3.5 0h0M86.5 277.3h0m3.5 0h0m9.5 0h0m1.5 0h0m6 0h0m2 0h0h.5m4 0h0h.5m1.5 0h0m3.5 0h0h.5m5.5 0h0m3.5 0h0m9 0h0m2.5 0h0m3 0h0h1m4 0h0m2 0h0m3.5 0h0m3 0h0m2.5 0h0m2.5 0h0m10.5 0h0m4 0h0m5.5 0h0h.5m4 0h0h.5m2 0h0m7.5 0h0m2.5 0h0h.5h.5m7 0h0m4 0h0h.5h.5h.5m2 0h0m1.5 0h0m2.5 0h0m9 0h0h1h.5m6.5 0h0h1m2.5 0h0m2.5 0h0h.5m3 0h0m8.5 0h0m1.5 0h0h1h1m3 0h0h.5h.5m3.5 0h0h.5m2.5 0h0m1.5 0h0h.5h1h.5m3.5 0h0m2.5 0h0m5 0h0h1h.5m1.5 0h0m1.5 0h0h.5m1.5 0h0h.5h.5h1h1m2.5 0h0m3 0h0m7 0h0h1m2 0h0h.5h.5h.5h.5h.5h.5h.5m1.5 0h0h1h.5h1h.5m1.5 0h0m1.5 0h0h1h1m2.5 0h0h1m1.5 0h0m4.5 0h0h.5m1.5 0h0h1h.5m1.5 0h0m2.5 0h0h.5h.5h.5m3 0h0m1.5 0h0m1.5 0h0h1h.5m1.5 0h0m2.5 0h0m2 0h0m3 0h0m4 0h0m3 0h0h1m7 0h0m2.5 0h0m4 0h0m1.5 0h0h1h1h1m3.5 0h0h1h.5m6.5 0h0m5 0h0m6.5 0h0m5 0h0m6.5 0h0m2.5 0h0h1m2.5 0h0m5 0h0m1.5 0h0m4 0h0h1m8 0h0m4 0h0m5 0h0m10.5 0h0m3.5 0h0m1.5 0h0m8 0h0m3 0h0m2 0h0m7 0h0h.5m1.5 0h0m5 0h0m8.5 0h0m2.5 0h0m4.5 0h0m14.5 0h0h.5m3 0h0m3.5 0h0m2.5 0h0m4 0h0m8.5 0h0h1m3.5 0h0m3 0h0m1.5 0h0m7 0h0m3 0h0m5 0h0m1.5 0h0M84 274.7h0h1m2.5 0h0m1.5 0h0h.5m6 0h0m4 0h0h.5m2 0h0m6 0h0m3 0h0m8 0h0m8.5 0h0m3.5 0h0h1m4 0h0m1.5 0h0m4.5 0h0m3.5 0h0h1m16 0h0m2.5 0h0m2.5 0h0m10 0h0m1.5 0h0m5.5 0h0m4 0h0m4 0h0m5 0h0m4.5 0h0h.5m3 0h0m10 0h0h.5m7 0h0h1m2 0h0h1m3 0h0m3 0h0m2 0h0h.5m1.5 0h0m3.5 0h0m5 0h0m1.5 0h0h.5m1.5 0h0h.5h.5h1h.5m2.5 0h0h1m2.5 0h0m3.5 0h0h.5h.5m2 0h0h.5m1.5 0h0m1.5 0h0m3.5 0h0h.5m1.5 0h0m1.5 0h0m1.5 0h0m2.5 0h0h.5h1h.5m3.5 0h0h.5m1.5 0h0m1.5 0h0m3 0h0h.5h1h.5m4.5 0h0m5.5 0h0h1h1h.5h.5m2.5 0h0m1.5 0h0m2.5 0h0h1m2 0h0h.5m2 0h0m2 0h0m3 0h0m1.5 0h0m1.5 0h0h1h.5m1.5 0h0m2.5 0h0m1.5 0h0m2 0h0h1h.5m2 0h0h1h.5h1m1.5 0h0h.5h1m2.5 0h0m4.5 0h0h.5m1.5 0h0m1.5 0h0h.5h1h1h1h1m1.5 0h0h1m1.5 0h0m1.5 0h0m2.5 0h0m1.5 0h0m3.5 0h0h.5h.5m1.5 0h0h.5m3 0h0h.5m2 0h0h.5h1m4 0h0m2.5 0h0m2 0h0h.5h.5m5 0h0h.5h1m5.5 0h0h1m2 0h0m5.5 0h0h.5m2 0h0m8.5 0h0m2 0h0m4 0h0m1.5 0h0m1.5 0h0m11.5 0h0m3 0h0m1.5 0h0m1.5 0h0m3.5 0h0h.5m1.5 0h0h.5m4 0h0m8.5 0h0h1m7 0h0h.5m2 0h0h.5m5 0h0m3.5 0h0m1.5 0h0m5 0h0m16 0h0m1.5 0h0h1m2.5 0h0m2.5 0h0m3 0h0m7 0h0m2 0h0m6.5 0h0m1.5 0h0m3 0h0h.5m3.5 0h0h.5h.5m7.5 0h0h1h.5m2.5 0h0m9.5 0h0m3.5 0h0h.5M82.5 272.2h0h.5h1m6 0h0m6 0h0m3 0h0m10.5 0h0m14 0h0m3 0h0m1.5 0h0h1h1m2.5 0h0m1.5 0h0m5.5 0h0m1.5 0h0m12.5 0h0m3 0h0m1.5 0h0h1m5.5 0h0h1m1.5 0h0h.5m3 0h0m9.5 0h0m2.5 0h0m2.5 0h0m8.5 0h0h.5m2 0h0m3.5 0h0h1m4.5 0h0m14 0h0h.5m4 0h0m2 0h0h.5h.5m1.5 0h0m2.5 0h0m6 0h0m10.5 0h0m3.5 0h0m6.5 0h0h.5m2 0h0m1.5 0h0m2.5 0h0m3 0h0m4 0h0m5 0h0m4 0h0h.5m2 0h0m2 0h0m1.5 0h0m2.5 0h0m3.5 0h0m2.5 0h0h1h1h1h1h.5m2 0h0h.5m1.5 0h0h1h1h.5h1m4.5 0h0m4 0h0m1.5 0h0m1.5 0h0m2.5 0h0h.5h.5h.5h.5h.5h1h.5m2 0h0m1.5 0h0h1m1.5 0h0m1.5 0h0m3 0h0h.5m2 0h0h.5h1m1.5 0h0m1.5 0h0m2.5 0h0m3 0h0h.5m3 0h0h1m2 0h0m1.5 0h0m1.5 0h0h1h.5h.5m1.5 0h0h.5m2 0h0m1.5 0h0m1.5 0h0m2 0h0m1.5 0h0m1.5 0h0m2 0h0h1m3.5 0h0h1m2 0h0h.5h1m1.5 0h0h.5m2 0h0m2 0h0h1h.5m3 0h0m5 0h0m2 0h0m3.5 0h0m4.5 0h0h.5h1m8.5 0h0m1.5 0h0h1m1.5 0h0m2.5 0h0m5 0h0m2 0h0m3 0h0h.5h.5m6.5 0h0m4.5 0h0h.5h1m2 0h0m4.5 0h0m3.5 0h0m4 0h0m2 0h0m4.5 0h0m8 0h0h1m2 0h0m1.5 0h0m4 0h0m7 0h0m4 0h0h.5h.5h1m5.5 0h0m3.5 0h0m1.5 0h0m4.5 0h0m3 0h0m4.5 0h0m2 0h0h1m2.5 0h0h.5h1m5.5 0h0h.5m4 0h0m3 0h0h1h1m4.5 0h0m10.5 0h0m2 0h0m5 0h0h1h1m3 0h0m4 0h0M79 269.7h0h1h.5h.5m5.5 0h0h1m1.5 0h0m1.5 0h0m2 0h0h.5h1m2 0h0m2.5 0h0m2.5 0h0h.5m1.5 0h0m8 0h0m1.5 0h0h.5h1m1.5 0h0m2 0h0h.5m8 0h0h.5m4 0h0m2 0h0m7 0h0m3.5 0h0m4.5 0h0m1.5 0h0m1.5 0h0h1h1m2.5 0h0m4.5 0h0h.5m8 0h0m2 0h0m2 0h0m12 0h0m1.5 0h0m2 0h0h.5m9.5 0h0m13.5 0h0h1m14 0h0m4 0h0h.5h.5m2 0h0m3 0h0m2.5 0h0m3.5 0h0m7 0h0m2.5 0h0h1m1.5 0h0h.5h.5m2 0h0h.5m2 0h0m1.5 0h0m7 0h0m3 0h0h1m1.5 0h0m3.5 0h0m2 0h0m4 0h0h.5h.5m1.5 0h0h1m1.5 0h0h.5h1h1m1.5 0h0h1m1.5 0h0m1.5 0h0m2 0h0m1.5 0h0h1m1.5 0h0h.5h1h1h.5m2 0h0h.5m3.5 0h0h1h1h.5m2 0h0m1.5 0h0m2 0h0h.5h1h.5m1.5 0h0h.5h1m1.5 0h0h.5h1m2 0h0m2.5 0h0h.5m2.5 0h0h1h.5h.5h.5h.5h1m2 0h0m1.5 0h0h.5m2 0h0m2 0h0h1h.5h.5m2 0h0m2 0h0h1m2.5 0h0h1h.5m3.5 0h0h.5m2.5 0h0h.5m1.5 0h0h1m1.5 0h0h1m7.5 0h0m3 0h0m2 0h0h1m1.5 0h0h.5h.5m2.5 0h0m2.5 0h0m5.5 0h0m3.5 0h0m2 0h0h1h1h1m4 0h0h.5m2 0h0m27.5 0h0m3 0h0m1.5 0h0h1h1m2.5 0h0h.5h.5m2 0h0m7 0h0m4.5 0h0m1.5 0h0h.5m4 0h0m1.5 0h0h1m4 0h0m14.5 0h0m6.5 0h0m4 0h0m2.5 0h0m2 0h0m3 0h0m2 0h0m2.5 0h0m6.5 0h0h1m2 0h0m1.5 0h0m13 0h0m1.5 0h0m7 0h0m2 0h0m2 0h0m3 0h0m4 0h0h.5m2.5 0h0h.5m1.5 0h0m2.5 0h0h.5M85 267.1h0m2.5 0h0m4.5 0h0m2 0h0m5 0h0m8 0h0h.5m7 0h0h1m1.5 0h0m4 0h0m1.5 0h0m7.5 0h0m3 0h0m5 0h0m2 0h0h.5m5 0h0h.5m1.5 0h0m19 0h0h.5m2 0h0m10.5 0h0m7 0h0m3.5 0h0m3 0h0m4 0h0m1.5 0h0m5.5 0h0m2 0h0h1h1m1.5 0h0m2.5 0h0m7.5 0h0h1m2.5 0h0h1m7 0h0m3.5 0h0m7.5 0h0h1h1m2 0h0m3.5 0h0m2.5 0h0h.5h1m1.5 0h0m3.5 0h0m2.5 0h0m5 0h0m5.5 0h0h1m2 0h0m4.5 0h0h1h1h.5h.5h.5m2 0h0h1m1.5 0h0m3 0h0m2.5 0h0m2 0h0h.5h1h.5m5 0h0h1m1.5 0h0h1h1m2.5 0h0m3 0h0h.5m2 0h0h.5m2.5 0h0h1h1m3 0h0h.5h1m2.5 0h0h.5h.5m4 0h0m3 0h0h.5h.5h1m2 0h0h.5m1.5 0h0h.5h.5m1.5 0h0h1h1m2.5 0h0m1.5 0h0m5 0h0m1.5 0h0m1.5 0h0h.5h.5h.5m3 0h0h1m6 0h0h1h.5m2 0h0h1m9.5 0h0h.5m2.5 0h0m2 0h0h.5h1m3.5 0h0m3.5 0h0m2.5 0h0h1m2 0h0m6 0h0h1m2.5 0h0m8.5 0h0m2 0h0m3 0h0m9.5 0h0m4.5 0h0m2 0h0m1.5 0h0m3 0h0h.5m2.5 0h0m3 0h0m3.5 0h0m5 0h0m2 0h0m1.5 0h0h.5m4.5 0h0m1.5 0h0h1m4.5 0h0h1m5.5 0h0m3.5 0h0m4 0h0m1.5 0h0m1.5 0h0m7.5 0h0m3 0h0h.5h.5m2.5 0h0m1.5 0h0m9 0h0h1m4 0h0h.5h1m3.5 0h0m2.5 0h0m10.5 0h0m2 0h0h.5m10.5 0h0m2 0h0m7.5 0h0m2 0h0m2 0h0m2 0h0h.5h.5m2 0h0M81 264.6h0h1m7 0h0h.5h.5m4.5 0h0m2 0h0m3 0h0m3 0h0m2 0h0h.5m2.5 0h0m7.5 0h0h1m3.5 0h0m4 0h0m7.5 0h0m2 0h0m1.5 0h0m5.5 0h0h.5h1h.5m2 0h0m1.5 0h0m2.5 0h0m1.5 0h0m9 0h0m3.5 0h0m4.5 0h0m15 0h0m13.5 0h0m3.5 0h0h1m9.5 0h0m6.5 0h0h.5m7 0h0m5 0h0h.5m3 0h0m12 0h0m2 0h0m2.5 0h0h1h.5h.5h.5h.5m1.5 0h0m4 0h0h.5h1m1.5 0h0h.5m2 0h0h1h.5m4 0h0m3 0h0h1m2 0h0h.5h.5m4.5 0h0m2.5 0h0m2 0h0h.5m5 0h0h.5m3.5 0h0h.5h.5h.5h1h.5h.5m2.5 0h0h.5m1.5 0h0m1.5 0h0m4.5 0h0h.5m2 0h0m2.5 0h0h.5h.5h1h1m4 0h0h.5h.5h.5h.5h1m1.5 0h0m4 0h0h.5m1.5 0h0h1h.5m1.5 0h0h.5m1.5 0h0h1m1.5 0h0h1m3 0h0m1.5 0h0h.5h1h1m1.5 0h0h1m1.5 0h0m3.5 0h0m3 0h0h.5h.5h.5h.5m3 0h0m1.5 0h0h.5h1m2 0h0h.5m6.5 0h0h1h.5h1m5 0h0h.5h.5h.5m1.5 0h0m3 0h0h.5m2.5 0h0m1.5 0h0m1.5 0h0h.5m1.5 0h0h1m5.5 0h0h1m2 0h0m5 0h0h.5h.5m2.5 0h0h.5h1m7.5 0h0m3 0h0m4 0h0m3.5 0h0m6 0h0h.5m5.5 0h0h.5m7 0h0m2 0h0m2 0h0m1.5 0h0m2 0h0m2 0h0m4.5 0h0h.5h.5m4.5 0h0m13.5 0h0m2 0h0m5 0h0m2.5 0h0m1.5 0h0m5.5 0h0h.5h.5h.5m3 0h0m4.5 0h0m3 0h0m9.5 0h0m18 0h0m10.5 0h0m6 0h0m7.5 0h0m7.5 0h0M80 262.1h0m5 0h0m15 0h0m4 0h0h.5m4 0h0m1.5 0h0m7 0h0h.5h1m2.5 0h0m1.5 0h0m10.5 0h0m4.5 0h0m5.5 0h0m3 0h0m6.5 0h0m3.5 0h0m1.5 0h0m6.5 0h0m1.5 0h0m6.5 0h0m2 0h0m3.5 0h0h1m2.5 0h0m2 0h0m5.5 0h0m5.5 0h0m1.5 0h0h1h1m3.5 0h0m5.5 0h0h1m1.5 0h0m10 0h0m7 0h0m6 0h0m2 0h0h.5m8 0h0m5 0h0h.5h.5m2.5 0h0m1.5 0h0m4 0h0m5.5 0h0h.5m8 0h0h.5h.5m2.5 0h0h.5h1m1.5 0h0m1.5 0h0h1m3 0h0m2 0h0m1.5 0h0h.5h1m2 0h0m2.5 0h0h.5h.5m1.5 0h0m1.5 0h0h.5m2 0h0h.5h.5m1.5 0h0h1m1.5 0h0m2 0h0m1.5 0h0m1.5 0h0h.5h.5h.5h.5h1h.5h.5h1m3.5 0h0h1m1.5 0h0h.5h.5h.5h1m2 0h0h.5m2 0h0h.5h.5h.5m2 0h0h.5h.5m3 0h0h.5h.5m3 0h0m1.5 0h0m1.5 0h0h1h.5h.5m1.5 0h0h.5h.5h.5m5.5 0h0m3.5 0h0m2.5 0h0m1.5 0h0h1h1m2.5 0h0m2.5 0h0m1.5 0h0m1.5 0h0h.5m1.5 0h0m3.5 0h0h1h.5m2.5 0h0h1m2.5 0h0h.5m2 0h0m1.5 0h0m4 0h0m2 0h0m3 0h0h1h1m3.5 0h0m3.5 0h0m6 0h0h.5m1.5 0h0m3 0h0m4 0h0m3 0h0h1h1m7 0h0h.5m4.5 0h0m7 0h0h1m5 0h0h1m13.5 0h0m3.5 0h0h1h1h.5h1m2 0h0m3 0h0h.5h1m3.5 0h0h1m4 0h0m2.5 0h0m5.5 0h0h.5h.5h1h1m3.5 0h0h.5m11.5 0h0m10.5 0h0m7.5 0h0h1h.5m2.5 0h0m7.5 0h0m6.5 0h0h.5m7.5 0h0h.5m2 0h0m2 0h0m1.5 0h0m9 0h0M87 259.5h0m9.5 0h0m5 0h0m3.5 0h0m12 0h0h1h.5m1.5 0h0m15.5 0h0m17 0h0m16 0h0m2.5 0h0m26 0h0m1.5 0h0h1m3.5 0h0h1h.5m2 0h0m2.5 0h0m5 0h0m4 0h0m3.5 0h0m4 0h0m2 0h0m5 0h0m4.5 0h0h1m2 0h0m4 0h0m4.5 0h0m1.5 0h0h.5m2 0h0h1h.5m1.5 0h0h1h1m2 0h0m2 0h0m5.5 0h0h.5h1m2.5 0h0h.5m5.5 0h0h1h.5m4.5 0h0h1h.5h.5h1m3.5 0h0h1h.5m8 0h0h1h.5h.5h.5m2 0h0h.5m3 0h0m2.5 0h0h1m2 0h0h1m1.5 0h0h1m1.5 0h0h1m1.5 0h0h.5m2 0h0h.5h.5m1.5 0h0h.5m3 0h0m1.5 0h0m2 0h0m3.5 0h0h1m2.5 0h0m2 0h0h1h1h.5h.5h1h1h1h.5m3 0h0h1h.5m3 0h0m1.5 0h0m4 0h0m2.5 0h0m1.5 0h0m1.5 0h0h.5m2 0h0h.5h1h1h.5h.5m1.5 0h0m2 0h0m2.5 0h0m5 0h0m3.5 0h0m1.5 0h0m1.5 0h0h1h.5m2 0h0m27 0h0h1m2 0h0m3 0h0m1.5 0h0m2 0h0m1.5 0h0h1m2 0h0m7.5 0h0m3 0h0m3 0h0m3.5 0h0m3.5 0h0h1h1h1m2.5 0h0m4 0h0h.5m1.5 0h0m10 0h0m18.5 0h0h.5m5 0h0m2.5 0h0m6 0h0h1h1h.5m6 0h0m6 0h0m2.5 0h0m2.5 0h0m10 0h0m13 0h0m8 0h0m2.5 0h0m2 0h0m4 0h0m3 0h0M83.5 257h0m3.5 0h0m2.5 0h0m17 0h0m9.5 0h0h1m4.5 0h0m3 0h0m1.5 0h0m3.5 0h0m20.5 0h0m2.5 0h0m23.5 0h0m12 0h0m4 0h0m2 0h0h1m5 0h0m1.5 0h0m2.5 0h0h.5m2.5 0h0m5 0h0m7 0h0m3.5 0h0m3.5 0h0h.5h.5m7.5 0h0m2 0h0h.5m5 0h0m2 0h0m8 0h0m5 0h0m1.5 0h0m7.5 0h0m1.5 0h0m3.5 0h0m3 0h0h.5m2.5 0h0h.5m7 0h0m1.5 0h0h.5m3.5 0h0h1h.5m2.5 0h0m4 0h0h.5h1h.5m4.5 0h0h.5h1h.5h1h1h.5h.5m3.5 0h0h.5m3.5 0h0h.5h1h.5h.5h1m2 0h0m3 0h0h1h1m2 0h0h.5h1m1.5 0h0h1h.5h.5m2.5 0h0h.5m4.5 0h0m1.5 0h0h.5h.5m2 0h0m1.5 0h0h1h.5h.5h.5h1m8 0h0m1.5 0h0m4 0h0m2 0h0m4 0h0m1.5 0h0h.5m4 0h0m2 0h0m2.5 0h0h.5h.5h1h.5h.5m5 0h0h.5m1.5 0h0m4 0h0h1m3 0h0m4.5 0h0h1h1h1m8 0h0m4.5 0h0h1h.5h.5h.5h.5m3.5 0h0m2 0h0m1.5 0h0h.5h1h1h.5h1m3 0h0m4.5 0h0h1m2.5 0h0m11.5 0h0m3 0h0h1m9.5 0h0m4.5 0h0h.5m13 0h0m8 0h0m1.5 0h0m9.5 0h0m5 0h0m6 0h0h1m1.5 0h0m5 0h0m3.5 0h0m2 0h0h.5m2.5 0h0m2.5 0h0m2.5 0h0m2 0h0m4.5 0h0m4 0h0m3 0h0m1.5 0h0m1.5 0h0m5.5 0h0m1.5 0h0m1.5 0h0m3.5 0h0h1M83.5 254.5h0m7.5 0h0m6 0h0m6 0h0m3.5 0h0m8.5 0h0h.5m19 0h0m9.5 0h0m3 0h0m7 0h0m3 0h0m10.5 0h0m2 0h0m3 0h0m9 0h0m1.5 0h0m2.5 0h0h1m8 0h0h1h.5m2.5 0h0m5.5 0h0h.5m12 0h0m2.5 0h0m2.5 0h0m5.5 0h0m1.5 0h0h.5m2.5 0h0m8 0h0m3.5 0h0m2 0h0h.5h.5m3.5 0h0h1h1m6 0h0m6 0h0h.5m3 0h0h.5h.5m2.5 0h0h.5m5 0h0m3.5 0h0m1.5 0h0m2 0h0h1h.5m4.5 0h0h1h.5m2 0h0m1.5 0h0h.5m1.5 0h0m1.5 0h0h.5m1.5 0h0h1m1.5 0h0m2.5 0h0h.5h1m1.5 0h0h.5m2 0h0h.5h.5m1.5 0h0h1m2 0h0h.5h1h1m1.5 0h0m1.5 0h0h.5m2.5 0h0h.5h1m2.5 0h0m1.5 0h0h.5h.5m4 0h0h1m2.5 0h0m2 0h0m3.5 0h0h.5h1m1.5 0h0m1.5 0h0h1h.5h1m2.5 0h0h.5h1h.5h1m1.5 0h0h.5m2 0h0m3.5 0h0h1h.5m2.5 0h0h1m3.5 0h0m2 0h0h1m3 0h0h1m4.5 0h0h1m5 0h0h.5m11.5 0h0m1.5 0h0m5 0h0m1.5 0h0m8 0h0m2.5 0h0h1h.5m3 0h0m2.5 0h0m4.5 0h0h.5m1.5 0h0m4 0h0m6 0h0h.5m7 0h0h.5m9.5 0h0m1.5 0h0m4 0h0m1.5 0h0m2 0h0m3 0h0m2 0h0h.5m11 0h0m3 0h0m8.5 0h0h.5m15.5 0h0m5 0h0m9 0h0m2.5 0h0m8 0h0m10 0h0m6.5 0h0m5 0h0m2.5 0h0m1.5 0h0m6 0h0M84 252h0h.5m11.5 0h0m12.5 0h0m3 0h0h.5m4 0h0h.5h.5m1.5 0h0m3 0h0m9.5 0h0m1.5 0h0m9 0h0m4.5 0h0m2 0h0m5.5 0h0m4.5 0h0m4 0h0m4 0h0m2 0h0m4 0h0m2.5 0h0m11 0h0m8 0h0m3.5 0h0m5 0h0m12 0h0m13 0h0m3 0h0m3 0h0m4 0h0m2 0h0m2.5 0h0h1m3 0h0m2 0h0h.5m3 0h0m1.5 0h0m3.5 0h0m8 0h0m4 0h0m6.5 0h0m2.5 0h0h1m3 0h0h.5m2.5 0h0h.5h1m6 0h0h1h.5h1m4 0h0h.5h1h.5h.5h1m2 0h0m1.5 0h0m1.5 0h0h.5h.5h.5h.5h.5h.5h.5h.5h1h.5m2.5 0h0m2 0h0h1h.5m1.5 0h0h1m1.5 0h0h.5h1m3.5 0h0m2 0h0h1m3 0h0h1m1.5 0h0m2 0h0h.5m4 0h0m2.5 0h0h.5m2 0h0h1h.5m3.5 0h0m4.5 0h0h.5m1.5 0h0h.5h1m5.5 0h0m1.5 0h0h1h1m5.5 0h0m2.5 0h0h.5h1h.5h1h.5m1.5 0h0h1m4 0h0m3 0h0m1.5 0h0h1m1.5 0h0h1h.5m3 0h0h1h1h1m1.5 0h0m2.5 0h0m1.5 0h0m6 0h0h1m2.5 0h0m4 0h0h.5m10 0h0m1.5 0h0h.5m1.5 0h0m7.5 0h0m1.5 0h0m6 0h0m2 0h0m3 0h0m1.5 0h0m5.5 0h0m32 0h0h1h.5m5 0h0m3.5 0h0m4.5 0h0m1.5 0h0h1h1m1.5 0h0h.5m10 0h0m2.5 0h0m9.5 0h0m5 0h0m2.5 0h0m11 0h0m2 0h0h.5m11.5 0h0m4 0h0M81.5 249.4h0m2 0h0m5 0h0m7.5 0h0m19.5 0h0h.5m3 0h0m7 0h0m3.5 0h0h1m3 0h0m7.5 0h0m14.5 0h0m2 0h0m10 0h0m1.5 0h0m1.5 0h0m3 0h0h.5h.5m3.5 0h0m8.5 0h0m9 0h0h.5m6.5 0h0h.5m2.5 0h0m3.5 0h0m3.5 0h0m8.5 0h0m2 0h0m2 0h0m1.5 0h0m6.5 0h0m2.5 0h0m4 0h0m2.5 0h0h1m4 0h0h1m5.5 0h0m5 0h0h1h.5m5 0h0h1h1h.5m1.5 0h0m1.5 0h0h1h.5h.5m1.5 0h0m2.5 0h0h.5m3.5 0h0h.5m1.5 0h0h.5m2 0h0m1.5 0h0h.5h.5h1h1h.5h.5m2.5 0h0h1h1m1.5 0h0m2 0h0m3.5 0h0h.5h.5m5 0h0h.5h1h.5h.5h.5m2.5 0h0h.5m4 0h0m3.5 0h0h.5m2 0h0m2.5 0h0m3 0h0h.5h.5m2 0h0h.5m4.5 0h0m1.5 0h0h1m3 0h0h.5h.5m1.5 0h0h1h1m2 0h0m1.5 0h0m4 0h0h.5m1.5 0h0m1.5 0h0h.5m6.5 0h0m3.5 0h0h1h.5m1.5 0h0h.5m1.5 0h0m1.5 0h0m2 0h0h.5m7 0h0h1h.5m2 0h0m3 0h0m2.5 0h0m1.5 0h0h1m9 0h0m4.5 0h0m6 0h0m14.5 0h0h.5h.5m6.5 0h0m2.5 0h0h.5m6.5 0h0h.5m6 0h0m1.5 0h0m1.5 0h0h1m7.5 0h0m10.5 0h0m19.5 0h0h1h.5m37.5 0h0m17.5 0h0m2 0h0m1.5 0h0m8.5 0h0m2.5 0h0M85.5 246.9h0m2 0h0m1.5 0h0m4 0h0h1m6.5 0h0m7 0h0m2.5 0h0h.5m2.5 0h0m13 0h0h1m4.5 0h0m5 0h0h1h.5m1.5 0h0h1h1m9.5 0h0m2 0h0m13.5 0h0m2.5 0h0h.5h.5m8 0h0m2 0h0h1m25.5 0h0m3 0h0m10 0h0m1.5 0h0m1.5 0h0m1.5 0h0m1.5 0h0m10.5 0h0m4 0h0m4.5 0h0m3 0h0h1m5.5 0h0h1m4.5 0h0m4.5 0h0m1.5 0h0m1.5 0h0m1.5 0h0m3.5 0h0h1h.5m1.5 0h0m1.5 0h0m1.5 0h0m2 0h0h.5m4.5 0h0h1m2 0h0m1.5 0h0h.5m1.5 0h0h.5m3.5 0h0h1h1h1m2.5 0h0h1h.5h.5h.5h.5h.5h.5h.5m3 0h0h.5h1h.5m1.5 0h0h1h.5h.5m1.5 0h0h1h.5h1h.5h1m3.5 0h0h1h.5h1m3 0h0h.5m1.5 0h0h1h1h.5h.5m1.5 0h0m2 0h0h.5h.5h1h.5h.5m1.5 0h0m1.5 0h0m2 0h0m2 0h0m1.5 0h0h1h1h1h.5h.5h1m2 0h0h1m2 0h0m5.5 0h0h1m7 0h0h1h1h.5h1m2.5 0h0m7 0h0m3.5 0h0m2 0h0m3 0h0m3.5 0h0m7.5 0h0m3 0h0h1m2 0h0h1m6.5 0h0m14 0h0m3 0h0m3.5 0h0m2 0h0h1m5 0h0m4.5 0h0m2 0h0m3 0h0h1m3.5 0h0m9 0h0m3.5 0h0h1m2.5 0h0m5.5 0h0m1.5 0h0h1m3.5 0h0m11.5 0h0m8.5 0h0m5 0h0m10 0h0m3 0h0m2.5 0h0m5.5 0h0m2.5 0h0m3 0h0m4.5 0h0m1.5 0h0m1.5 0h0m12.5 0h0m9 0h0M82.5 244.4h0h.5m6.5 0h0h1m8 0h0m2 0h0h.5m23.5 0h0h.5m4.5 0h0m13 0h0m1.5 0h0m3.5 0h0m6.5 0h0m3 0h0m2.5 0h0m25.5 0h0m2 0h0h.5m3 0h0m3 0h0m11 0h0m12 0h0h1m4.5 0h0m3.5 0h0m4 0h0m4.5 0h0m2.5 0h0m6 0h0m3 0h0m1.5 0h0m3.5 0h0m3.5 0h0m2.5 0h0m6 0h0m1.5 0h0m2.5 0h0m2.5 0h0h1m5.5 0h0h.5h.5m2 0h0h.5h.5m1.5 0h0m3 0h0m2 0h0m3.5 0h0h.5h.5m3 0h0m5 0h0m4 0h0m2 0h0m2 0h0h.5m2 0h0h1h.5m2.5 0h0m2 0h0h1h1m1.5 0h0h.5h.5m2 0h0h1h1h1h.5h1h.5h.5m3.5 0h0m2 0h0m1.5 0h0m2 0h0m2 0h0h1m6.5 0h0h.5h1h.5m3 0h0h1h.5m1.5 0h0h.5h.5h1h1m2 0h0h1m1.5 0h0h.5h.5m1.5 0h0h1m5.5 0h0h.5m2.5 0h0m3 0h0h.5m3 0h0h.5m2 0h0m2.5 0h0h.5m2 0h0m5 0h0m1.5 0h0m2.5 0h0h1h1m1.5 0h0h1h.5h.5m3.5 0h0m3 0h0m1.5 0h0m3.5 0h0m9.5 0h0m2.5 0h0h.5m6 0h0m10 0h0h.5h.5m8 0h0m9 0h0m3 0h0m4 0h0m12.5 0h0m11.5 0h0m4.5 0h0m7.5 0h0m2 0h0m3.5 0h0m9 0h0m5 0h0m4 0h0m3.5 0h0m20 0h0m2 0h0m1.5 0h0m7 0h0m2 0h0M88.5 241.8h0m15.5 0h0m20.5 0h0m1.5 0h0m10 0h0h.5m11.5 0h0m1.5 0h0m3 0h0m11.5 0h0h.5m3 0h0h1h1m8 0h0m5 0h0m1.5 0h0m3 0h0m1.5 0h0h1m10.5 0h0m2.5 0h0m4.5 0h0m3 0h0m5 0h0m6 0h0h.5m6.5 0h0m1.5 0h0m2 0h0m6 0h0m1.5 0h0m2 0h0m6.5 0h0h.5m2.5 0h0m2 0h0m2 0h0m1.5 0h0m2 0h0h1m6 0h0h1m1.5 0h0h.5m1.5 0h0m8 0h0m7.5 0h0h1m2.5 0h0h.5m1.5 0h0h.5h1h.5h.5h.5h1m3 0h0h.5h1h.5h.5h.5h.5h.5m3.5 0h0m4.5 0h0h.5h.5m2 0h0h.5h1m2.5 0h0m3.5 0h0m6 0h0h1h.5h.5h.5m2 0h0h1m3 0h0h1h1h.5h1m3 0h0m1.5 0h0h1m3 0h0h1h1h1m2.5 0h0m1.5 0h0m2 0h0h1h.5h1h.5h.5h1m1.5 0h0m1.5 0h0h.5h1m5 0h0h1m7 0h0h.5h1h1m2.5 0h0h1h1m1.5 0h0h.5m3 0h0m1.5 0h0h.5m2 0h0h1m3.5 0h0m20 0h0m3 0h0h1h.5m3.5 0h0m2 0h0m1.5 0h0m2.5 0h0m11 0h0h.5m12 0h0m8.5 0h0m3.5 0h0m3 0h0m3.5 0h0m1.5 0h0m5.5 0h0m11 0h0m4.5 0h0m2 0h0m5.5 0h0m7.5 0h0m3 0h0h.5h1m1.5 0h0m2.5 0h0m14 0h0m2 0h0m8 0h0m3.5 0h0m1.5 0h0m6 0h0m11.5 0h0h1M82 239.3h0h.5m4 0h0m9 0h0m10 0h0m3 0h0m6 0h0m7 0h0h.5m18.5 0h0m6 0h0m7 0h0h1h.5m1.5 0h0m7 0h0m9 0h0m2.5 0h0m2.5 0h0m2 0h0m4.5 0h0m14 0h0h.5m20.5 0h0m7.5 0h0m3.5 0h0m9.5 0h0h.5m5 0h0m11 0h0m4 0h0m3 0h0m2 0h0m2 0h0m2 0h0m4 0h0h.5h.5h1h.5h.5m1.5 0h0m5 0h0h.5h1m3 0h0h.5m2.5 0h0m1.5 0h0m2 0h0m2.5 0h0h.5m2 0h0m2.5 0h0h.5h1m3 0h0m1.5 0h0h.5h.5m1.5 0h0m6.5 0h0m1.5 0h0m1.5 0h0h.5m2 0h0h1m2.5 0h0m2 0h0m3 0h0h.5h1h1m2 0h0h1h1h.5h.5m2.5 0h0h.5h.5h1h1h.5h.5h1h.5m4 0h0h.5m4.5 0h0m1.5 0h0m1.5 0h0h1m2.5 0h0h1h1h1m4 0h0m3.5 0h0h.5m1.5 0h0h.5m4.5 0h0h1m1.5 0h0h.5m3 0h0m1.5 0h0h.5m2 0h0m3 0h0m8.5 0h0m2.5 0h0m1.5 0h0m1.5 0h0m6.5 0h0m4.5 0h0h1m6.5 0h0m1.5 0h0h.5m2 0h0m2 0h0h1m2.5 0h0h1h.5m6.5 0h0m14 0h0m5 0h0m8.5 0h0m3.5 0h0m4 0h0m14.5 0h0m6.5 0h0m8.5 0h0m3 0h0m1.5 0h0m5 0h0h1m5 0h0m9.5 0h0m2 0h0m5.5 0h0m5.5 0h0m5.5 0h0m6 0h0m3 0h0m3.5 0h0m10.5 0h0M97 236.8h0m4.5 0h0m2 0h0m8 0h0m12 0h0h.5m3 0h0m10.5 0h0m2.5 0h0m2 0h0m5.5 0h0h.5h.5m7 0h0m26.5 0h0m7.5 0h0m13 0h0h.5m2.5 0h0m12.5 0h0m2 0h0m2.5 0h0m5 0h0m2.5 0h0m5 0h0m2 0h0h.5h1m11.5 0h0m3 0h0h.5m8.5 0h0m1.5 0h0h.5m4.5 0h0m3 0h0h.5h1m2 0h0h.5m1.5 0h0m1.5 0h0m2.5 0h0m3 0h0h.5m5 0h0h.5h.5h1h1h1m2 0h0h1h1m2.5 0h0h.5m2 0h0m1.5 0h0h1h.5h.5h.5h1h.5m3 0h0m2 0h0h1h.5h.5h1m3.5 0h0m2.5 0h0m3.5 0h0m3.5 0h0m1.5 0h0m2.5 0h0m1.5 0h0h.5h1m3 0h0h.5h1m4.5 0h0h.5h.5h1h.5m4 0h0h.5h.5m2 0h0m2.5 0h0h.5h.5h.5m3.5 0h0m1.5 0h0m2.5 0h0m2 0h0m2 0h0m2 0h0m3.5 0h0h1m3 0h0m3 0h0m5 0h0m2.5 0h0h1m3 0h0h.5m4.5 0h0m3 0h0m5.5 0h0h.5m2 0h0h1m10.5 0h0m9 0h0m1.5 0h0m6.5 0h0m1.5 0h0m4 0h0m8.5 0h0m11 0h0m6 0h0m3 0h0m2 0h0m8 0h0m3.5 0h0m3.5 0h0m4 0h0m5 0h0m15.5 0h0m7 0h0m12.5 0h0m6 0h0h1m2.5 0h0m2.5 0h0m12.5 0h0h1h.5m3 0h0h.5m3.5 0h0m3.5 0h0M80.5 234.3h0m1.5 0h0m9.5 0h0m7 0h0m1.5 0h0m15.5 0h0m14 0h0m2 0h0m5.5 0h0m5 0h0m8.5 0h0m2.5 0h0m1.5 0h0m4 0h0m10 0h0m7 0h0m4.5 0h0m15 0h0m2.5 0h0m6 0h0m6.5 0h0m3 0h0m8.5 0h0m3.5 0h0m5.5 0h0m6 0h0h.5m1.5 0h0m3.5 0h0m2 0h0m2 0h0m3.5 0h0m3.5 0h0m1.5 0h0m7 0h0h1m2 0h0m6.5 0h0m5 0h0h.5m3 0h0h.5m5.5 0h0h1h1m2 0h0m2.5 0h0m2 0h0h.5h.5h1m7.5 0h0m1.5 0h0h.5m2 0h0m1.5 0h0h1m1.5 0h0m3.5 0h0m4 0h0m4 0h0h1h1h.5h.5m5.5 0h0h.5m1.5 0h0h.5m2.5 0h0m4 0h0h1m1.5 0h0h.5m2 0h0h.5m4.5 0h0m3 0h0m2 0h0h1h.5m1.5 0h0h.5m6.5 0h0h.5m5.5 0h0h.5m1.5 0h0m4.5 0h0m3.5 0h0m3.5 0h0h1h1m2 0h0h1m10 0h0m5 0h0m3 0h0m1.5 0h0h1m3.5 0h0m3 0h0h.5m3 0h0h.5m9.5 0h0m4 0h0m10.5 0h0m5.5 0h0m11 0h0m12 0h0m6.5 0h0m3.5 0h0m16.5 0h0m5 0h0m8 0h0m3 0h0m3.5 0h0m11.5 0h0m5.5 0h0m5 0h0h.5m15 0h0M92.5 231.7h0m1.5 0h0m6.5 0h0m2.5 0h0m16.5 0h0m1.5 0h0m17.5 0h0m6 0h0h.5m34.5 0h0m21 0h0m11 0h0m7 0h0m19 0h0m1.5 0h0h.5h.5h.5m8 0h0h1h.5m1.5 0h0h.5m2 0h0h1m7.5 0h0m2.5 0h0m1.5 0h0m2 0h0h.5h1m4 0h0h1m3.5 0h0h.5h.5h.5m2 0h0h.5m2 0h0h.5h.5h.5h1h1h.5h1m3 0h0m2 0h0h1h.5h1h1m1.5 0h0m2 0h0h.5m2 0h0m2 0h0m2 0h0h.5h.5h1h.5h1h.5h1h.5h1h.5h1m3 0h0h1m3 0h0m1.5 0h0m1.5 0h0h.5h.5h1m3 0h0h.5h1m1.5 0h0m1.5 0h0h.5h.5h.5m1.5 0h0m4 0h0h1h.5h.5h.5h.5h.5h.5m3 0h0h.5m3 0h0h1m1.5 0h0h1m2 0h0m6 0h0h1h.5h.5h1h1h.5m4.5 0h0h1m2.5 0h0m3 0h0m2.5 0h0h.5h.5m4 0h0h1h1m2 0h0m5 0h0m1.5 0h0m5.5 0h0h.5h.5m5 0h0m9 0h0m21 0h0m10 0h0m9 0h0m4 0h0m2 0h0m4 0h0m4 0h0m8.5 0h0m2.5 0h0m1.5 0h0m14.5 0h0m13 0h0m22.5 0h0m2.5 0h0m2.5 0h0m1.5 0h0m6 0h0m4 0h0m14 0h0M89.5 229.2h0h1m24 0h0m16 0h0m3.5 0h0m7 0h0m7.5 0h0h1m4 0h0m10.5 0h0m4.5 0h0m15.5 0h0m8.5 0h0m8.5 0h0m6.5 0h0m11.5 0h0m3 0h0h1m8.5 0h0m3.5 0h0h1m1.5 0h0m1.5 0h0m4 0h0m7.5 0h0m7 0h0m3 0h0m8 0h0m3.5 0h0h1h.5h.5h.5m1.5 0h0m4.5 0h0h.5m8 0h0h.5h.5m1.5 0h0h.5m2.5 0h0m2 0h0m2 0h0h.5h.5h1m1.5 0h0h1h1m1.5 0h0h1m2 0h0h1h1m1.5 0h0m1.5 0h0m4 0h0h1m2.5 0h0h.5m2 0h0m2.5 0h0h.5h.5m1.5 0h0h.5m3 0h0h.5h.5h.5h.5h1h.5m7.5 0h0m2.5 0h0m3 0h0m1.5 0h0m3.5 0h0h1h1h.5h.5h1m1.5 0h0m1.5 0h0m2.5 0h0h1m1.5 0h0m1.5 0h0m5.5 0h0m4 0h0m7 0h0m1.5 0h0h1m4 0h0m4.5 0h0m1.5 0h0m2.5 0h0m10 0h0m1.5 0h0h.5m10.5 0h0m3.5 0h0h1m6 0h0m1.5 0h0m6 0h0m2 0h0m8.5 0h0m2 0h0m3 0h0m3.5 0h0h.5m22.5 0h0m5 0h0m9.5 0h0m2 0h0m8.5 0h0h.5m3.5 0h0m4 0h0m4.5 0h0m12.5 0h0h.5m13.5 0h0m20 0h0M83 226.7h0m2.5 0h0m1.5 0h0m26.5 0h0m15.5 0h0m4.5 0h0m12.5 0h0m14.5 0h0m1.5 0h0m9.5 0h0m19 0h0m5.5 0h0m10.5 0h0m6.5 0h0m11 0h0h.5m14 0h0m1.5 0h0m13 0h0m3 0h0m1.5 0h0h1m3 0h0m4 0h0h.5m3 0h0m2 0h0h.5m1.5 0h0h.5m5 0h0m4.5 0h0h1h.5m2.5 0h0m7 0h0h.5m2 0h0m1.5 0h0m5.5 0h0h.5h.5m4.5 0h0h.5m4 0h0m1.5 0h0h.5h.5m5 0h0h.5h1h.5h.5h.5m2 0h0h.5m2.5 0h0m1.5 0h0m1.5 0h0h.5h1m1.5 0h0h1h.5m2.5 0h0h1m3.5 0h0h.5h.5h.5h.5m2 0h0h1h.5h1m1.5 0h0h.5h1m3 0h0m1.5 0h0h1m6 0h0m4.5 0h0m1.5 0h0h.5h.5m3 0h0m3 0h0m10.5 0h0m1.5 0h0m2 0h0h1h1m3 0h0m4 0h0m2 0h0m5.5 0h0m18.5 0h0m17 0h0m21.5 0h0m1.5 0h0m3 0h0m9 0h0m2.5 0h0m5.5 0h0m29 0h0m6 0h0m6 0h0m16.5 0h0m6.5 0h0m12.5 0h0m7.5 0h0M84 224.1h0h.5m6.5 0h0m8.5 0h0m2.5 0h0h1m16.5 0h0m32.5 0h0h.5m1.5 0h0m1.5 0h0m27 0h0h1m4 0h0h.5m7 0h0m3 0h0m2 0h0m16 0h0m3 0h0h.5m5.5 0h0h.5m1.5 0h0m3 0h0m18 0h0m4.5 0h0m4 0h0m8 0h0m7 0h0h.5m1.5 0h0m6.5 0h0h.5m6 0h0m3 0h0m3 0h0h1h.5m2.5 0h0m2 0h0h1h.5m2.5 0h0h.5m1.5 0h0h.5h.5h.5m1.5 0h0m2 0h0m6.5 0h0m1.5 0h0m4 0h0h.5h.5h.5h.5h.5h.5m3 0h0m2.5 0h0h1h.5h.5m2 0h0h.5h1h.5h.5h.5m2 0h0m1.5 0h0m2 0h0m1.5 0h0m2.5 0h0h.5m1.5 0h0m1.5 0h0m3.5 0h0m2 0h0h.5h.5h1m4 0h0h.5m4.5 0h0m4 0h0m4.5 0h0h1m6.5 0h0h1m1.5 0h0m9 0h0h1m2.5 0h0m3.5 0h0m1.5 0h0h1m4 0h0m1.5 0h0m3 0h0m2 0h0h.5m1.5 0h0m3 0h0m2.5 0h0m3.5 0h0m2 0h0m5 0h0h.5h1m1.5 0h0h.5m55.5 0h0m10 0h0m9 0h0m11 0h0m2.5 0h0m6 0h0m1.5 0h0m36.5 0h0h.5M82 221.6h0m3.5 0h0m17.5 0h0m27 0h0m3.5 0h0m7 0h0m4.5 0h0m1.5 0h0m5 0h0m8.5 0h0h.5m3.5 0h0m13 0h0m9.5 0h0m10 0h0h.5m29.5 0h0m2.5 0h0h1m18.5 0h0m7 0h0m1.5 0h0m3 0h0h1h.5h1m3 0h0m2 0h0h.5m3 0h0m9 0h0m4.5 0h0h.5m2.5 0h0m3 0h0m1.5 0h0h.5h.5m4 0h0m2 0h0h.5h.5m1.5 0h0m10.5 0h0h1h.5m1.5 0h0h.5h1h1m6.5 0h0h.5h1m2.5 0h0h.5h.5h.5m1.5 0h0m2 0h0h1m1.5 0h0m3 0h0h.5h1m6 0h0h.5m3 0h0h.5m4 0h0m2 0h0m2 0h0m1.5 0h0h1m6 0h0h.5m6.5 0h0h1h1m3.5 0h0m5.5 0h0m4 0h0m2.5 0h0m4 0h0m2 0h0m5.5 0h0m4.5 0h0m8.5 0h0m49 0h0m1.5 0h0m5 0h0h.5m9.5 0h0m5.5 0h0m14.5 0h0m13 0h0h.5m5.5 0h0m3 0h0m3 0h0m3.5 0h0m41 0h0M79 219.1h0h1h.5m3 0h0m19.5 0h0m21 0h0m7 0h0m10.5 0h0m8.5 0h0h1m15 0h0m7.5 0h0m5.5 0h0m4.5 0h0m11 0h0m2.5 0h0m13.5 0h0m1.5 0h0m12 0h0m9.5 0h0h1m1.5 0h0m4 0h0m2 0h0m5 0h0m2.5 0h0m6 0h0m3.5 0h0m3.5 0h0m2 0h0h1m1.5 0h0m4.5 0h0m6 0h0m1.5 0h0m2 0h0h1h.5m1.5 0h0m3 0h0m1.5 0h0m3.5 0h0h.5h1m5 0h0h.5h.5m2 0h0m2 0h0h.5m1.5 0h0m2.5 0h0h.5m4 0h0h1h.5m2.5 0h0m2 0h0h.5h1h.5h1h1h.5m1.5 0h0h.5m2.5 0h0h1m2.5 0h0m5 0h0m1.5 0h0h1h.5h.5h.5m2.5 0h0m2 0h0m2.5 0h0m3.5 0h0m1.5 0h0m2 0h0h1m1.5 0h0h.5m2.5 0h0m6 0h0h1h.5m1.5 0h0h.5m2 0h0h.5m2 0h0m2.5 0h0h1h.5h1m2.5 0h0h1h1m1.5 0h0h.5m4.5 0h0m2.5 0h0h.5h.5m3 0h0m2 0h0h1m3 0h0m1.5 0h0h.5m16.5 0h0h.5m6 0h0m3.5 0h0m5.5 0h0m11.5 0h0m6.5 0h0m22.5 0h0m2.5 0h0m17.5 0h0m29 0h0m15 0h0m24 0h0m1.5 0h0M82.5 216.6h0m2.5 0h0m3 0h0m13.5 0h0m5.5 0h0m3 0h0m11.5 0h0m6 0h0m11 0h0m1.5 0h0m6 0h0m2 0h0m7.5 0h0m7 0h0m4.5 0h0m6.5 0h0m6 0h0m4 0h0m5.5 0h0m3.5 0h0m9.5 0h0m7.5 0h0m9 0h0m1.5 0h0m8.5 0h0m1.5 0h0m4 0h0m3 0h0m1.5 0h0m1.5 0h0m1.5 0h0m5.5 0h0m7.5 0h0m5 0h0h.5m3.5 0h0m3 0h0h1m2 0h0h.5m1.5 0h0h.5m2.5 0h0h.5m6 0h0m3 0h0m2 0h0m2.5 0h0m2 0h0m1.5 0h0h1m2 0h0m3.5 0h0h.5m2.5 0h0h.5m6 0h0m2.5 0h0h1m2.5 0h0h1h.5h.5m3 0h0m7.5 0h0m3 0h0h.5m1.5 0h0h.5m7.5 0h0m3 0h0m1.5 0h0h1h1m1.5 0h0m2 0h0h.5h.5m3 0h0m1.5 0h0h1m3 0h0h.5m1.5 0h0h.5m1.5 0h0h.5m3.5 0h0m2.5 0h0m2 0h0m1.5 0h0m1.5 0h0h.5m3.5 0h0m2 0h0h.5h1m9 0h0m2 0h0m4 0h0h1m2.5 0h0h1h1m8 0h0m7.5 0h0m7.5 0h0h1m1.5 0h0h1m9 0h0m11.5 0h0h.5m32 0h0m11 0h0m12.5 0h0m2.5 0h0m10.5 0h0m11.5 0h0m2.5 0h0m13 0h0m21 0h0h1m3 0h0M79.5 214h0m2 0h0m19 0h0m21.5 0h0m11.5 0h0m2 0h0m14 0h0m4 0h0m1.5 0h0m6.5 0h0m5.5 0h0m24 0h0h1m12 0h0m4 0h0m5.5 0h0m2.5 0h0m22 0h0m7 0h0m3 0h0h1m12 0h0m8.5 0h0h.5m1.5 0h0m5 0h0m4 0h0h1h.5h1m8 0h0m1.5 0h0h.5h.5h1h.5h.5m1.5 0h0h1h.5m2.5 0h0m2.5 0h0m2 0h0h.5h.5m1.5 0h0m2.5 0h0m2.5 0h0m1.5 0h0h.5m3.5 0h0h.5m1.5 0h0h.5m2 0h0h1m2 0h0m1.5 0h0h1m2 0h0m1.5 0h0m5 0h0m2.5 0h0m4.5 0h0m1.5 0h0m1.5 0h0h.5m2.5 0h0m1.5 0h0h.5h.5m1.5 0h0m4 0h0m1.5 0h0h.5h1m5 0h0m3 0h0m2 0h0h1h1m6 0h0m8 0h0m2.5 0h0h1m3 0h0m4 0h0m3 0h0m3.5 0h0h.5m16.5 0h0m6 0h0m37.5 0h0m20 0h0m14.5 0h0m3.5 0h0h.5m6 0h0m3.5 0h0m14 0h0m10.5 0h0m6.5 0h0m9.5 0h0m6.5 0h0h1M97.5 211.5h0m3 0h0m1.5 0h0m33.5 0h0m6.5 0h0m6.5 0h0m3 0h0m17.5 0h0m18 0h0h.5m5.5 0h0m22 0h0m13.5 0h0m4 0h0m9 0h0m5 0h0m2.5 0h0m3.5 0h0m3 0h0m6.5 0h0m2.5 0h0m3.5 0h0h1m3 0h0m3 0h0m3 0h0m4 0h0m2 0h0m3 0h0m2.5 0h0h.5m2 0h0m1.5 0h0m2 0h0h1m2 0h0m1.5 0h0m2.5 0h0m4 0h0m1.5 0h0m2.5 0h0m1.5 0h0m3 0h0h1m1.5 0h0h1m3 0h0h.5m1.5 0h0m2 0h0m2.5 0h0m5 0h0m1.5 0h0h.5h.5m1.5 0h0h.5m2 0h0h.5h1m5.5 0h0m4 0h0m2 0h0h1m1.5 0h0h.5m5.5 0h0h.5m3 0h0h.5m3.5 0h0m4 0h0m1.5 0h0m7 0h0m2 0h0h.5m2.5 0h0m5.5 0h0m1.5 0h0m3 0h0h1h.5h.5h1m4.5 0h0h1m4 0h0m5 0h0m7 0h0m5 0h0h1m6.5 0h0m6.5 0h0m16 0h0m8.5 0h0m2 0h0m20 0h0m7 0h0m2 0h0m4.5 0h0m5 0h0m2 0h0m20 0h0m15.5 0h0m7 0h0m12.5 0h0m6 0h0h.5m4 0h0M83 209h0m3.5 0h0m1.5 0h0m9.5 0h0m23 0h0m7.5 0h0m2 0h0m53 0h0m14 0h0h1m21 0h0m7.5 0h0h1m8.5 0h0m11 0h0m2 0h0m5.5 0h0m1.5 0h0m2.5 0h0m2.5 0h0m4 0h0m4.5 0h0m3 0h0m4.5 0h0m2 0h0m2 0h0m3 0h0h.5m1.5 0h0h1m1.5 0h0h.5m3.5 0h0m5.5 0h0m5.5 0h0m6.5 0h0m1.5 0h0m2 0h0h.5h.5m2 0h0m2 0h0h1m5 0h0h1m1.5 0h0m3.5 0h0h.5h1m8.5 0h0m2 0h0h.5h.5m3.5 0h0h1m1.5 0h0h.5h.5h1h1m3 0h0h1m20.5 0h0m6.5 0h0m6.5 0h0m1.5 0h0m5 0h0m2.5 0h0m2.5 0h0m3.5 0h0m10.5 0h0m10 0h0m3 0h0m7 0h0m4.5 0h0m40.5 0h0h1m9 0h0m2 0h0m7.5 0h0m51 0h0M94.5 206.4h0m11.5 0h0m14 0h0m19.5 0h0m6 0h0m13 0h0m11 0h0m2 0h0m1.5 0h0m25.5 0h0m29 0h0m5.5 0h0m4.5 0h0m6.5 0h0h.5h.5m6 0h0m6 0h0m3.5 0h0h1m1.5 0h0h.5m3.5 0h0m3.5 0h0m2 0h0m1.5 0h0m1.5 0h0m7 0h0m2.5 0h0m5.5 0h0m2 0h0m2 0h0m5.5 0h0h.5h.5h1m2.5 0h0m3.5 0h0h.5h.5m4 0h0m7.5 0h0m2 0h0m2.5 0h0m1.5 0h0h.5h.5m3.5 0h0m2.5 0h0m2.5 0h0h1m3 0h0m3 0h0h1m1.5 0h0m2.5 0h0m5.5 0h0m1.5 0h0m2.5 0h0h1h.5m2.5 0h0m3 0h0h.5m3.5 0h0h1m1.5 0h0h1h1m1.5 0h0m2 0h0h1m4.5 0h0m2 0h0h1m4.5 0h0m4.5 0h0m8 0h0m1.5 0h0m6 0h0m1.5 0h0m4 0h0m4 0h0h1m12 0h0m4.5 0h0m9.5 0h0m33.5 0h0m4 0h0m58.5 0h0m6 0h0m3 0h0h1m9 0h0h1m5.5 0h0M78.5 203.9h0m17.5 0h0m16.5 0h0m6 0h0m17.5 0h0m3 0h0m7 0h0m14 0h0m4.5 0h0m2 0h0m2 0h0m9.5 0h0m27 0h0m9 0h0m4 0h0m5.5 0h0m6 0h0m2.5 0h0m20 0h0m23.5 0h0m3 0h0m4.5 0h0m5.5 0h0h.5h.5h.5m3.5 0h0m2 0h0m5.5 0h0m1.5 0h0m2 0h0h.5h.5m4 0h0h.5m1.5 0h0h1m3 0h0h.5h.5h1m2 0h0m1.5 0h0m9 0h0h.5m6 0h0h1m12 0h0m4.5 0h0h.5m2 0h0h1h1m6 0h0h.5h.5m2 0h0m5.5 0h0m2.5 0h0h.5h.5m3.5 0h0m4.5 0h0m7 0h0m4 0h0m7 0h0h1m4 0h0m8 0h0m24.5 0h0h1m3 0h0h.5m6 0h0h1m7.5 0h0m2 0h0h.5m6 0h0m10.5 0h0m6 0h0m14.5 0h0m4.5 0h0m18 0h0m8.5 0h0m23 0h0m2 0h0m2 0h0M82 201.4h0m12 0h0m50 0h0m20 0h0m28.5 0h0m12.5 0h0m16 0h0m15.5 0h0m2 0h0m8.5 0h0m2.5 0h0m7.5 0h0m4.5 0h0m2 0h0h.5m1.5 0h0m2.5 0h0m1.5 0h0h.5m7.5 0h0m6.5 0h0h1m2.5 0h0h1m1.5 0h0m3.5 0h0m5 0h0m1.5 0h0h.5m1.5 0h0h.5h.5h.5h.5m2 0h0h.5m2 0h0m2.5 0h0m4 0h0m2 0h0m3.5 0h0m2.5 0h0m2 0h0m2 0h0h.5h1m2 0h0m1.5 0h0m2 0h0m2 0h0m1.5 0h0h.5m2.5 0h0m2.5 0h0h.5h.5h.5h1m2 0h0h.5m4 0h0m10.5 0h0m1.5 0h0m1.5 0h0m4 0h0m5.5 0h0m3.5 0h0m1.5 0h0m2.5 0h0h.5m3.5 0h0m24 0h0m24 0h0m5.5 0h0h1m10.5 0h0m23.5 0h0m6.5 0h0m38 0h0m17 0h0m32.5 0h0m2 0h0M78.5 198.9h0m2 0h0m8 0h0m4.5 0h0m25 0h0h.5m18.5 0h0m4.5 0h0m2 0h0m7 0h0h.5m20 0h0m2 0h0m10 0h0m5 0h0m15.5 0h0m14 0h0m2 0h0m6.5 0h0m12 0h0m2 0h0m2.5 0h0m6 0h0m3.5 0h0m7.5 0h0h1m1.5 0h0m5.5 0h0m4.5 0h0m1.5 0h0m1.5 0h0m1.5 0h0h1m2.5 0h0m1.5 0h0m6.5 0h0m6 0h0m6.5 0h0h1h.5h1m1.5 0h0m3.5 0h0h.5h1h1m3 0h0m4 0h0h1m2.5 0h0m2 0h0h.5m1.5 0h0h.5m2 0h0m2.5 0h0m6 0h0m1.5 0h0m1.5 0h0h1m1.5 0h0m5.5 0h0h.5m3 0h0m3.5 0h0h1m2 0h0h.5h1m1.5 0h0m1.5 0h0m6 0h0m2 0h0h.5m7.5 0h0h1h1m3.5 0h0m5 0h0m2 0h0m1.5 0h0m2 0h0m4 0h0m3 0h0m3 0h0h1m2 0h0m10.5 0h0m3 0h0m3 0h0m4.5 0h0m5 0h0m3.5 0h0m10 0h0m3 0h0m15.5 0h0m17.5 0h0m9.5 0h0m11.5 0h0m2.5 0h0m37.5 0h0m6 0h0m6 0h0m15.5 0h0M105.5 196.3h0m5.5 0h0m34 0h0m7.5 0h0h1h1m39 0h0m13.5 0h0m41 0h0m11.5 0h0h.5m6.5 0h0m3.5 0h0h.5m6.5 0h0h.5m5.5 0h0m2.5 0h0m4 0h0m3.5 0h0h1m3 0h0m3 0h0h.5h1m3 0h0m1.5 0h0m7 0h0h1m1.5 0h0h.5m2.5 0h0m8.5 0h0h1h1m1.5 0h0m2.5 0h0m4 0h0m3 0h0m3 0h0h.5m2 0h0h.5m2 0h0h.5h.5m4 0h0m5.5 0h0m1.5 0h0h.5m2.5 0h0h.5h.5m1.5 0h0h.5h.5h1h.5h.5m13 0h0m2.5 0h0m6 0h0h1h1m3.5 0h0m7.5 0h0m9.5 0h0m10 0h0m4.5 0h0m7 0h0m25 0h0m48.5 0h0m6.5 0h0m3 0h0m3.5 0h0h1m6 0h0m12.5 0h0m10 0h0m16 0h0M89.5 193.8h0m9 0h0m10.5 0h0m6.5 0h0m36 0h0m12.5 0h0m30.5 0h0m9.5 0h0m10 0h0m1.5 0h0m10 0h0m9.5 0h0m19.5 0h0m8.5 0h0h1h1m3.5 0h0m6 0h0m6 0h0m2 0h0h1h1m2.5 0h0m3.5 0h0m6.5 0h0m1.5 0h0h1m5 0h0m5.5 0h0m8 0h0m2.5 0h0h1m3.5 0h0m1.5 0h0m3.5 0h0m2 0h0m2.5 0h0h.5m5 0h0m1.5 0h0m4.5 0h0h.5h.5m1.5 0h0h.5h1m1.5 0h0m1.5 0h0m3.5 0h0h.5m8 0h0m1.5 0h0m2 0h0m6.5 0h0m3 0h0m4 0h0h.5m4 0h0m10.5 0h0m20.5 0h0m3 0h0m24.5 0h0m16 0h0h.5m2.5 0h0m34.5 0h0m7 0h0m13.5 0h0m5.5 0h0m6 0h0m27 0h0M97 191.3h0m3 0h0m11.5 0h0m42.5 0h0m3.5 0h0m16 0h0m5 0h0m1.5 0h0m3.5 0h0m4.5 0h0m16.5 0h0m3.5 0h0m12.5 0h0h1m21.5 0h0m7 0h0m5 0h0h1m7.5 0h0m5.5 0h0m4 0h0h1m4 0h0m6.5 0h0h1m15 0h0h.5m3.5 0h0m5 0h0h.5m1.5 0h0m5 0h0h.5m3 0h0h1m1.5 0h0m3.5 0h0m1.5 0h0h1m1.5 0h0h1h.5m3.5 0h0h.5m5 0h0m5.5 0h0m6 0h0m2.5 0h0h.5m2 0h0m4 0h0m1.5 0h0m5 0h0m1.5 0h0m28 0h0m44 0h0m29.5 0h0m87 0h0M112 188.7h0m17.5 0h0m28 0h0m3 0h0m23.5 0h0m35 0h0m17.5 0h0m5 0h0m7 0h0m2.5 0h0m2 0h0m13 0h0m10 0h0h.5m4 0h0h1h1m5.5 0h0h1m17.5 0h0m2 0h0m2 0h0m6 0h0m2 0h0m1.5 0h0m2.5 0h0m1.5 0h0m1.5 0h0m5 0h0m4.5 0h0m2.5 0h0m4 0h0m2 0h0m2 0h0m7 0h0m2 0h0h1h1m1.5 0h0m2 0h0m2 0h0m1.5 0h0m3 0h0m6 0h0m7 0h0m1.5 0h0m2 0h0m11.5 0h0m3 0h0m9 0h0m9.5 0h0m7.5 0h0m1.5 0h0h1m4.5 0h0m4 0h0m10.5 0h0m47 0h0m18 0h0m35 0h0M80 186.2h0m7.5 0h0m31.5 0h0m27.5 0h0m11 0h0m22 0h0m8 0h0m7.5 0h0m7.5 0h0m7 0h0m10.5 0h0m14.5 0h0m2 0h0m3.5 0h0m2.5 0h0h1m5 0h0m3.5 0h0m11 0h0m2 0h0h.5m2 0h0m6.5 0h0m5 0h0m13 0h0m4 0h0m1.5 0h0h.5m7 0h0h.5m2 0h0h1m2 0h0m5.5 0h0m5 0h0h1h1h.5m4 0h0m4.5 0h0m1.5 0h0m7 0h0m5 0h0m10 0h0m4 0h0m4 0h0m3 0h0m4 0h0m3.5 0h0m11.5 0h0m10 0h0m3.5 0h0m4.5 0h0h1m4.5 0h0m5.5 0h0m49.5 0h0m8.5 0h0m2 0h0m27.5 0h0m34.5 0h0m16.5 0h0M80.5 183.7h0m20 0h0m51.5 0h0m22.5 0h0m37.5 0h0m3 0h0m5.5 0h0m18 0h0m5 0h0h.5h1m12 0h0m6 0h0m19.5 0h0m15.5 0h0m2 0h0m5.5 0h0m6 0h0m2 0h0m2.5 0h0h.5m7.5 0h0h.5m6.5 0h0m11.5 0h0m2 0h0m2 0h0m2.5 0h0m6 0h0h.5h.5m11 0h0h1m1.5 0h0m2 0h0h.5m9 0h0m13 0h0h.5m2.5 0h0m1.5 0h0m2 0h0h.5m3.5 0h0m17.5 0h0m1.5 0h0m16 0h0m14.5 0h0m8 0h0m69.5 0h0m6.5 0h0M88 181.2h0m10.5 0h0m80.5 0h0m26.5 0h0m33 0h0m3 0h0m9.5 0h0m4 0h0m3 0h0m11.5 0h0m8.5 0h0m4.5 0h0h1m1.5 0h0m2 0h0m12.5 0h0m1.5 0h0h.5m2.5 0h0m4 0h0h.5m2 0h0m4 0h0m5 0h0m1.5 0h0m2 0h0h1h1h.5m5 0h0m4 0h0m2.5 0h0m4.5 0h0m2.5 0h0m3 0h0h1m4 0h0m1.5 0h0m5 0h0h1m3.5 0h0m3 0h0m7 0h0m24.5 0h0m1.5 0h0m8 0h0m12.5 0h0m17 0h0m12 0h0m7.5 0h0m3 0h0m14.5 0h0m3 0h0m44 0h0m38.5 0h0m4 0h0m6 0h0M121 178.6h0m8 0h0m5.5 0h0m18.5 0h0m19.5 0h0m65 0h0m5 0h0h.5m9.5 0h0m13 0h0m2 0h0m3 0h0m12 0h0m1.5 0h0m4 0h0m1.5 0h0m1.5 0h0m1.5 0h0m1.5 0h0m5.5 0h0m3 0h0m5.5 0h0m4.5 0h0m2.5 0h0h1m7 0h0m7.5 0h0h1h.5m2.5 0h0h1m1.5 0h0m2 0h0m3.5 0h0m4.5 0h0h.5m4 0h0m3 0h0m2 0h0m3 0h0m2 0h0m7.5 0h0m1.5 0h0m2 0h0h.5m9.5 0h0m3 0h0m5.5 0h0m1.5 0h0m11 0h0m3 0h0m116.5 0h0m46.5 0h0M80.5 176.1h0m49 0h0m47.5 0h0m12.5 0h0m17.5 0h0m29.5 0h0m4 0h0m2.5 0h0m8.5 0h0m1.5 0h0m4.5 0h0m2 0h0h1m8.5 0h0m13.5 0h0h1m3 0h0m2.5 0h0h.5m2 0h0m2.5 0h0m4 0h0m4.5 0h0m9 0h0m3.5 0h0h.5m3 0h0m7.5 0h0m1.5 0h0h.5m3 0h0m4 0h0m5.5 0h0h.5h.5m2.5 0h0m6 0h0m1.5 0h0m2 0h0m2.5 0h0h1m3.5 0h0m2.5 0h0h.5m12.5 0h0m2 0h0m2 0h0m5 0h0m3 0h0m13.5 0h0m8 0h0m2 0h0m5.5 0h0m3.5 0h0m82 0h0m15.5 0h0m6.5 0h0m15.5 0h0m3.5 0h0M108.5 173.6h0m3.5 0h0m57.5 0h0m20 0h0m34.5 0h0m22 0h0m6.5 0h0m2.5 0h0m4.5 0h0m5 0h0m9 0h0m1.5 0h0m2.5 0h0m1.5 0h0h.5m3.5 0h0m3 0h0m1.5 0h0m9.5 0h0m7 0h0h1h1h.5m7 0h0m2 0h0m4 0h0m4 0h0m4.5 0h0h.5h1m7 0h0m1.5 0h0h1m7 0h0h1m2 0h0m5.5 0h0m2.5 0h0m10 0h0m3.5 0h0m4 0h0h1m7 0h0m4.5 0h0m5 0h0m15.5 0h0m5 0h0m12.5 0h0m77 0h0m54.5 0h0m4.5 0h0M105.5 171h0m2 0h0m68 0h0m49.5 0h0m14.5 0h0m10 0h0m5.5 0h0m2.5 0h0m12.5 0h0m10.5 0h0m10.5 0h0m4 0h0h1m15 0h0m3 0h0m6.5 0h0m8.5 0h0m1.5 0h0h1h.5h.5m7.5 0h0h1h.5m2 0h0m1.5 0h0m15 0h0m14 0h0m7.5 0h0m4 0h0m7 0h0m30.5 0h0h.5m20.5 0h0m16.5 0h0m4 0h0m10 0h0h.5m5.5 0h0m42.5 0h0m41 0h0M83.5 168.5h0m17 0h0m7.5 0h0m16.5 0h0m12.5 0h0m51.5 0h0m29.5 0h0m9.5 0h0m3.5 0h0m18.5 0h0m19.5 0h0m12.5 0h0m3.5 0h0m12.5 0h0m5 0h0h1m2 0h0m8.5 0h0m4.5 0h0m1.5 0h0m2.5 0h0m7.5 0h0h1m3 0h0m2.5 0h0h.5h1h1m3.5 0h0m6.5 0h0m12 0h0m15 0h0h1m4.5 0h0m8.5 0h0m4.5 0h0m4.5 0h0m4 0h0m21 0h0m21.5 0h0m59.5 0h0m25.5 0h0m36 0h0M174 166h0m24.5 0h0m41 0h0m6.5 0h0m16 0h0h1m6.5 0h0m11 0h0m3.5 0h0m7 0h0m4 0h0m10 0h0m5 0h0h.5m7.5 0h0m2.5 0h0m50.5 0h0m9.5 0h0m10 0h0m3 0h0m9.5 0h0m7.5 0h0m18.5 0h0m1.5 0h0m2.5 0h0m80 0h0m12 0h0h.5M239 163.4h0m26.5 0h0m2.5 0h0m6 0h0m2.5 0h0m13 0h0m1.5 0h0m3 0h0m3.5 0h0m7.5 0h0h1m4.5 0h0m10 0h0m4 0h0m1.5 0h0m6 0h0m1.5 0h0m4 0h0h.5m6.5 0h0m7.5 0h0m1.5 0h0m2.5 0h0m1.5 0h0m7 0h0m9.5 0h0m6.5 0h0m1.5 0h0m6 0h0m13.5 0h0m5 0h0m13 0h0m39.5 0h0M79.5 160.9h0m5 0h0m85.5 0h0m11 0h0h1m29.5 0h0m38 0h0m4.5 0h0m4 0h0m5 0h0m30 0h0m3.5 0h0m3.5 0h0m3 0h0m7.5 0h0m6.5 0h0m2.5 0h0m16 0h0m14.5 0h0m8 0h0m3.5 0h0m19 0h0m6 0h0m1.5 0h0m3 0h0m2.5 0h0m3 0h0m3.5 0h0m14 0h0m23 0h0m20.5 0h0m6.5 0h0m5 0h0m28 0h0M240 158.4h0m22 0h0m1.5 0h0m15 0h0m17 0h0m8.5 0h0m4.5 0h0m2.5 0h0m10.5 0h0m5 0h0m3.5 0h0m7 0h0m4 0h0m6 0h0m3 0h0m3 0h0h1m3.5 0h0m24 0h0m2.5 0h0m14.5 0h0m12.5 0h0m35 0h0m56.5 0h0m12.5 0h0h1M170.5 155.9h0m19 0h0m32.5 0h0m16 0h0m11.5 0h0m3 0h0m16.5 0h0m33.5 0h0m16.5 0h0m5.5 0h0h.5m7 0h0m12 0h0h1m3 0h0m2 0h0h1m4 0h0m1.5 0h0m12 0h0m17 0h0m3.5 0h0m142 0h0M98 153.3h0m14 0h0m70 0h0m17.5 0h0m35.5 0h0m32.5 0h0m24.5 0h0h.5m12.5 0h0m5.5 0h0m1.5 0h0m3.5 0h0m7.5 0h0h1m13.5 0h0h1m15.5 0h0m7.5 0h0m10 0h0m59.5 0h0m17.5 0h0m35 0h0m53 0h0M239.5 150.8h0m24.5 0h0m10.5 0h0m14 0h0m8 0h0m4 0h0m20.5 0h0m1.5 0h0h.5h.5m1.5 0h0m12.5 0h0m3.5 0h0m4.5 0h0m12.5 0h0m31 0h0m6.5 0h0m20.5 0h0m21 0h0m36.5 0h0m28.5 0h0m40.5 0h0M86 148.3h0m80 0h0m5.5 0h0m74 0h0m22 0h0m6 0h0m10 0h0m6 0h0m2 0h0h.5m5.5 0h0m1.5 0h0m23.5 0h0m5.5 0h0m17.5 0h0m8 0h0m8.5 0h0m8.5 0h0m5 0h0m23.5 0h0m29.5 0h0m140 0h0M256 145.7h0m35 0h0m9.5 0h0m12 0h0m4 0h0m9 0h0m27.5 0h0m1.5 0h0m12.5 0h0m3.5 0h0h.5m24.5 0h0m69 0h0M156.5 143.2h0m4.5 0h0m77 0h0m9 0h0m18 0h0m11 0h0m8.5 0h0m26 0h0m16 0h0m6.5 0h0m30 0h0m9 0h0m54.5 0h0m80.5 0h0M125 140.7h0m86 0h0m28.5 0h0m5.5 0h0m12 0h0m15 0h0m1.5 0h0m53.5 0h0m4.5 0h0m21.5 0h0m2 0h0m15.5 0h0m2.5 0h0m24 0h0M101 138.2h0m44 0h0m89.5 0h0m69 0h0m5.5 0h0m7 0h0m2.5 0h0m20 0h0m7 0h0m3 0h0h.5m14 0h0m16 0h0m1.5 0h0M151.5 135.6h0m150 0h0m3.5 0h0m15 0h0m17 0h0m3.5 0h0m1.5 0h0m35.5 0h0m27 0h0M89.5 133.1h0m139.5 0h0m61 0h0m36.5 0h0m15 0h0m11.5 0h0h.5m16 0h0m34.5 0h0m50 0h0M114.5 130.6h0m165.5 0h0m17 0h0m6 0h0m3.5 0h0m7 0h0m63 0h0m35.5 0h0m27.5 0h0M164.5 128h0m78 0h0m4 0h0m65.5 0h0m20 0h0m6.5 0h0m2 0h0m4.5 0h0h.5h.5m5.5 0h0m3 0h0m14.5 0h0m24 0h0m16.5 0h0M87 125.5h0m37 0h0m129 0h0m30 0h0m10 0h0m67 0h0m23.5 0h0M83 123h0m77.5 0h0m61 0h0m26.5 0h0m3 0h0m29 0h0m41 0h0m48.5 0h0M215.5 120.5h0m103 0h0m10.5 0h0m6 0h0m13.5 0h0m25 0h0m12 0h0m131 0h0M172 117.9h0m25.5 0h0m139.5 0h0m18 0h0m8 0h0M319 115.4h0m14 0h0m5 0h0h.5M121 112.9h0m123 0h0m2 0h0m64.5 0h0m41.5 0h0m7 0h0M272.5 110.3h0m22 0h0m72 0h0m6.5 0h0m31.5 0h0M267 107.8h0m31.5 0h0m15 0h0m6.5 0h0M328 105.3h0m10.5 0h0M306.5 102.8h0m62 0h0M190 100.2h0m90.5 0h0m32.5 0h0m23 0h0m110.5 0h0M96.5 95.2h0m174.5 0h0M344 90.1h0m147.5 0h0M358.5 87.6h0M207.5 82.5h0M343.5 80h0" stroke="#000" stroke-width="1.75" stroke-linecap="round" fill="none"/></g>
<g clip-path="url(#c0)">
<path d="M290.35 580.24V47.81" stroke="#006400" stroke-width="2.25" stroke-dasharray="9 9" stroke-linecap="round" fill="none"/>
<path d="M360.25 580.24V47.81" stroke="#006400" stroke-width="2.25" stroke-dasharray="9 9" stroke-linecap="round" fill="none"/>
<path d="M59.76 441.64H592.19" stroke="#D21E20" stroke-width="2.25" stroke-dasharray="9 9" stroke-linecap="round" fill="none"/>
</g>
<rect x="59.76" y="47.81" width="532.43" height="532.43" fill="none" stroke="#000" stroke-width=".75" stroke-linejoin="round"/>
<path d="M125.6 580.24H525M125.6 580.24v6M225.45 580.24v6M325.3 580.24v6M425.15 580.24v6M525 580.24v6" fill="none" stroke="#000" stroke-width=".75" stroke-linecap="round"/>
<text x="125.3" y="602" font-size="10" text-anchor="middle">-400</text>
<text x="225.15" y="602" font-size="10" text-anchor="middle">-200</text>
<text x="325" y="602" font-size="10" text-anchor="middle">0</text>
<text x="424.85" y="602" font-size="10" text-anchor="middle">200</text>
<text x="524.7" y="602" font-size="10" text-anchor="middle">400</text>
<path d="M59.76 560.5V54.7M59.76 560.5h-6M59.76 434.05h-6M59.76 307.6h-6M59.76 181.15h-6M59.76 54.7h-6" fill="none" stroke="#000" stroke-width=".75" stroke-linecap="round"/>
<text transform="translate(45.1 561.1) rotate(-90)" font-size="10" text-anchor="middle">80</text>
<text transform="translate(45.1 434.65) rotate(-90)" font-size="10" text-anchor="middle">85</text>
<text transform="translate(45.1 308.2) rotate(-90)" font-size="10" text-anchor="middle">90</text>
<text transform="translate(45.1 181.75) rotate(-90)" font-size="10" text-anchor="middle">95</text>
<text transform="translate(45.1 55.3) rotate(-90)" font-size="10" text-anchor="middle">100</text>
<text x="323" y="31.6" font-size="21.35" font-weight="bold" text-anchor="middle">Top hit for each peak</text>
<text x="326.4" y="625.7" font-size="16" text-anchor="middle">Distance to peak summit</text>
<text transform="translate(21.8 314.2) rotate(-90)" font-size="16" text-anchor="middle">Motif score</text>
<rect x="699.76" y="47.81" width="532.43" height="532.43" fill="none" stroke="#000" stroke-width=".75" stroke-linejoin="round"/>
<g clip-path="url(#c1)"><g filter="url(#bl)">
<rect x="687.76" y="35.81" width="556.43" height="556.43" fill="#fff"/>
<path fill="#fefeff" fill-rule="evenodd" d="M951.4 47.8l15.4-.8 15 .4 15 1.6 15 2.9 15 4.1 15 5.2 42 16.9 15 4.5 12 2.3 12 1.5 12 .7 66 .7 6 .2 6 .8 6 1.9 6 3.7 3 2.8 3 3.6 4.3 7 2.9 6 3.6 9 4.2 14.2 0 371.6-4.4 10.2-4.6 8-6 7.2-6 4.7-6 2.6-3 .8-9 1-87 .6-18 .7-17.4 1.4-18.5 3-12.1 2.9-36 11-18 4.5-9 1.6-9 .9-9 .6-9-.1-18-1.5-15-2.7-15-3.6-37.6-10.6-13.6-3-20.1-3-15.7-1.2-18-.7-81-.6-12-.8-6-1.4-3-1.2-3-1.5-3-2.2-6-6-5.6-8.4-3.4-7 0-386.5 3.9-11.5 4.2-9 3.9-6.2 3-3.8 3-3 6-3.9 6-2 6-.8 6-.3 45-.3 21-.7 15-1.2 12-1.7 13.4-3.1 10-3 42.6-15.9 21-6.6 12-3 12-2.3z"/>
<path fill="#fcfcff" fill-rule="evenodd" d="M951.3 62.8l15.5-.9 15 .5 15 1.8 15 3.2 12 3.6 15 5.7 12 5.3 22.3 10.8 13.7 5.9 9 3.1 12.2 3 11.8 1.7 15 1.2 21 .5 45 .3 6 .3 6 .8 6 2.1 6 4.2 3 3.2 4.5 6.7 3 6 3.6 9 2.9 9 4 16.4 0 322.2-4.5 12.4-4.5 9.1-3 4.7-3 3.7-6 5.2-6 2.9-3 .9-9 1.2-90 .6-21 .7-15 1.2-15 2-12 2.3-39 9.9-18 3.8-15 1.9-18 .4-15-1-15-2.3-15-3.1-33-8-9-1.8-12-2.1-18-2.2-33-1.6-81-.5-9-.3-6-.7-6-1.5-6-3.1-3-2.4-3-3-5.6-7.9-4.5-9-1.9-5 0-340.3 4.3-14.7 3.6-9 3.1-6 4-6 3-3.4 3-2.5 3-1.9 6-2.2 6-1 6-.3 42-.3 21-.6 15-1.2 12-1.8 12-2.7 12-3.9 13-5.2 32-14 21-7.5 18-4.8 12-2.3z"/>
<path fill="#fafaff" fill-rule="evenodd" d="M954.9 71.8l14.9-.6 15 .8 12 1.6 15 3.5 15 5 9 3.8 12 5.6 25.4 13.3 12.8 6 9.8 3.6 12 3.2 12 1.9 15 1.2 21 .5 45 .3 6 .3 6 1 6 2.2 3 2 4.9 4.8 4.1 5.9 4.4 9.1 3.3 9 3.4 12 3.9 18.5 0 288.3-4.4 14.2-4.6 10.2-3 5.1-3 4.1-3 3.2-3 2.4-6 3.2-3 1-9 1.3-93 .6-18 .6-18 1.3-24 3.6-11.8 2.4-30.2 7.3-15 2.9-15 1.7-15 .5-15-.8-15-1.9-12-2.2-34.2-7.5-13.8-2.6-25.2-3.4-16.8-1.1-18-.7-84-.4-12-.7-6-1.1-3-1-6-3.4-4-3.6-5-6.5-4.6-8.5-4.4-11.7 0-309.2 2.1-9.1 2.6-9 3.3-9 4.4-9 4.2-6 4.4-4.4 6-3.5 6-1.6 9-.8 45-.4 21-.7 15-1.5 15-2.7 9-2.6 15-5.6 36-17.1 21-8.6 12-3.8 12-3.1 12-2.2z"/>
<path fill="#f8f8ff" fill-rule="evenodd" d="M946.5 80.8l17.3-1.5 15 .2 9 .9 9 1.4 15 3.7 15 5.4 12 5.5 12 6.3 24 13.5 9 4.5 12 4.9 11.6 3.2 12.4 2 15 1.2 21 .6 42 .2 12 .8 6 1.6 3 1.5 3 2.1 3 2.8 3 3.8 3 5 2.5 5.4 4.4 12 4 15 2.4 12 1.7 10.8 0 255.9-4.1 15.3-3.3 9-2.9 6-3.7 6-2.3 3-4.7 4.6-3 2-3 1.5-6 1.7-9 .9-87 .4-21 .6-15 .9-15 1.6-12 1.9-10.1 1.9-34.9 7.8-15 2.6-15 1.4-15 .2-12-.7-12-1.4-15-2.5-45-9-12-1.8-18-1.9-15-.9-18-.6-84-.4-12-.6-6-1.3-6-2.6-3-2.1-3-2.8-3-3.6-2.6-3.8-4.5-9-3.4-9-1.5-5.4 0-280.4 2.3-11.2 4.2-15 3.4-9 4.7-9 3.4-4.6 3-3 3-2.2 3-1.6 6-1.7 9-.8 45-.4 21-.8 18-1.9 15-3.2 9-2.9 9.5-3.9 12.5-6 26-13.4 12-5.6 9-3.7 18-5.9 12-2.8z"/>
<path fill="#f5f5ff" fill-rule="evenodd" d="M956.4 86.8l16.4-.5 15 1.2 15 2.9 12 3.6 15 6.1 12 6.1 39 22.8 12 5.5 10.3 3.3 13.7 2.7 15 1.5 21 .7 45 .2 12 .9 6 1.7 3 1.6 3 2.2 3 3.1 3 4.1 3 5.4 2.5 5.9 4.9 15 4 18 2 12 1.6 12 0 223.7-1.4 7.3-3.1 12-3 9-2.6 6-5.3 9-2.6 3.2-3 2.9-3 2.2-6 2.6-6 1.2-6 .5-90 .5-21 .6-18 1.2-22.8 3.1-40.2 8.3-15 2.7-15 1.6-15 .5-15-.8-15-1.8-56.9-10.5-27.1-3.2-18-1.1-18-.6-84-.4-12-.7-6-1.2-6-2.9-3-2.2-2.7-2.7-3.3-4.2-4.4-7.8-2.6-6-3.1-9-1.9-7.6 0-252.7 3.6-18.7 3.2-12 4.3-12 3.9-7.4 3.2-4.6 2.8-3 3-2.4 3-1.7 6-1.8 9-.9 45-.4 21-.8 15-1.5 15-2.9 12-3.8 11.1-4.8 39.9-21.5 9-4.4 12-5.2 9-3.2 12-3.5 12-2.5z"/>
<path fill="#f2f2ff" fill-rule="evenodd" d="M961.4 92.8l14.4-.1 12 1.2 15 3.1 12 3.8 12 5 12 6.2 12 7.2 21 13.5 9 5.2 12 5.6 9 3.1 15 3.1 15 1.5 21 .7 45 .2 12 .9 6 1.9 3 1.7 3 2.4 2.5 2.8 3.5 4.9 3 5.9 3 7.6 4.9 17.6 2.4 12 2.4 15 2.3 20 0 190.2-1.4 8.8-2.6 12-3.5 12-2.3 6-2.8 6-3.7 6-4.7 5.3-3 2.3-3 1.6-6 2-9 1-90 .4-21 .7-18 1.2-12 1.3-14.4 2.2-36.6 7.4-15 2.6-15 1.6-15 .4-12-.5-15-1.5-15-2.4-41.1-7.6-15.9-2.2-15-1.5-18-1-18-.6-84-.4-12-.7-6-1.4-6-3-4.8-4.2-4.2-5.6-3.5-6.4-3.6-9-2.7-9-2.2-9.6 0-225.4 1.6-11 2.3-12 3.8-15 4.3-12 3-6.1 3-4.7 3-3.5 3-2.6 3-1.7 3-1.3 6-1.2 9-.6 42-.3 21-.8 15-1.5 15-2.9 12-4 10.8-4.8 11.2-6 29-16.9 12-6.2 12-5.2 12-4.1 12-3.2 12-2.2z"/>
<path fill="#eeeeff" fill-rule="evenodd" d="M942 101.8l15.8-2.2 9-.5 9 .1 15 1.8 9 1.9 9 2.7 15 6.1 12 6.3 12 7.5 27 18.2 9 5.2 9 4.2 12 3.9 12 2.3 18 1.6 21 .6 42 .2 9 .5 6 1.3 3 1.2 3 1.8 3 2.6 3 3.6 3 4.8 3.7 8.3 3 9 3.1 12 3.8 21 3.5 30 .9 12.4 0 147.3-1.7 14.3-2.2 12-2.9 12-1.8 6-3.4 8.7-3 5.7-3 4.4-3 3.3-3 2.5-3 1.8-6 2.1-9 1-92.7 .5-18.3 .6-18 1.2-12 1.2-15 2.3-39 7.7-12 1.9-15 1.6-15 .4-15-.7-15-1.7-54-9.4-15.1-2.1-17.9-1.6-34.5-1.4-79.5-.3-12-.4-6-1-6-2.2-3-1.9-3-2.6-3-3.5-3-4.6-2.4-4.5-3.5-9-4.2-15-1.9-10.6 0-193.2 3.3-24.2 3.8-18 4.9-15.6 3-6.7 3-5 3-3.8 3-2.8 3-1.9 3-1.3 6-1.4 9-.6 42-.3 21-.8 18-1.9 15-3.4 9-3.1 12-5.6 10.1-5.8 25.9-16.2 18-9.8 12-5.3 9-3.2 9-2.7z"/>
<path fill="#ebebff" fill-rule="evenodd" d="M949.6 104.8l8.2-1 9-.5 15 .7 15 2.6 15 4.6 15 6.8 12 6.9 9 5.9 22.5 16 10.5 6.7 10.6 5.3 10.4 3.7 12 2.7 18 1.9 21 .7 45 .2 9 .6 6 1.3 3 1.3 3 1.9 3 2.7 3 3.8 3 5.2 3 6.8 3 9 2.4 9.2 2.4 12 2 12 3.1 27 2.1 31.4 0 109.2-1 12.4-1.4 12-2.5 15-2.9 12-3 9-4.2 9.2-4 5.8-5 5-6 3.1-6 1.5-6 .6-90 .4-21 .6-18 1.2-24 3-39 7.5-15 2.5-15 1.5-15 .4-15-.7-12-1.2-15-2.3-45-7.9-15-1.9-14.6-1.3-36.4-1.3-78-.3-12-.5-6-1-6-2.4-3-1.9-3-2.8-3-3.7-4.2-7.1-4.6-12-3.9-15-2.3-14.4 0-168.9 1.5-14.7 2.1-15 3.5-18 2.3-9 2.6-7.8 3-7.2 3-5.4 3-4 3-2.9 3-2 3-1.4 6-1.5 9-.6 42-.3 21-.8 18-1.9 15-3.4 9-3.1 12-5.7 10.1-6 28.9-18.7 18-9.9 12-5.2 9-3.2 12-3.2z"/>
<path fill="#e8e8ff" fill-rule="evenodd" d="M955.2 107.8l14.6-.8 15 1.1 12 2.3 6 1.6 9 3.2 12 5.4 12 6.9 12 8.1 24 17.6 9 5.7 11.6 5.9 9.4 3.3 12.1 2.7 17.9 1.9 21 .6 45 .3 9 .6 6 1.3 3 1.4 3 2 3 2.9 3 4 3 5.4 2.7 6.6 4.5 15 3.6 18 2.9 21 2.4 27 1.3 24 .6 23.4 0 45.8-.6 20.8-1.3 18-2.2 18-3 15-3.4 12-3.8 9-3.7 6.5-3 3.7-3 2.7-3 1.9-6 2.4-9 1.1-90 .5-21 .6-18 1.2-12 1.2-14.9 2.2-36.1 7-15 2.5-15 1.6-15 .3-12-.4-15-1.6-15-2.2-40.5-7.2-16.5-2.2-15-1.4-36-1.5-81-.4-12-.5-6-1-6-2.4-3-2.1-3-2.9-3-3.9-4.7-8.7-2.3-6-2.7-9-3.2-15-2.1-15.5 0-144.3 2.5-26.2 2.1-15 2.3-12 2.9-12 2.2-6.9 3-7.6 3.5-6.5 2.5-3.4 2.5-2.6 3.5-2.6 3-1.5 6-1.5 9-.6 42-.3 21-.8 18-1.9 15-3.4 12-4.5 12-6.2 39-25.6 9-5.3 9-4.6 12-5.1 12-4 12-2.7z"/>
<path fill="#e4e4ff" fill-rule="evenodd" d="M958.2 110.8l14.6-.5 15 1.5 15 3.7 12 4.5 12 6 12 7.4 9 6.4 21 16 12 8.1 9 4.7 12 4.5 6 1.5 9 1.6 15 1.5 21 .6 45 .3 9 .6 6 1.4 3 1.4 3 2.1 4.2 4.7 1.8 2.5 3 5.7 4.6 12.8 3.6 15 3 18 2.8 24 2.1 30 .9 27 .2 30-.3 27-.9 18-2 21-2.5 15-3.7 15-3.3 9-4.5 8.5-3 3.9-3 2.8-3 2.1-6 2.4-9 1.2-90 .5-21 .6-18 1.1-12 1.3-15 2.2-39 7.5-15 2.3-15 1.4-12 .2-15-.7-15-1.7-51-8.8-18-2.4-15-1.4-18-1-18-.6-81-.3-12-.5-6-1.1-6-2.5-3-2.2-3-3-2.1-2.8-5-9-4.2-12-3.4-15-2.9-21-.4-5.8 0-117.5 1.4-20.7 2-18 1.7-12 2.7-15 3-12 3.1-9 4.1-8.6 3-4.5 3-3.1 3-2.3 3-1.5 6-1.6 9-.6 42-.4 21-.7 18-1.9 9-1.8 6-1.6 12-4.5 11.3-5.9 9.7-6.1 30-20.7 12-7.1 9-4.6 12-5 9-2.9 12-2.9z"/>
<path fill="#e1e1ff" fill-rule="evenodd" d="M958 113.8l14.8-.5 15 1.5 6 1.3 9 2.5 12 4.7 12 6.1 12 7.7 30 23.1 11 7.6 10 5.4 12 4.5 12 2.7 18 1.8 21 .7 45 .2 9 .7 6 1.5 3 1.4 3 2.2 3 3.1 3 4.4 3 6 3.7 10.4 3.7 15 3.1 18 2.4 21 1.7 21 1.3 30 .4 30-.2 27-.7 18-1.7 21-2.7 18-3.7 15-3.3 9-4 7.9-3 4-3 3-3 2.1-6 2.5-9 1.3-90 .5-21 .6-18 1.1-12 1.3-15 2.2-39 7.5-12 1.9-15 1.6-15 .4-15-.7-15-1.7-54-9.2-17.2-2.3-12.8-1.1-18-1.1-18-.5-81-.3-12-.5-6-1.1-3-1.1-3-1.6-3-2.3-3-3.1-3-4.3-2.2-4-2.6-6-2.1-6-3.6-15-2.8-18-1.7-22.9 0-84.7 .8-18.4 1.4-18 2.3-21 2.9-18 2.7-12 3.6-12 4-9 3.3-5.1 3-3.3 3-2.4 3-1.5 6-1.7 9-.6 42-.4 21-.7 18-1.9 15-3.4 12-4.5 12-6.4 9-5.9 30-21.3 9-5.6 12-6.4 12-5.2 9-3 12-3z"/>
<path fill="#dedeff" fill-rule="evenodd" d="M955.5 116.8l14.3-.8 6 .1 9 1 6 1.1 9 2.3 12 4.4 12 6 12 7.5 11.2 8.4 21.8 17.5 9.1 6.5 11.9 6.7 6 2.5 6 1.9 6 1.6 9 1.6 15 1.3 21 .7 45 .3 9 .6 6 1.6 3 1.5 3 2.2 3 3.3 4.3 7.2 1.7 3.6 3 8.5 3.7 14.9 3.1 18 2.7 24 1.6 21 1.1 30 .3 24-.3 27-.9 21-1.2 15-2.6 18-2.7 12-4.1 12-3.7 7.5-3 4.2-3 3.1-3 2.2-6 2.6-9 1.3-93 .5-21 .7-18 1.3-26.1 3.6-36.9 7.2-12 1.9-15 1.6-15 .4-15-.8-15-1.6-54-9.3-18-2.3-12-1.1-18-1-18-.5-81-.4-12-.5-6-1.2-3-1.1-3-1.6-3-2.4-3-3.2-3-4.5-1.9-3.6-3.6-9-3.3-12-2.7-15-1.8-15-1.1-18-.5-18-.1-33 .7-27 1-21 2.4-27 2.5-18 2.8-15 3.1-12 2.5-7.1 2.1-4.9 3.9-6.5 3-3.5 3-2.4 3-1.6 6-1.7 9-.7 45-.4 21-.9 18-2.2 6-1.2 9-2.6 9-3.6 12-6.4 12-8.1 27-19.8 9-5.8 12-6.7 12-5.3 9-3.1 12-3z"/>
<path fill="#dbdbff" fill-rule="evenodd" d="M952 119.8l14.8-1.3 9 .2 6 .5 9 1.5 6 1.5 6 1.9 9 3.5 12 6.2 12 7.8 10.8 8.2 22.2 18.3 9 6.5 6 3.7 6 3.1 12 4.5 13.5 2.9 16.5 1.6 21 .6 45 .3 9 .7 6 1.6 3 1.6 3 2.3 3 3.4 3 4.7 2 4.2 4 11.2 3.7 15.8 2.9 18 2 18 1.8 24 1 24 .3 27-.3 27-.7 18-1.2 15-2.5 18-3.4 15-3.6 10.2-4.2 7.8-1.8 2.7-3.2 3.3-2.8 2.2-6 2.6-9 1.4-93 .6-21 .7-18 1.3-24.1 3.2-35.9 7-15 2.5-15 1.6-15 .3-12-.4-15-1.6-15-2.2-42-7.4-15-2.1-15-1.4-18-1-18-.5-81-.4-12-.5-6-1.2-3-1.2-3-1.7-3-2.4-3-3.4-4.7-8-3.5-9-3.2-12-2.6-15-1.9-18-.9-15-.4-18-.1-30 .6-24 1.1-21 2-24 2.3-18 3.3-18 3.2-12 3.3-9 4.5-8.2 3-3.6 3-2.5 3-1.7 6-1.8 9-.7 45-.4 21-.9 18-2.1 9-2 6-1.8 10.4-4.3 10.6-5.8 9-6.1 30-22.5 9-5.9 9-5.3 9-4.5 12-4.7 12-3.5z"/>
<path fill="#d7d7ff" fill-rule="evenodd" d="M948.4 122.8l9.4-1.4 9-.6 9 .2 6 .6 9 1.6 6 1.5 9 3 6 2.5 12 6.3 12 8 10.6 8.3 22.4 18.9 9 6.6 6 3.8 6 3.1 6 2.5 6 2 12 2.6 18 1.8 21 .7 45 .2 9 .7 6 1.7 3 1.6 3 2.4 3 3.5 4.3 7.9 3.4 9 3.2 12 3.3 18 2.5 21 1.9 24 1 24 .4 27-.2 24-.7 18-1.4 18-2.1 15-2.5 12-4.1 12.9-4.2 8.1-1.8 2.8-3 3.3-3 2.4-3 1.7-3 1.1-9 1.3-93 .6-21 .7-15.4 1.1-23.6 3-39 7.6-15 2.5-15 1.5-15 .4-12-.5-15-1.5-15-2.2-43.8-7.8-28.2-3.2-18-1-18-.5-81-.4-12-.6-6-1.2-3-1.2-3-1.7-3-2.6-3-3.5-4.6-8.1-3.4-9-3-12-2.6-15-1.7-18-.9-15-.3-45 .6-24 1.3-24 1.6-18 2.3-18 2.6-15 2.9-12 4.3-12 3.9-7.1 3-3.8 3-2.6 3-1.7 6-1.8 9-.8 45-.4 21-.9 18-2.1 9-2 6-1.8 12-5 10.3-6 10.7-7.5 27-20.8 9-6.2 9-5.3 12-6 9-3.5 9-2.8z"/>
<path fill="#d4d4ff" fill-rule="evenodd" d="M936.8 127.9l15-3.5 9-1 9-.4 9 .5 6 .7 9 1.9 6 1.8 9 3.4 12 6 12 7.8 12 9.4 24 20.6 9 6.7 6 3.8 6 3.1 6 2.5 6 2 12 2.6 18 1.8 18 .6 45 .3 9 .3 6 1.1 3 1.1 3 1.6 4.4 4.2 1.6 2 3 5.1 3.2 7.9 3.5 12 3.5 18 2.7 21 1.5 18 1.3 24 .5 27-.1 27-.6 18-1.3 18-2 15-2.4 12-3.8 12.7-4.1 8.3-1.9 3-3 3.5-3 2.5-3 1.7-3 1.1-6 1.2-12 .5-81 .3-33 1.3-15 1.5-12 1.6-42 8.1-15 2.5-15 1.6-15 .4-12-.5-15-1.5-18-2.8-42-7.5-15-1.9-15-1.4-33-1.3-81-.4-12-.6-6-1.3-3-1.2-3-1.8-3-2.6-2.5-3-3.5-5.7-1.5-3.3-3.3-9-2.9-12-2-12-1.6-15-1.1-18-.5-42 .5-21 1.4-27 1.5-18 2.3-18 2.6-15 2.9-12 4.3-12 3.4-6.2 3-3.9 3-2.7 3-1.8 6-1.9 9-.8 45-.4 21-.8 18-2.1 9-2 6-1.8 12-5.1 12-7.1 9-6.5 27-21.3 9-6.3 9-5.6 9-4.6 9-3.9z"/>
<path fill="#d1d1ff" fill-rule="evenodd" d="M957.4 125.8l6.4-.5 9-.1 6 .4 9 1.3 12 3.2 9 3.5 6 2.8 9 5.2 12 8.4 10.7 8.8 19.3 17.1 12 9.3 6 3.8 5.3 2.8 9.7 3.9 12 3 9 1.3 9 .8 21 .8 48 .3 9 .7 6 1.8 3 1.7 3 2.6 3 3.8 3 5.3 1.7 4 3.8 12 3.2 15 2.7 18 2.1 21 1.2 21 .8 27-.1 30-.6 21-1 15-1.4 12-2.8 15-3.5 12-3.1 7.4-3 5-3 3.6-3 2.5-3 1.8-6 1.9-9 .9-87 .4-18.1 .5-17.9 1.1-15 1.6-12 1.8-42 8.2-12 1.9-15 1.6-15 .4-15-.7-15-1.7-57-9.9-15-2-15-1.3-33-1.4-81-.4-12-.6-6-1.3-3-1.2-3-1.9-3-2.7-2.8-3.5-3.2-5.6-1.5-3.4-3.1-9-2.9-12-2.2-15-1.4-15-.8-18 0-48 .9-24 1.2-18 2.2-21 2.3-15 2.5-12 3.4-12 4-9 4-6 3.4-3.3 3-1.9 3-1.2 6-1.1 9-.5 45-.4 18-.8 18-2.1 9-1.9 6-1.8 12-5.1 12-7.1 9-6.7 28.7-23.1 10.3-7.1 9-5.4 9-4.5 12-4.8 12-3.3z"/>
<path fill="#ceceff" fill-rule="evenodd" d="M950.5 128.8l7.3-1.1 9-.6 9 .2 6 .6 9 1.7 6 1.6 6 2 9 3.9 12 6.8 12 8.6 9 7.5 21 19 12 9.4 10.8 6.4 10.2 4.1 12 3 9 1.3 9 .8 18 .7 48 .3 9 .4 6 1.2 3 1.1 3 1.8 3 2.7 3 3.9 1.5 2.7 1.6 3 2.9 7.5 3.6 13.5 2.7 15 2.3 18 2 24 1 24 .3 24-.3 27-.8 18-1.4 15-2.3 15-3 12-4.1 10.7-3 5.2-3 3.7-3 2.6-3 1.8-3 1.3-6 1.2-6 .4-87 .4-21 .7-18 1.2-12 1.4-15 2.3-36 7.2-15 2.5-15 1.6-15 .4-12-.5-15-1.5-15-2.3-42-7.7-18-2.4-15-1.4-36-1.4-87-.7-6-.8-3-.8-3-1.3-3-2-3-2.8-3-3.9-1.8-3.1-3.9-9-2.6-9-2.9-15-1.7-15-1.2-18-.4-45 .6-21 1.1-21 1.9-21 2.5-18 2.4-12.5 3-11.5 3.4-9 2.6-4.9 2.9-4.1 3.1-2.9 3-2 3-1.2 6-1.2 9-.5 45-.4 18-.7 18-2.1 9-2 6.6-2 11.4-4.8 12-7.2 12-9.2 25.2-20.8 7.8-5.6 9-5.8 9-5 12-5.2 9-2.9z"/>
<path fill="#c7c7ff" fill-rule="evenodd" d="M936.8 134.1l15-3.6 9-1.2 9-.3 9 .5 6 .8 9 2 9 3 6 2.5 12 6.5 12.2 8.5 10.8 9 22 20.2 12 9.5 10.5 6.3 10.5 4.3 12 2.9 9 1.3 9 .8 18 .7 48 .3 9 .4 6 1.2 3 1.2 3 1.8 3 2.8 3 4 2.7 5.3 3.3 8.5 3.2 12.5 2.7 15 2.3 18 1.8 21 1 24 .3 24-.2 24-.7 18-1.7 18-1.9 12-2.8 12-4 11-4.2 7-1.8 2.3-3 2.7-3 1.9-3 1.2-6 1.3-6 .4-87 .5-21 .6-16.5 1.1-25.5 3.3-39 7.8-15 2.6-15 1.6-15 .4-12-.5-15-1.5-18-2.9-42-7.7-15-2-15-1.4-36-1.4-87-.7-6-.8-3-.9-3-1.3-3-2-3-2.9-3-4.1-2-3.6-3.6-9-3.2-12-2.1-12-1.6-15-1-15-.4-45 .7-24 1.3-21 1.8-18 2.1-15 2.2-12 3.1-12 3.4-9 2.3-4.4 3-4.3 3-3 3-2 3-1.2 6-1.3 9-.5 45-.4 21-1 9-.9 9-1.5 9-2.2 6-2 11.4-5.3 9.6-5.9 12-9.3 24.6-20.8 8.4-6.2 9-6 9-5 9-4.2z"/>
<path fill="#bebeff" fill-rule="evenodd" d="M957.8 134.8l9-.7 6 .1 12 1.3 6 1.3 9 2.8 12 5.4 12 7.3 9 6.9 9.7 8.6 23.3 22.6 9 7.6 9 6 6 3.2 6.3 2.6 8.7 2.6 6 1.3 18 2 18 .7 48 .3 9 .4 6 1.3 3 1.3 3 2 3 3 3.8 6.1 3.7 9 3.2 12 2.8 15 2.3 18 1.5 18 .9 21 .4 24-.3 24-.8 18-1.4 15-1.9 12-2.2 9.5-3 8.8-3 6.2-3 4.3-3 3-3 2-3 1.4-6 1.4-6 .4-87 .5-21 .7-15 1-15 1.7-12 1.9-39 8-15 2.7-15 1.6-15 .4-15-.7-15-1.8-57-10.4-15-2.1-15-1.5-18-1-18-.5-78-.3-9-.4-6-.9-3-.9-3-1.5-3-2.2-3-3.2-4.3-7.1-3.5-9-2.3-9-2.1-12-1.5-12-1-15-.5-42 .6-21 1-18 1.2-15 2.3-18 2.8-15 3.3-12 4-9.7 3-4.7 3-3.3 3-2.1 3-1.4 6-1.4 9-.5 45-.4 21-1 9-.9 9-1.5 9-2.2 6-2 6-2.5 6-3 12-8 9-7.4 27-23.9 9-7 9-6 12-6.5 12-4.9 12-3.2z"/>
<path fill="#b4b4ff" fill-rule="evenodd" d="M949.7 140.8l8.1-1.4 6-.5 9-.1 6 .4 6 1 9 2.2 9 3.3 6 2.8 12 7.3 11.5 9 9.6 9 20.9 21.4 12 10.7 9 6.1 6 3.2 6 2.5 6 1.9 9 2 18 2 18 .7 48 .3 9 .5 6 1.3 3 1.5 3 2.2 3 3.3 3 4.9 4 10.5 2.5 9 2.8 15 2.2 18 1.4 18 .8 18 .3 21-.8 36-1.2 15-1.8 12-1.9 9-2.8 9-2.5 5.8-2 3.2-4 4.9-3 2.3-3 1.4-6 1.6-6 .5-87 .5-21 .7-18 1.4-12 1.5-12 2-39 8.3-15 2.7-15 1.7-12 .4-15-.5-15-1.6-15-2.5-42-8.2-13-2.1-14-1.6-18-1.4-21-.7-87-.6-6-.6-6-1.7-3-1.6-3-2.4-3.6-4.4-2.4-4.2-2.1-4.8-2.8-9-1.9-9-1.7-12-1.4-15-.6-15-.1-21 .2-18 .9-21 1.4-18 1.8-15 2.6-15 3.1-12 3.6-9.5 3-5.2 3-3.6 3-2.3 3-1.6 6-1.4 9-.6 45-.4 21-.9 12-1.4 9-1.6 6-1.5 8.4-3 9.6-4.6 6-3.7 6-4.4 9-7.6 27-25.2 9-7.4 9-6.4 9-5.4 9-4.3 9-3.4z"/>
<path fill="#ababff" fill-rule="evenodd" d="M957.2 143.8l6.6-.7 9-.1 12 1.5 6 1.4 9 3.1 12 6 10.1 6.8 10.9 9.2 8.9 8.8 21.1 22.7 9 8.5 6 4.7 6 3.9 6 3.2 6 2.5 12 3.3 9 1.4 9 .9 18 .8 51 .4 9 .5 6 1.5 3 1.5 3 2.4 3 3.7 3.7 7.1 3.1 9 2.8 12 2.4 14.7 1.6 15.3 1.2 18 .5 18 0 21-.4 21-1 15-1.5 12-2.5 12-3 9-3.9 7.7-3 3.6-3 2.5-3 1.6-6 1.7-6 .5-87 .5-21 .8-18 1.5-24 3.7-36 8-15 2.9-15 2-15 .7-15-.6-18-2.1-15-2.6-40.9-8.4-25.1-3.5-18-1.5-21-.8-87-.6-6-.6-6-1.8-3-1.8-3-2.6-3-3.9-3.5-6.9-2.9-9-2.6-12.7-1.5-11.3-1.1-15-.5-39 .6-18 1.1-18 1.5-15 2.2-15 2.6-12 2.7-9 1.4-3.5 2.8-5.5 3.2-4.2 3-2.6 3-1.7 6-1.6 9-.6 48-.5 18-.8 9-.9 9-1.4 9-2.2 6-2 6-2.4 6-3.1 6-3.8 6-4.4 12-10.7 17.1-17.1 9.6-9 9.3-7.8 9-6.4 9-5.2 12-5.4 9-2.9z"/>
<path fill="#a1a1ff" fill-rule="evenodd" d="M947.2 149.8l7.6-1.7 9-1 9-.1 6 .5 6 1 9 2.4 9 3.7 6 3.1 10.7 7.1 10.6 9 11.7 12 21 23.7 9 8.7 6 4.8 6 3.9 6 3.2 6 2.4 6 1.9 9 2 15 1.7 18 .8 51 .4 9 .6 6 1.6 3 1.6 3 2.7 3 4 3 6 3 8.8 3 13.3 1.9 12.9 1.3 12 1 15 .6 18-.3 39-.7 12-1.3 12-2.2 12-2.7 9-3.6 7.8-3 4-3 2.8-3 1.7-6 1.8-6 .7-87 .5-21 .8-15 1.3-15 2-12 2.2-36 8.4-15 3-15 2.1-15 .7-15-.6-15-1.7-18-3.2-45-9.5-15-2.3-14-1.5-16-1-18-.7-78-.4-9-.4-6-1.2-3-1.2-3-1.9-3-2.9-3-4.4-3.2-6.9-2.8-9.9-2.1-11.1-1.4-12-.7-12-.4-36 .5-15 1.1-18 1.5-15 1.8-12 2.7-12.3 3-9.4 3-6.4 3-4.4 3-2.8 3-1.8 6-1.7 9-.7 48-.5 21-1.1 9-1 9-1.6 9-2.5 6-2.2 6-2.7 6-3.5 6-4.1 6-4.8 9-8.4 26.2-27.1 6.8-6.1 9-7.2 9-5.9 9-4.8 9-3.7z"/>
<path fill="#9797ff" fill-rule="evenodd" d="M950.5 152.8l7.3-1.4 9-.8 9 .3 6 .8 9 2.1 6 2.2 6 2.6 6 3.3 6 3.9 6 4.6 10.2 9.4 8.4 9 20.4 24.2 6 6.4 6 5.8 6 4.8 6 4 6 3.1 6 2.5 6 1.9 9 1.9 18 2 18 .6 54 .6 6 1 3 1.1 3 1.8 3 2.9 3 4.4 3 6.6 3 9.9 2.6 13.5 1.6 12 1.3 15 .9 30-.6 33-.9 12-1.7 12-3 12-2.4 6-3.8 6.4-2.6 2.6-3.4 2.4-3 1.2-3 .7-6 .7-87 .6-18 .7-18 1.5-12 1.7-12 2.2-42 10.1-12 2.5-15 2.1-15 .7-15-.6-18-2.2-15-2.9-42-9.3-15-2.6-12-1.6-18-1.4-21-.9-84-.6-6-.8-3-.8-3-1.3-3-2.1-3-3.3-3.4-5.7-2.6-6.8-3-12.6-1.5-10.6-1.1-12-.6-30 .2-15 .7-15 1.6-18 1.5-12 2.2-11.3 3-10.7 3-7.1 3-4.7 3-3.1 3-2 6-1.9 9-.7 48-.4 21-1.1 9-1.1 9-1.6 9-2.4 6-2.2 6-2.8 6-3.4 6-4.2 6-4.9 9-8.6 25.6-27.8 9.6-9 7.3-6 8.5-5.9 9-5 9-3.9z"/>
<path fill="#8e8eff" fill-rule="evenodd" d="M953.2 155.8l7.6-1.2 6-.4 9 .2 6 .8 9 2.3 6 2.2 6 2.8 6 3.5 10.7 7.8 10.3 9.7 10 11.3 20 24.8 9 9.6 6 5.4 6 4.4 6 3.6 6 2.8 6 2.1 6 1.6 15 2.5 24 1.3 57 .7 6 1 3 1.2 3 2 3 3.1 3 4.9 3 7.3 3 11.5 2 12.2 1.4 12 1 15 .5 15-.5 36-.9 12-1.1 9-2.4 11.3-2.4 6.7-3.6 6.9-3 3.3-3 2.2-3 1.3-3 .9-6 .7-84 .6-21 .9-15 1.2-15 2.2-12 2.3-39 9.9-15 3.3-15 2.2-15 .8-15-.6-18-2.4-18-3.6-39-9.2-15-2.7-12-1.7-18-1.6-21-.9-84-.7-6-.9-3-.8-3-1.5-3-2.4-3-3.6-3-5.6-3-9-2-9.5-1.3-9-.9-12-.5-30 .3-15 .9-15 1.5-15 1.8-12 3.8-15 2.4-6 3.7-6 2.3-2.6 3-2.1 3-1.3 3-.8 9-.7 51-.6 18-1 12-1.5 9-1.9 9-2.7 6-2.5 6-3.1 6-3.8 6-4.6 6-5.4 9-9.3 24.8-28.1 8.2-7.9 8.4-7.1 9.6-6.6 9-4.9 9-3.6z"/>
<path fill="#8484ff" fill-rule="evenodd" d="M955.4 158.8l8.4-1.1 6-.2 6 .3 6 .8 6 1.5 9 3.2 6 3 6 3.6 6 4.3 6 5.1 9.4 9.5 10.1 12 19.5 25.3 9 9.8 6 5.5 6 4.4 6 3.6 6 2.8 6 2.2 9 2.3 9 1.4 9 .9 21 .8 45 .3 9 .4 6 1.1 3 1.3 3 2.2 3 3.4 3 5.4 3 8.4 2 8.5 1.5 9 1.4 12 1.1 14.5 .4 12.5-.4 33-.9 12-1.1 9-1.1 6-2.9 10-3 6.1-3 3.8-3 2.4-3 1.6-3 .9-6 .8-84 .7-21 .9-15 1.4-12 1.8-15 3.1-39 10.4-15 3.4-15 2.3-15 .8-15-.7-18-2.4-18-3.8-42-10.3-15-2.8-12-1.7-18-1.6-18-.8-84-.8-6-.9-3-1-3-1.6-3-2.6-3-4.1-3-6.6-2.5-8.7-1.7-9-1.6-18-.4-33 .5-12 1.2-15 1.5-12.6 1.5-8.4 1.5-6.7 3-9 3-5.8 3-3.7 3-2.4 3-1.4 6-1.3 9-.4 48-.5 12-.6 12-1.1 15-2.7 9-2.7 6-2.5 6-3.1 6-3.9 6-4.6 6-5.5 9-9.6 18.8-22.5 8-9 6.2-6.2 9-7.9 9-6.5 9-5.1 12-4.9z"/>
<path fill="#7b7bff" fill-rule="evenodd" d="M957 161.8l6.8-.8 9-.2 6 .6 6 1.2 6 1.8 6 2.4 6 3.1 6.2 3.9 8.8 7 10.9 11 9.7 12 18.4 25 6 7.4 6 6.5 6 5.5 6 4.5 6 3.6 6 2.8 6 2.2 9 2.2 9 1.5 9 .8 21 .9 45 .3 9 .4 6 1.2 3 1.5 3 2.3 3 3.9 3 6.1 3.3 11.4 2.9 18 .9 12 .6 15-.3 30-1.4 18.6-1.6 8.4-1.6 6-2.8 7-3 4.4-3 2.7-3 1.7-3 1-6 .9-84 .9-21 1.1-15 1.5-12 1.9-12 2.6-42 11.8-15 3.5-15 2.4-15 .8-18-.9-18-2.8-15-3.4-42-11-15-3-12-1.9-18-1.7-18-.9-84-.9-6-1-3-1.1-3-1.9-1.8-1.7-1.2-1.2-3-4.8-2.4-6-1.7-6-1.7-9-1.4-15-.5-30 .4-12 1.2-15 3.1-20.4 3-10.7 3-6.6 3-4.1 3-2.6 3-1.6 6-1.4 9-.4 48-.5 12-.6 12-1.1 15-2.7 9-2.8 6-2.5 6-3.1 6-3.9 6-4.7 6-5.5 9-9.8 25.9-32 8.4-9 7.7-7 10.8-8 10.2-5.6 9-3.6z"/>
<path fill="#7171ff" fill-rule="evenodd" d="M958 164.8l8.8-.9 6 0 6 .7 6 1.2 6 1.9 6 2.5 6 3.2 6 4 10 8.4 11 12 6.9 9 20.1 28.4 9 11 6 6.1 6 5.1 6 4 6 3.2 6 2.5 9 2.7 9 1.7 9 1.1 21 1 48 .4 9 .4 6 1.4 3 1.6 3 2.7 3 4.3 3 7.1 3 12.1 2.4 20.2 .8 24-.6 24-.8 9-1.3 9-1.4 6-2.1 6.2-3 5.2-3 3.2-3 2-3 1.1-3 .7-6 .5-78 .9-21 1-15 1.5-15 2.5-12 2.8-39 11.7-15 3.9-18 3.1-15 .9-9-.3-9-.7-18-2.9-15-3.6-45-12.4-12-2.6-15-2.4-18-1.8-18-.9-78-.7-6-.6-3-.7-3-1.3-3-2.1-3-3.4-3-5.7-3.3-11.1-1.5-9-.8-9-.5-27 .7-18 2.5-21 2.9-12.7 3-7.7 3-4.7 3-2.9 3-1.8 6-1.5 9-.5 45-.4 21-1.2 12-1.5 9-1.9 9-2.8 6-2.5 6-3.2 6-3.9 6-4.7 6-5.6 12-13.8 17.2-22.7 7.3-9 8.5-9.2 9-8.2 9-6.6 9-5.1 6-2.7 6-2.1z"/>
<path fill="#6868ff" fill-rule="evenodd" d="M958.6 167.8l8.2-.8 6 0 6 .7 6 1.2 6 2 6.5 2.9 8.5 5 5.2 4 9.7 9 7.7 9 8.9 12 19.5 28.9 9 11.3 6 6.2 6 5 6 4.1 6 3.3 6 2.6 9 2.7 15 2.6 12 1 12 .4 54 .6 6 .8 3 1 3 1.8 3 3.1 3 5.1 3 8.6 3 16.9 1.2 20-.1 24-1.3 18-2.8 13.1-3 6.7-3 3.8-3 2.3-3 1.4-3 .7-6 .6-75 1.2-21 1.1-18 1.9-12 2-15 3.7-39 12.5-15 4.1-9 1.9-9 1.3-15 .9-9-.3-9-.7-18-3-18-4.6-42-12.5-15-3.5-12-2.1-15-1.7-21-1.3-78-.9-6-.6-3-.9-3-1.4-3-2.4-3-4.1-3-6.9-2.8-12.3-1.2-15-.3-27 1.3-17.5 3-17.5 3-9.4 3-5.5 3-3.3 3-2 3-1.2 6-.9 54-.8 12-.6 12-1.2 15-2.8 9-2.9 6-2.6 6-3.2 6-3.9 6-4.8 6-5.7 6-6.6 6-7.5 19-26.1 7.1-9 8-9 7.9-7.5 9-6.9 9-5.4 6-2.7 6-2.2z"/>
<path fill="#5e5eff" fill-rule="evenodd" d="M958.8 170.8l8-.8 6 0 6 .7 6 1.3 6 2 6 2.8 6 3.5 7.4 5.5 9.4 9 9.8 12 8.3 12 16.1 25.1 6 8.5 6 7.4 6 6.2 6 5.2 6 4.2 6 3.4 6 2.7 9 2.9 6 1.3 9 1.4 12 1 12 .5 54 .6 6 1 3 1.2 3 2.1 3 3.6 2.7 5.7 2.6 9 1.8 12 1.2 18-.5 24-1.5 15-1.3 6-2 6-3 4.9-3 2.7-3 1.7-6 1.3-9 .5-45 .8-27 1-21 1.5-18 2.3-12 2.4-12 3.3-39 13.3-15 4.3-9 2-9 1.4-15 .9-9-.3-9-.8-18-3.1-18-4.8-45-14.3-12-3-12-2.4-18-2.3-18-1.1-78-1.2-6-.8-3-.9-3-1.7-3-2.9-3-5-1.1-2.7-1.9-6.4-1-5.6-1.1-15-.3-24 1.7-18 2.5-12 1.2-4.1 3-6.8 3-3.9 3-2.3 3-1.4 6-1 54-.9 12-.7 12-1.2 15-3 9-3 6-2.7 9-5.2 6-4.5 6-5.3 6-6.2 9-11.2 25.2-35.6 7.8-9.4 9-9.1 9-7.3 9-5.6 6-2.9 6-2.3z"/>
<path fill="#5454ff" fill-rule="evenodd" d="M958.6 173.8l8.2-.9 6 0 6 .7 6 1.4 6 2.1 6 2.9 6 3.7 6.7 5.1 9.1 9 9.6 12 8 12 17.6 28.7 9 12.6 6 6.9 6 5.8 6 4.9 9 5.7 6 2.9 9 3.1 6 1.5 9 1.5 12 1.1 12 .5 54 .8 6 1.1 3 1.5 2.8 2.4 3.2 4.8 3.3 10.2 2.1 15 .6 15-.7 18-1.4 12-.9 4.3-1.8 4.7-1.2 2.6-2.8 3.4-3.2 2.4-3 1.1-6 1-39 1.2-36 2-24 1.9-18 2.5-9 1.8-12 3.3-12 4.1-27 10.1-18 5.6-9 2.1-9 1.4-15 1-9-.3-9-.8-9-1.4-12-2.6-18-5.3-45-15.5-12-3.2-12-2.5-15-1.9-18-1.3-78-1.8-6-1-3-1.1-3-2.1-3-3.5-1.6-3.2-1.4-3.4-1.4-5.6-1.4-12-.6-21 .6-12 2.8-16 3-8.5 3.6-5.5 2.4-2.2 3-1.5 6-1.3 54-1.1 12-.7 12-1.3 9-1.7 6-1.5 9-3.3 6-2.8 9-5.6 6-4.6 6-5.4 6-6.4 6-7.3 6-8.3 17.2-26 6.5-9 7.1-9 8.6-9 8.6-7.3 9-5.8 6-3 6-2.4z"/>
<path fill="#4b4bff" fill-rule="evenodd" d="M958.2 176.8l8.6-1 6 0 6 .8 6 1.4 6 2.2 6 3 6 3.8 6 4.8 9 9.1 9.1 11.9 7.8 12 19.1 32.5 9 12.7 6 7.2 9 8.9 9 6.8 6 3.5 6 2.8 9 3 6 1.5 9 1.4 12 1.1 12 .6 48 .7 6 .8 3 1 3 1.9 3 3.5 3 7 2.1 11.1 .8 9 0 12-1.3 15-1.6 8.3-3 6.4-3 3-3 1.6-6 1.4-36 2.2-48 4.3-21 2.3-15 2.5-9 2.2-12 3.7-36 14.2-15 5.1-9 2.3-9 1.8-9 1-9 .4-9-.3-9-.9-9-1.4-12-2.8-20.1-6.3-42.9-16.1-12-3.6-12-2.7-15-2.2-18-1.5-78-2.8-6-1.2-3-1.5-3-2.7-3-5.1-2.2-8.6-.9-9-.5-21 .6-9 2.8-12 3.2-6.5 3-3.5 3-1.9 3-1 6-.9 51-1.2 12-.7 12-1.4 9-1.8 6-1.7 6-2.2 9-4.4 6-3.8 9-7.1 9-8.9 6-7 9-12.3 22.9-35.7 9.1-12 7-7.6 9-8.1 9-6.2 6-3.1 4.7-2z"/>
<path fill="#4141ff" fill-rule="evenodd" d="M957.6 179.8l6.2-.9 9-.2 6 .7 6 1.6 6 2.2 6 3.2 6 4 6 5 8 8.4 9 12 9.1 15 15.9 28.4 6 9.6 6 8.5 9 10.9 6 6.2 9 7.6 6 4 6 3.2 9 3.5 6 1.6 9 1.8 12 1.5 15 1.2 45 1.7 6 1.2 3 1.7 3 3.3 1.3 3.1 1.7 4.8 .9 7.2 .2 9-.7 9-1.1 6-2.3 6.7-3 3.5-3 1.8-6 1.4-24 3.1-42 6.6-36 4.7-18 3.3-9 2.5-9 3-34 14.4-17 6.2-9 2.4-9 1.8-9 1.2-9 .3-9-.2-12-1.4-9-1.7-12-3.1-18-6.3-42-17.2-12-4-12-2.9-15-2.4-15-1.5-78-4.7-6-1.2-3-1.2-3-2.4-3-5.1-1.2-4.6-1.8-18-.1-9 .7-6 2.4-8.5 3-4.8 2-1.7 4-2.2 3-.7 6-.8 54-2.2 18-1.6 9-1.6 6-1.7 6-2.3 6-3.1 9-6 6-5.1 9-9 9-10.6 6-8.2 6-9 21.4-34.9 6.4-9 8.2-9.7 9-8.4 9-6.5 9-4.7 6-2.2z"/>
<path fill="#3838ff" fill-rule="evenodd" d="M957.1 182.8l6.7-1.1 9-.2 6 .8 6 1.6 6 2.4 6 3.2 6 4.3 6 5.2 9 10.2 8.7 12.6 7 12 17.3 32.3 12 18.8 6 8.2 9 10.9 6 6.1 6 4.9 9 5.5 6 2.6 6 2 9 2.4 36.6 8.3 10.4 3 8.1 3 5.6 3 3.3 3 1 3-.6 3-1.9 3-6 6-3.6 3-4.5 3-5.6 3-7 3-8.5 3-10.5 3-13.5 3-36.3 6.1-15 3.2-9 2.8-9 3.4-31.9 14.5-15.7 6-9.4 2.8-9 1.9-9 1.1-6 .4-9-.1-12-1.1-12-2.3-12-3.3-9-3.1-12-4.8-39-17.6-12-4.3-12-3.2-9-1.9-15-2.3-41.3-4.2-23.2-3-16.5-3.4-6-2.6-3-3-3-7.1-1.2-4.9-1.1-6-.1-6 .7-3 1.7-4 3-3.1 3-1.6 9-2.2 15-1.9 18-1.3 30-1.5 15-1.7 6-1.3 6-2.1 6-2.9 6-4.1 6-5.2 6-6.1 6-6.9 9-11.6 12-17.8 22.8-38.7 6.2-9 7-8.6 9-9 9-6.7 9-4.9 6-2.3z"/>
<path fill="#2e2eff" fill-rule="evenodd" d="M956.7 185.8l7.1-1.3 6-.3 6 .5 6 1.2 6 2 6 3 6 3.9 7.1 6 8.1 9 8.5 12 6.9 12 14.4 28.3 9 16.3 12 19.7 6 9.1 6 8.1 4.9 5.5 4.1 3.6 8.4 5.4 9.6 4.1 22.4 7.9 6.6 3 5 3 3.5 3 2.1 3 1.1 3 0 3-.9 3-1.9 3-2.9 3-4.5 3-6.3 3-8.7 3-11.9 3-30.6 6.2-9 2.4-9 3-12 5.2-27 13.3-9 3.8-9 3.2-12 3.2-9 1.5-9 .7-9-.1-9-.8-12-2.1-12-3.2-12-4.3-11.7-5-30.3-15.1-15-6.7-12-4.6-30.6-9.6-7.6-3-5.1-3-6.8-6-3.9-2.2-24-7.9-4.3-1.9-4-3-.3-3 4-3 4.6-1.3 9-1.8 30-1.7 12-1.6 6-1.6 6-2.4 6-3.3 3-2.2 6-5.4 6-7 15-21.2 15-23.9 19.3-34.6 5.8-9 6.6-9 5.3-6 5-4.9 8.8-7.1 9.2-5.2 6-2.4z"/>
<path fill="#2525ff" fill-rule="evenodd" d="M956.2 188.8l7.6-1.4 6-.3 9 .9 6 1.7 6 2.6 6 3.6 6 4.7 6.3 6.2 8.7 11 8 13 25 49.8 18 33.8 5.9 9.4 6.1 6.8 6 4.6 9 4.8 17.2 7.8 5 3 3.5 3 2.1 3 .7 3-.4 3-1.7 3-2.4 2.3-6.1 3.7-7.8 3-31.1 8-15 5-12 5.5-27.7 14.5-14.3 6.1-9 2.9-9 2.1-9 1.3-9 .4-12-.6-12-1.8-12-3.2-12-4.2-12-5.4-12.8-6.6-38.6-21-5-3-4-3-2.7-3-1.4-3-.4-3 .1-18 .4-3 1-3 3.2-6 12.2-18.7 21-36.4 23.8-43.9 5.5-9 6.5-9 5-6 6-6 7.2-5.8 6-3.7 6-3z"/>
<path fill="#1b1bff" fill-rule="evenodd" d="M955.8 191.8l8-1.6 6-.3 9 1 6 1.8 6 2.7 6 3.8 6 4.8 6 6.2 8.7 11.6 8.6 15 27.1 57 12.6 28.3 3 5.6 3.5 5.1 5.5 5.8 6 4.6 12.4 7.6 4.1 3 2.8 3 1.2 3-.4 3-2 3-4.1 3-6.6 3-22.4 7.6-12 4.9-12 6.1-24 13.6-14.9 6.8-9.1 3.1-9 2.2-6 1-9 .8-12-.3-12-1.6-12-3-14.3-5.2-9.7-4.5-8.5-4.5-20.1-12-13.7-9-3.7-3-2.9-3-2-3-1.2-3-.5-3-.7-18 .9-9 1.8-6 3.6-9 6.7-15 5.9-12 28-54 7-12 6.2-9 8.2-9.5 9-7.9 9-5.6 6-2.7z"/>
<path fill="#1212ff" fill-rule="evenodd" d="M955.6 194.8l8.2-1.7 6-.4 9 1.1 6 1.8 6 2.9 7.7 5.3 6.5 6 5.1 6 8.2 12 5 9 4.4 9 21.3 48 5.8 15 5 14 4.4 10 1.6 3 4.3 6 11.1 12 2 3 .8 3-.7 3-2.3 3-4.1 3-26.1 13.6-33 19.7-12 5.6-8.4 3.1-9.6 2.6-9 1.4-6 .4-9-.1-9-.9-6-1-9-2.3-6-1.9-9-3.5-7.9-3.7-10.9-6-9.7-6-8.9-6-7.7-6-5.7-6-1.9-3-1.1-3-1.1-6-1.2-15-.1-6 1.1-9 2.5-9 4.2-12 5.1-12 26.4-54 4.9-9 6-9.3 6-7.9 6-6.5 6-5.3 6-4.2 6-3.2z"/>
<path fill="#0808ff" fill-rule="evenodd" d="M955.4 197.8l8.4-1.9 6-.3 9 1.1 6 1.9 4.5 2.2 4.5 2.7 6 4.8 6 6.2 5.7 7.3 5.7 9 4.9 9 5.5 12 10.3 24 6.1 15 4.4 12 9.2 30 2.5 6 6.1 12 1.3 3 .8 3 0 3-1 3-2.1 3-3.1 3-8.1 6-31.7 21-10.7 6-11.8 5.2-12 3.5-9 1.5-9 .6-9-.4-9.6-1.4-11.4-2.8-9-3.2-9-4.1-9.2-4.9-9.6-6-12.4-9-6.3-6-2.4-3-1.7-3-2-6-2.6-18-.3-9 .5-6 1.7-9 3.5-12 3.4-9 5.2-12 16.9-36 6-12 5.2-9 4-6 4.6-6 5.5-6 5-4.5 6-4.5 6-3.3z"/>
<path fill="#0200fd" fill-rule="evenodd" d="M955.4 200.8l8.4-2 6-.4 9 1.2 6 2.1 6 3.1 6.7 5 6.1 6 7 9 5.5 9 6.1 12 11.4 27 7 18 5.7 18 5.8 24 4.4 15 1.3 6 .1 3-.5 3-1.1 3-1.9 3-2.4 3-10.3 9-16.2 12-10.7 6.8-12 6.1-12 4.2-12 2.4-9 .5-9-.4-9-1.3-9-2.2-9-3.1-9-4-9-4.9-9-5.8-6-4.3-7-6-2.8-3-4.1-6-1.3-3-1.7-6-3-18-.3-9 .5-6 2.4-12 2.7-9 4.5-12 5.1-12 18.1-39 4.9-8.6 4-6.4 5-6.6 4.8-5.4 4.2-4 6-4.7 6-3.5z"/>
<path fill="#0b00f4" fill-rule="evenodd" d="M955.5 203.8l8.3-2 6-.4 6 .5 3 .7 6 2.1 6 3.3 6.2 4.8 5.8 6 6.8 9 7 12 5.6 12 8.6 21 6.5 18 2.8 9 3.1 12 6.7 36 .4 6-.3 3-2 6-1.7 3-4.9 6-9.9 9-13.7 10.3-7.8 4.7-5.7 3-7.5 3.2-6 2-12 2.5-6 .5-9-.1-9-1.1-9-2-9-3-9-3.9-7.6-4.1-9.4-6-7-5.4-4-3.6-2.8-3-4.2-6-2.5-6-1.6-6-2-9-1.4-9-.3-6 .7-9 1.6-9 2.6-9 3.1-9 6.2-15 11.8-27 5.9-12 7.9-13.2 3.5-4.8 5.5-6.4 6-5.6 4-3 5-3.1z"/>
<path fill="#1500ea" fill-rule="evenodd" d="M955.7 206.8l8.1-2 6-.5 6 .6 3 .7 6 2.3 6 3.4 6 4.9 6 6.4 5.9 8.2 5.2 9 5.7 12 8.4 21 6.2 18 3.4 12 2 9 2 12 2.2 18 .4 9-.7 6-.9 3-3 6-2 3-8.5 9-7 6-7.3 5.4-12 7-6 2.7-8.7 2.9-6.3 1.4-6 .8-6 .3-9-.5-9-1.4-9-2.5-9-3.5-6-2.9-6.5-3.7-8.9-6-5.6-4.7-4.3-4.3-2.4-3-3.5-6-4.1-12-2.1-9-1-6-.5-6 .4-9 1.6-9 2.4-9 3.1-9 5.9-15 10.3-24 5.6-12 5-9 3.9-6 4.5-6 5.2-5.6 3.7-3.4 5.3-4 6-3.4z"/>
<path fill="#1e00e1" fill-rule="evenodd" d="M956.1 209.8l7.7-2 6-.5 6 .6 6 1.8 6 3 6 4.4 4.9 4.7 4.9 6 6 9 4.7 9 5.3 12 5.8 15 5 15 3.3 12 2.5 12 1.6 12 1.4 18 0 6-.7 6-1.7 6-1.4 3-1.6 3-4.4 6-5.8 6-7 6-7.8 5.6-6 3.4-6.3 3-8.4 3-6.3 1.5-6 .8-6 .3-9-.5-9-1.5-9-2.6-9-3.7-6-3.1-6-3.6-7.7-5.6-7.3-7.1-3.7-4.9-1.7-3-2.7-6-3-9-2.2-9-.9-6-.3-6 .7-9 1.1-6 2.4-9 4.2-12 7.1-18 7.7-18 5.6-12 7.1-12 4.4-6 4.2-4.8 4.4-4.2 4.6-3.6 6-3.5z"/>
<path fill="#2800d7" fill-rule="evenodd" d="M956.6 212.8l7.2-1.9 6-.5 6 .6 6 1.9 6 3.2 6 4.6 4.1 4.1 4.9 6 5.8 9 4.6 9 3.9 9 5.7 15 4.8 15 3.1 12 1.8 9 1.5 12 .9 18-.7 12-2.6 9-3.1 6-2.1 3-5 6-6.4 6-6.2 4.7-6 3.8-6 3.1-6 2.5-6 1.8-9 1.5-6 .4-9-.6-9-1.6-6-1.7-12-5-6-3.3-8.3-5.6-3.7-3.1-5.8-5.9-2.2-3-3.5-6-2.7-6-3.2-9-1.5-6-1.1-6-.3-6 .5-9 1.1-6 2.4-9 3.1-9 8.1-21 6.2-15 5.5-12 5-9 3.4-5.2 3-4 5-5.8 4-3.7 6-4.4z"/>
<path fill="#3100ce" fill-rule="evenodd" d="M957.2 215.8l6.6-1.8 6-.5 6 .7 6 1.9 4.9 2.7 4.2 3 5.9 5.6 5.1 6.4 4 6 4.8 9 4 9 4.6 12 3.9 12 3.3 12 2.4 12 1.3 9 1 18-.3 9-.7 6-2.2 9-4.5 9-4.4 6-4.3 4.5-5.2 4.5-6.8 4.9-6 3.3-6 2.6-6 2-9 1.7-6 .3-6-.2-9-1.3-6-1.6-7.6-2.7-7.4-3.5-6-3.6-6.8-4.9-5.2-4.9-3.5-4.1-5.5-9-4-9-2-6-1.5-6-.8-6-.2-6 .5-6 1.1-6 2.5-9 12.3-33 6.3-15 3.8-8 3.8-7 3.8-6 7.4-9.1 3-2.9 6-4.7 3-1.8z"/>
<path fill="#3b00c4" fill-rule="evenodd" d="M957.9 218.8l5.9-1.6 6-.5 6 .7 3 .8 6 2.8 5.4 3.8 3.6 3.2 6 6.9 5.2 7.9 3.8 7.1 3.6 7.9 4.5 12 3 9 3.2 12 2.5 12 1.2 9 .7 9 .2 9-.4 9-.6 6-1.2 6-2 6-4.7 9-4 5.3-3.5 3.7-5.5 4.8-6 4.2-6 3.2-6 2.5-6 1.7-6 1-6 .4-6-.2-9-1.4-6-1.7-6-2.1-6-2.8-6.2-3.6-5.8-4.2-5.4-4.8-2.7-3-3.9-5.3-3-5.1-3.8-7.6-2.2-6-1.7-6-.9-6-.2-6 .5-6 1.1-6 2.5-9 12.3-33 9.1-21 6.9-12 7.2-9 5.2-4.9 3-2.2 6-3.6z"/>
<path fill="#4500ba" fill-rule="evenodd" d="M958.8 221.8l5-1.4 6-.5 6 .7 6 2.1 3.6 2.1 5.4 4 4.9 5 4.1 5.2 4.3 6.8 4.6 9 3.8 9 3.2 9 3.4 12 2.1 9 1.6 9 1.1 9 .5 9 0 9-.7 9-.8 6-1.5 6-2.2 6-4.4 8-3 4.1-5.7 5.9-3.5 3-5.8 3.9-6 3.2-6 2.2-6 1.5-6 .8-6 0-6-.5-6-1.1-6-1.7-6-2.3-6-3-9.1-6-3.6-3-5.3-5.7-6.5-9.3-3.1-6-2.6-6-1.8-6-1-6-.3-6 .5-6 1.1-6 1.7-6 13.3-36 7.7-18.1 6.7-11.9 4.4-6 3.9-4.3 5.2-4.7 3.8-2.6z"/>
<path fill="#4e00b1" fill-rule="evenodd" d="M959.7 224.8l4.1-1.1 6-.6 6 .8 6 2.2 6 3.8 3 2.5 4.2 4.4 4.6 6 3.7 6 3.1 6 3.8 9 3.2 9 2.6 9 2.7 12 1.4 9 .9 9 .3 15-.7 9-.9 6-1.3 6-2.1 6-4.8 9-2.7 3.9-4.7 5.1-4.3 3.8-6 4-9.4 4.2-5.6 1.5-6 .9-6 .1-6-.6-6-1.2-6-1.7-6-2.5-6-3.2-9-6.4-5.1-4.9-3.9-4.7-6.6-10.3-2.8-6-2-6-1.4-9 .4-9 1.2-6 1.7-6 14.5-39 6.6-15 6.4-10.9 6-7.6 3-2.9 6-4.7 3-1.8z"/>
<path fill="#5800a7" fill-rule="evenodd" d="M960.5 227.8l3.3-.9 6-.6 6 .8 3 1 5.4 2.7 3.6 2.5 3.8 3.5 5.2 6 4 6 3.2 6 4 9 3.3 9 2.5 9 1.9 9 1.4 9 1 9 .3 15-.7 9-.9 6-1.4 6-1.9 6-4.5 9-3.2 4.7-3.8 4.3-3.2 3-5 3.7-3.9 2.3-5.1 2.3-6 1.8-6 .9-9 0-6-.9-6-1.6-6-2.2-6-3-9-6.1-3.7-3.2-5.3-5.7-6.7-9.3-4.3-9-1.7-6-.8-6 .4-9 1.2-6 1.8-6 14.5-39 6.8-15 3.4-6 3.4-4.9 6-6.8 6-4.9 3-1.9z"/>
<path fill="#61009e" fill-rule="evenodd" d="M961.3 230.8l5.5-1.2 3-.1 6 .8 3 1 4.9 2.5 4.1 2.9 6 6.1 3 3.9 3.3 5.1 3.1 6 3.9 9 2 6 3.8 15 1.4 9 .9 9 .3 15-.7 9-.9 6-1.3 6-1.9 6-4.2 9-3.7 5.4-3 3.5-7 6.1-5 3.1-6 2.5-9 1.9-9 0-6-.9-6-1.6-9-3.8-9-5.6-9-8.2-6.7-8.4-3.4-6-1.9-4.7-1.3-4.3-.9-6 .4-9 2.1-9 15.5-42 5.4-12 5.8-9.8 6-7.2 4.4-4 4.3-3z"/>
<path fill="#6b0094" fill-rule="evenodd" d="M961.9 233.8l4.9-1 3-.2 3 .2 6 1.6 6 3.3 3 2.4 3 2.8 4.8 5.9 3.8 6 3.1 6 4.6 12 3.6 15 1.2 9 .7 9-.1 15-.7 8-1.2 7-1.6 6-2.1 6-4.1 7.9-6 7.6-3 2.9-6 4.3-3 1.7-6 2.2-9 1.5-6-.2-6-.9-9-2.7-9-4.5-9-6.6-7.3-7.2-2.4-3-3.8-6-2.6-6-.9-3-1-6 .4-9 2.3-9 8.1-21 6.2-18 5.1-12 5.1-9 2.8-3.8 4.5-5.2 4.5-3.8 3-2 3-1.7z"/>
<path fill="#74008b" fill-rule="evenodd" d="M962.2 236.8l4.6-1 3-.2 3 .2 6 1.7 6 3.4 3 2.4 6 6.6 3.3 4.9 3.2 6 4.8 12 2.9 12 1.8 15 .2 15-1.6 15-3 12-4.1 9-4 6-2.6 3-6.9 6-5.3 3-3.7 1.5-6 1.4-3 .3-9-.4-9-2.2-9-3.9-9-5.7-6-5.2-3-3.2-4.8-6.6-2.9-6-1.3-4.5-.8-4.5-.1-3 .5-6 2.4-9 7.2-18 7.1-21 5.2-12 5.5-9 6-6.9 6-4.7 3-1.7z"/>
<path fill="#7e0081" fill-rule="evenodd" d="M962.1 239.8l4.7-1.1 3-.1 3 .2 6 1.7 6 3.5 3 2.5 4.7 5.3 5.7 9 2.7 6 2.2 6 2.9 12 1.4 12 0 15-1.1 12-2.6 12-3.9 10-5.1 8-3.9 4.3-3 2.6-3 2.2-6 3-3 1-6 1.1-9-.3-9-2.1-9-3.7-9-5.6-6.2-5.5-2.8-3.2-3-4.3-3.4-7.5-1.1-6 0-6 1.8-9 8.3-21 7-21 3.8-9 4.6-8.1 6-7.4 6-5 3-1.8z"/>
<path fill="#870078" fill-rule="evenodd" d="M961.7 242.8l5.1-1.2 3-.2 6 .9 6 2.6 3 2.1 6 6 3 4.1 3 5.1 4.4 10.6 2.8 12 1.1 12-.4 15-1.5 12-3.1 12-4.1 9-5.2 7.5-6 5.4-3.3 2.1-5.7 2.6-3 .8-6 .7-9-.6-9-2.4-9-4.1-6-3.9-6-5.5-4.2-5.6-2.8-6-.8-3-.7-6 .6-6 1.5-6 7.3-18 6.8-21 5-12 3.5-6 4.8-6.2 6-5.2 3-1.9z"/>
<path fill="#91006e" fill-rule="evenodd" d="M961.1 245.8l5.7-1.5 3-.2 6 .9 6 2.8 3 2.2 4.8 4.8 2.3 3 3.6 6 3.7 9 1.7 6 1.1 6 .9 12-.5 12-2.4 15-3.2 10.7-3.5 7.3-2.5 4-3 3.6-6 5.2-4 2.2-5 1.9-3 .7-6 .5-6-.4-9-2-9-3.9-6-4-5.1-4.8-4.1-6-2.3-6-.7-6 .6-6 1.6-6 7.4-18 6.4-21 3.6-9 3.3-6 4.4-6 5.9-5.5 3-1.9z"/>
<path fill="#9b0064" fill-rule="evenodd" d="M960.5 248.8l6.3-1.8 6 0 3 .7 6 2.9 3 2.3 3 2.9 3 3.8 2.6 4.2 3.9 9 2.3 9 1.2 12-.6 12-2 12-3.4 12-4.2 9-2.8 4.2-3 3.5-6 4.8-5.1 2.5-3.9 1.2-9 .9-9-1-6-1.8-6-2.7-6-4.1-3-2.9-3.5-4.6-2.6-6-.8-6 .1-3 1.2-6 8.4-21 5.1-18 4.1-10.6 4.2-7.4 4.8-5.8 3.6-3.2z"/>
<path fill="#a4005b" fill-rule="evenodd" d="M959.9 251.8l3.9-1.6 3-.6 6 0 3 .7 3.4 1.5 4.4 3 3.1 3 4.5 6 4.2 9 2.3 9 .8 6 .2 6-1 12-2.6 12-4.2 12-3.1 6-2 3-5.6 6-4.1 3-3.3 1.7-6 1.8-9 .8-6-.6-6-1.6-6-2.7-3.7-2.4-2.3-2-3-3.3-2.3-3.7-1.2-3-.9-6 .1-3 1.2-6 7.4-18 5.7-21 3.4-9 3.2-6 4.4-5.7 3.5-3.3z"/>
<path fill="#ae0051" fill-rule="evenodd" d="M959.4 254.8l4.4-2 3-.7 6 0 3 .8 3 1.3 3 1.9 3 2.6 3 3.5 3 4.6 3 6.8 2 8.2 .7 6 .1 6-1.5 12-3.2 12-4.1 10-5 8-2.6 3-3.2 3-4.2 2.8-3 1.4-6.4 1.8-8.6 .5-6-.8-3-.9-4.3-1.8-4.7-3-3.1-3-2.1-3-1.4-3-.9-3-.2-6 1.7-7.1 6.8-16.9 5.3-21 2.9-7.7 3-5.6 3-4.2 3-3.1z"/>
<path fill="#b70048" fill-rule="evenodd" d="M966 254.8l3.8-.4 3 .2 3 .8 3 1.4 3 2.1 3 2.8 3.8 5.1 2.2 4.2 1.7 4.8 1.8 9 .2 9-1.3 9-2.5 9-2.9 7.6-2.2 4.4-3.8 6.4-3 3.8-3 3-6 4.1-6 2.4-3 .7-6 .5-6-.7-6-2-3-1.8-3-2.5-1.7-1.9-1.8-3-1-3-.4-3 .5-6 1.4-4.4 5.5-13.6 1.7-6 4-18 3.6-9 3.2-5.1 3.4-3.9 5.6-4.1z"/>
<path fill="#c1003e" fill-rule="evenodd" d="M964.2 257.8l5.6-1 3 .3 3 .9 3 1.5 3 2.2 4.4 5.1 3.3 6 1.3 3.6 1.2 5.4 .5 9-1.1 9-2.7 9-3.9 8.9-6 9.5-5.2 5.6-3.8 3-3 1.7-6 2.4-6 .9-6-.5-3-.8-3-1.4-3.2-2.3-2.4-3-1.4-3-.6-3 .4-6 6.6-18 4.1-21 3-9 2.5-4.5 3.4-4.5 2.6-2.4 3-2z"/>
<path fill="#ca0035" fill-rule="evenodd" d="M963.3 260.8l3.5-1.1 3-.3 3 .3 3 .9 5 3.2 4 4.5 3 5.5 2.2 8 .5 6-.9 9-1.8 6.7-3.8 8.3-5.2 8.3-6 7-6 4.8-6 3.1-6 1.4-6-.4-3-1.1-3-1.9-2.5-3.2-1.1-3-.2-3 .4-3 5.1-15 1.3-6 2-15 2.5-9 1.5-3.3 3.7-5.7 3-3z"/>
<path fill="#d4002b" fill-rule="evenodd" d="M962.8 263.8l4-1.5 3-.3 3 .3 3 1 3 1.8 3 2.8 3.3 4.9 2.2 6 1 6-.5 9-2.7 9-3.1 6-3.2 4.7-6 6.6-6 5-6 3.7-3 1.2-3 .6-3 .1-3.2-.9-2.8-2.4-1.3-3.6 0-3 .6-3 3-12 2-21 1.7-6.8 3-6.4 3-4 3-2.6z"/>
<path fill="#de0021" fill-rule="evenodd" d="M962.7 266.8l4.1-1.7 3-.4 3 .3 4 1.8 3.5 3 2.2 3 2.6 6 1 6-.3 6-1.3 6-2.7 6-3 4.6-3 3.4-3 2.7-6 3.9-6 2.7-3 .5-3-.9-1.3-1.9-.7-3-.9-18 .2-9 .9-6 2-6 2.8-4.5 3-3.1z"/>
<path fill="#e70018" fill-rule="evenodd" d="M963.1 269.8l3.7-1.8 3-.4 3 .4 3 1.3 3 2.6 2.6 3.9 1.2 3 1.1 6-.1 3-1.1 6-1.1 3-2.6 4.7-3 3.5-3 2.4-3 1.7-3 .9-3 .2-3-1.1-3-3.7-1.9-5.6-1.2-9 .3-6 1.5-6 1.3-3 2.1-3z"/>
<path fill="#f1000e" fill-rule="evenodd" d="M964.2 272.8l2.6-1.3 3-.6 3 .5 2.5 1.4 3.5 4 1.8 5 .2 6-.6 3-1.4 4-3 4.4-3 2.5-3 1.3-3 .3-3-.9-2.8-2.6-1.6-3-1.5-6 0-6 .6-3 2.3-5.3z"/>
<path fill="#fa0005" fill-rule="evenodd" d="M966.8 275.8l3-.7 3 .7 3.1 3 1.1 3 .4 3-.2 3-1.4 4.2-3 3.4-3 1.4-3-.3-3-2.2-1.7-3.5-.6-3 0-3 .7-3 1.6-3.3z"/>
</g>
<path d="M851.5 47.81V580.24M1048.5 47.81V580.24" stroke="#fff" stroke-width="1" fill="none"/>
<path d="M927.58 580.24V47.81" stroke="#006400" stroke-width="1.5" stroke-dasharray="6 6" stroke-linecap="round" fill="none"/>
<path d="M1002.92 580.24V47.81" stroke="#006400" stroke-width="1.5" stroke-dasharray="6 6" stroke-linecap="round" fill="none"/>
<path d="M699.76 451.46H1232.19" stroke="#D21E20" stroke-width="1.5" stroke-dasharray="6 6" stroke-linecap="round" fill="none"/>
</g>
<path d="M750.01 580.24H1180.49M750.01 580.24v6M857.63 580.24v6M965.25 580.24v6M1072.87 580.24v6M1180.49 580.24v6" fill="none" stroke="#000" stroke-width=".75" stroke-linecap="round"/>
<text x="749.71" y="602" font-size="10" text-anchor="middle">-400</text>
<text x="857.33" y="602" font-size="10" text-anchor="middle">-200</text>
<text x="964.95" y="602" font-size="10" text-anchor="middle">0</text>
<text x="1072.57" y="602" font-size="10" text-anchor="middle">200</text>
<text x="1180.19" y="602" font-size="10" text-anchor="middle">400</text>
<path d="M699.76 580.24V169.24M699.76 580.24h-6M699.76 443.24h-6M699.76 306.24h-6M699.76 169.24h-6" fill="none" stroke="#000" stroke-width=".75" stroke-linecap="round"/>
<text transform="translate(685.1 580.84) rotate(-90)" font-size="10" text-anchor="middle">80</text>
<text transform="translate(685.1 443.84) rotate(-90)" font-size="10" text-anchor="middle">85</text>
<text transform="translate(685.1 306.84) rotate(-90)" font-size="10" text-anchor="middle">90</text>
<text transform="translate(685.1 169.84) rotate(-90)" font-size="10" text-anchor="middle">95</text>
<text x="966.4" y="31.6" font-size="21.48" font-weight="bold" text-anchor="middle">Density heat map for the top hits</text>
<text x="966.4" y="625.7" font-size="16" text-anchor="middle">Distance to peak summit</text>
<text transform="translate(661.8 314.2) rotate(-90)" font-size="16" text-anchor="middle">Motif score</text>
<path d="M79 1200.3L80.9 1200.3 82.8 1200.3 84.7 1200.3 86.6 1200.3 88.5 1200.3 90.4 1200.2 92.3 1200.2 94.2 1200.2 96.1 1200.2 98.1 1200.2 100 1200.1 101.9 1200.1 103.8 1200.1 105.7 1200 107.6 1200 109.5 1200 111.4 1199.9 113.3 1199.8 115.2 1199.7 117.1 1199.7 119 1199.6 120.9 1199.4 122.8 1199.3 124.7 1199.1 126.6 1198.9 128.5 1198.7 130.4 1198.4 132.4 1198.1 134.3 1197.7 136.2 1197.3 138.1 1196.9 140 1196.4 141.9 1195.8 143.8 1195.2 145.7 1194.5 147.6 1193.7 149.5 1192.8 151.4 1191.8 153.3 1190.8 155.2 1189.7 157.1 1188.4 159 1187 160.9 1185.4 162.8 1183.5 164.7 1181.3 166.6 1178.8 168.6 1175.9 170.5 1172.7 172.4 1169 174.3 1165 176.2 1160.8 178.1 1156.4 180 1151.9 181.9 1147.2 183.8 1142.4 185.7 1137.6 187.6 1132.8 189.5 1127.8 191.4 1122.6 193.3 1117.1 195.2 1111.2 197.1 1105 199 1098.4 200.9 1091.2 202.9 1083.5 204.8 1075.2 206.7 1066.3 208.6 1055.7 210.5 1043.3 212.4 1032.2 214.3 1022.4 216.2 1013.9 218.1 1005.9 220 997.1 221.9 987.7 223.8 978 225.7 968.5 227.6 959.2 229.5 949.3 231.4 938.5 233.3 927.4 235.2 916.5 237.1 905.5 239.1 894.4 241 883 242.9 871.6 244.8 860 246.7 848.5 248.6 837.2 250.5 826.2 252.4 815.6 254.3 805.7 256.2 796.5 258.1 787.8 260 779.9 261.9 773.3 263.8 767.3 265.7 761.8 267.6 756.5 269.5 751.4 271.4 746.4 273.4 741.6 275.3 737.1 277.2 732.7 279.1 728.3 281 724.2 282.9 720.6 284.8 717.5 286.7 715.1 288.6 713.3 290.5 712 292.4 711.1 294.3 710.4 296.2 710 298.1 709.6 300 708.9 301.9 708 303.8 707.5 305.7 707.3 307.6 707.3 309.6 708.2 311.5 709.9 313.4 713.1 315.3 716.8 317.2 721.2 319.1 725.6 321 730 322.9 733.8 324.8 737.2 326.7 740.2 328.6 742.9 330.5 745.1 332.4 746.8 334.3 748.1 336.2 749.1 338.1 750.1 340 751.1 341.9 752.4 343.9 754.3 345.8 756.6 347.7 759.4 349.6 762.7 351.5 766.6 353.4 770.7 355.3 775.1 357.2 779.9 359.1 785 361 790.4 362.9 796.1 364.8 802.2 366.7 808.5 368.6 815.2 370.5 822.3 372.4 829.6 374.3 837.3 376.2 845.1 378.1 852.8 380.1 859.3 382 864.9 383.9 870.3 385.8 876 387.7 882.3 389.6 889 391.5 896.1 393.4 903.5 395.3 911.5 397.2 919.9 399.1 929.1 401 939 402.9 948.2 404.8 956.5 406.7 964.3 408.6 971.7 410.5 978.7 412.4 985.3 414.4 991.4 416.3 997.5 418.2 1003.7 420.1 1009.8 422 1016.2 423.9 1022.8 425.8 1029.6 427.7 1036.6 429.6 1043.9 431.5 1051.6 433.4 1059.9 435.3 1067.7 437.2 1074.5 439.1 1080.9 441 1087 442.9 1092.7 444.8 1098.3 446.7 1103.7 448.6 1108.9 450.6 1113.9 452.5 1118.8 454.4 1123.5 456.3 1128 458.2 1132.3 460.1 1136.4 462 1140.4 463.9 1144.1 465.8 1147.7 467.7 1151.1 469.6 1154.4 471.5 1157.4 473.4 1160.2 475.3 1163 477.2 1165.7 479.1 1168.3 481 1170.7 482.9 1172.8 484.9 1174.8 486.8 1176.8 488.7 1178.7 490.6 1180.5 492.5 1182.3 494.4 1183.9 496.3 1185.4 498.2 1186.8 500.1 1188.2 502 1189.4 503.9 1190.6 505.8 1191.7 507.7 1192.8 509.6 1193.8 511.5 1194.7 513.4 1195.6 515.3 1196.4 517.2 1197.1 519.1 1197.8 521.1 1198.3 523 1198.7 524.9 1199.1 526.8 1199.3 528.7 1199.5 530.6 1199.6 532.5 1199.6 534.4 1199.6 536.3 1199.6 538.2 1199.6 540.1 1199.5 542 1199.5 543.9 1199.4 545.8 1199.4 547.7 1199.5 549.6 1199.6 551.5 1199.7 553.4 1199.8 555.4 1199.9 557.3 1200 559.2 1200 561.1 1200.1 563 1200.1 564.9 1200.2 566.8 1200.2 568.7 1200.3 570.6 1200.3 572.5 1200.3Z" fill="#F5DEB3" stroke="#000" stroke-width="1.3" stroke-linejoin="round"/>
<g clip-path="url(#c2)">
<path d="M210.65 1220.24V687.81" stroke="#D21E20" stroke-width="1.5" stroke-dasharray="6 6" stroke-linecap="round" fill="none"/>
</g>
<rect x="59.76" y="687.81" width="532.43" height="532.43" fill="none" stroke="#000" stroke-width=".75" stroke-linejoin="round"/>
<path d="M103.25 1220.24H560.25M103.25 1220.24v6M217.5 1220.24v6M331.75 1220.24v6M446 1220.24v6M560.25 1220.24v6" fill="none" stroke="#000" stroke-width=".75" stroke-linecap="round"/>
<text x="102.95" y="1242" font-size="10" text-anchor="middle">80</text>
<text x="217.2" y="1242" font-size="10" text-anchor="middle">85</text>
<text x="331.45" y="1242" font-size="10" text-anchor="middle">90</text>
<text x="445.7" y="1242" font-size="10" text-anchor="middle">95</text>
<text x="559.95" y="1242" font-size="10" text-anchor="middle">100</text>
<path d="M59.76 1200.5V734.54M59.76 1200.5h-6M59.76 1122.84h-6M59.76 1045.18h-6M59.76 967.52h-6M59.76 889.86h-6M59.76 812.2h-6M59.76 734.54h-6" fill="none" stroke="#000" stroke-width=".75" stroke-linecap="round"/>
<text transform="translate(45.1 1201.1) rotate(-90)" font-size="10" text-anchor="middle">0.00</text>
<text transform="translate(45.1 1123.44) rotate(-90)" font-size="10" text-anchor="middle">0.02</text>
<text transform="translate(45.1 1045.78) rotate(-90)" font-size="10" text-anchor="middle">0.04</text>
<text transform="translate(45.1 968.12) rotate(-90)" font-size="10" text-anchor="middle">0.06</text>
<text transform="translate(45.1 890.46) rotate(-90)" font-size="10" text-anchor="middle">0.08</text>
<text transform="translate(45.1 812.8) rotate(-90)" font-size="10" text-anchor="middle">0.10</text>
<text transform="translate(45.1 735.14) rotate(-90)" font-size="10" text-anchor="middle">0.12</text>
<text x="325.9" y="671.6" font-size="21.53" font-weight="bold" text-anchor="middle">Motif score threshold: 84.700</text>
<text x="325.6" y="1265.7" font-size="16" text-anchor="middle">Motif score</text>
<text transform="translate(21.8 954.2) rotate(-90)" font-size="16" text-anchor="middle">Density</text>
<path d="M719 1200.3L720.5 1200.2 722.1 1199.9 723.6 1199.6 725.2 1199.2 726.7 1198.7 728.3 1198.1 729.8 1197.3 731.4 1196 732.9 1194.6 734.5 1192.8 736 1190.7 737.6 1188.2 739.1 1185.1 740.7 1181.4 742.2 1177.1 743.8 1172 745.3 1166.2 746.9 1159.7 748.4 1152.7 750 1145.1 751.5 1136.8 753.1 1127.9 754.6 1118.6 756.2 1108.8 757.7 1098.9 759.3 1089.5 760.8 1080.5 762.4 1071.8 763.9 1064.1 765.5 1057.4 767 1050.7 768.6 1044.5 770.1 1039 771.7 1034.7 773.2 1031 774.8 1028 776.3 1025.5 777.9 1023.4 779.4 1021.8 781 1020.5 782.5 1019.6 784.1 1019 785.6 1018.6 787.2 1018.4 788.7 1018.3 790.2 1018.3 791.8 1018.4 793.3 1018.5 794.9 1018.6 796.4 1018.9 798 1019.3 799.5 1019.7 801.1 1020.2 802.6 1020.7 804.2 1021.1 805.7 1021.5 807.3 1021.9 808.8 1022.1 810.4 1022.3 811.9 1022.4 813.5 1022.5 815 1022.4 816.6 1022.3 818.1 1022 819.7 1021.7 821.2 1021.1 822.8 1020.4 824.3 1019.7 825.9 1019 827.4 1018.2 829 1017.4 830.5 1016.6 832.1 1015.8 833.6 1015.1 835.2 1014.4 836.7 1013.9 838.3 1013.5 839.8 1013.2 841.4 1013 842.9 1012.9 844.5 1012.9 846 1013.1 847.6 1013.3 849.1 1013.6 850.7 1013.9 852.2 1014.2 853.8 1014.4 855.3 1014.4 856.9 1014.2 858.4 1014 860 1013.7 861.5 1013.1 863 1012.3 864.6 1011.4 866.1 1010.1 867.7 1008.6 869.2 1007 870.8 1005.2 872.3 1003.2 873.9 1001.1 875.4 998.7 877 996.1 878.5 993.5 880.1 990.7 881.6 987.9 883.2 984.9 884.7 981.8 886.3 978.5 887.8 975.1 889.4 971.7 890.9 968.1 892.5 964.4 894 960.6 895.6 956.7 897.1 952.7 898.7 948.3 900.2 943.4 901.8 937.9 903.3 931.8 904.9 926.6 906.4 921.7 908 916.5 909.5 911.2 911.1 905.6 912.6 899.9 914.2 894 915.7 888 917.3 881.9 918.8 875.6 920.4 869.2 921.9 862.7 923.5 856 925 849.1 926.6 841.9 928.1 834.4 929.7 826.8 931.2 819 932.7 811.2 934.3 803.5 935.8 795.9 937.4 788.5 938.9 781.1 940.5 773.8 942 766.7 943.6 759.8 945.1 753.1 946.7 746.8 948.2 740.8 949.8 735.3 951.3 730.1 952.9 725.4 954.4 721.3 956 717.6 957.5 714.6 959.1 712.1 960.6 710.1 962.2 708.7 963.7 707.8 965.3 707.3 966.8 707.1 968.4 707.3 969.9 708 971.5 709.2 973 711 974.6 713.3 976.1 716.3 977.7 719.9 979.2 724.2 980.8 728.9 982.3 734.1 983.9 739.8 985.4 745.9 987 752.3 988.5 759.1 990.1 766.2 991.6 773.4 993.2 780.9 994.7 788.5 996.3 796.3 997.8 804.1 999.4 811.5 1000.9 818.7 1002.4 825.8 1004 832.7 1005.5 839.7 1007.1 846.8 1008.6 853.9 1010.2 860.5 1011.7 866.9 1013.3 873.2 1014.8 879.6 1016.4 885.9 1017.9 892 1019.5 898 1021 903.9 1022.6 909.7 1024.1 915.2 1025.7 920.4 1027.2 925.2 1028.8 930.1 1030.3 935.3 1031.9 940.6 1033.4 945.3 1035 949.7 1036.5 953.8 1038.1 957.7 1039.6 961.3 1041.2 964.7 1042.7 968 1044.3 971 1045.8 974 1047.4 976.7 1048.9 979.2 1050.5 981.5 1052 983.7 1053.6 985.9 1055.1 988.1 1056.7 990.2 1058.2 992.1 1059.8 993.9 1061.3 995.6 1062.9 997.3 1064.4 999.1 1066 1000.8 1067.5 1002.5 1069.1 1004.1 1070.6 1005.7 1072.1 1007.2 1073.7 1008.6 1075.2 1009.9 1076.8 1011 1078.3 1012 1079.9 1012.9 1081.4 1013.6 1083 1014.2 1084.5 1014.7 1086.1 1015.1 1087.6 1015.3 1089.2 1015.3 1090.7 1015.3 1092.3 1015.3 1093.8 1015.4 1095.4 1015.4 1096.9 1015.6 1098.5 1015.9 1100 1016.2 1101.6 1016.6 1103.1 1017.1 1104.7 1017.7 1106.2 1018.4 1107.8 1019.1 1109.3 1019.9 1110.9 1020.6 1112.4 1021.4 1114 1022.2 1115.5 1023 1117.1 1023.7 1118.6 1024.4 1120.2 1025.1 1121.7 1025.7 1123.3 1026.2 1124.8 1026.8 1126.4 1027.3 1127.9 1027.8 1129.5 1028.2 1131 1028.6 1132.6 1029 1134.1 1029.4 1135.7 1029.8 1137.2 1030.2 1138.8 1030.6 1140.3 1031.1 1141.9 1031.7 1143.4 1032.3 1144.9 1033.1 1146.5 1034 1148 1035.2 1149.6 1036.5 1151.1 1038 1152.7 1039.8 1154.2 1042 1155.8 1044.5 1157.3 1047.4 1158.9 1050.7 1160.4 1054.4 1162 1058.5 1163.5 1062.5 1165.1 1066.9 1166.6 1072 1168.2 1078.3 1169.7 1085.3 1171.3 1092.7 1172.8 1100.3 1174.4 1107.8 1175.9 1115.4 1177.5 1123.5 1179 1131.4 1180.6 1138.8 1182.1 1146 1183.7 1153.1 1185.2 1159.6 1186.8 1165.4 1188.3 1170.7 1189.9 1175.5 1191.4 1179.8 1193 1183.7 1194.5 1187.1 1196.1 1190.1 1197.6 1192.7 1199.2 1194.7 1200.7 1196.4 1202.3 1197.6 1203.8 1198.6 1205.4 1199.2 1206.9 1199.7 1208.5 1200 1210 1200.1 1211.6 1200.3 1213.1 1200.3Z" fill="#F5DEB3" stroke="#000" stroke-width="1.3" stroke-linejoin="round"/>
<g clip-path="url(#c3)">
<path d="M935.88 1220.24V687.81" stroke="#006400" stroke-width="1.5" stroke-dasharray="6 6" stroke-linecap="round" fill="none"/>
<path d="M995.32 1220.24V687.81" stroke="#006400" stroke-width="1.5" stroke-dasharray="6 6" stroke-linecap="round" fill="none"/>
</g>
<rect x="699.76" y="687.81" width="532.43" height="532.43" fill="none" stroke="#000" stroke-width=".75" stroke-linejoin="round"/>
<path d="M710.9 1220.24H1220.3M710.9 1220.24v6M795.8 1220.24v6M880.7 1220.24v6M965.6 1220.24v6M1050.5 1220.24v6M1135.4 1220.24v6M1220.3 1220.24v6" fill="none" stroke="#000" stroke-width=".75" stroke-linecap="round"/>
<text x="710.6" y="1242" font-size="10" text-anchor="middle">-600</text>
<text x="795.5" y="1242" font-size="10" text-anchor="middle">-400</text>
<text x="880.4" y="1242" font-size="10" text-anchor="middle">-200</text>
<text x="965.3" y="1242" font-size="10" text-anchor="middle">0</text>
<text x="1050.2" y="1242" font-size="10" text-anchor="middle">200</text>
<text x="1135.1" y="1242" font-size="10" text-anchor="middle">400</text>
<text x="1220" y="1242" font-size="10" text-anchor="middle">600</text>
<path d="M699.76 1200.5V703.5M699.76 1200.5h-6M699.76 1076.25h-6M699.76 952h-6M699.76 827.75h-6M699.76 703.5h-6" fill="none" stroke="#000" stroke-width=".75" stroke-linecap="round"/>
<text transform="translate(685.1 1201.1) rotate(-90)" font-size="10" text-anchor="middle">0.0000</text>
<text transform="translate(685.1 1076.85) rotate(-90)" font-size="10" text-anchor="middle">0.0005</text>
<text transform="translate(685.1 952.6) rotate(-90)" font-size="10" text-anchor="middle">0.0010</text>
<text transform="translate(685.1 828.35) rotate(-90)" font-size="10" text-anchor="middle">0.0015</text>
<text transform="translate(685.1 704.1) rotate(-90)" font-size="10" text-anchor="middle">0.0020</text>
<text x="965.9" y="671.6" font-size="21.6" font-weight="bold" text-anchor="middle">Enrichment zone: 70.00</text>
<text x="966.4" y="1265.7" font-size="16" text-anchor="middle">Distance to peak summit</text>
<text transform="translate(661.8 954.2) rotate(-90)" font-size="16" text-anchor="middle">Density</text>
<path d="M1017.28 703.4H1041" stroke="#006400" stroke-width="1.125" stroke-dasharray="1.125 3.375" stroke-linecap="round" fill="none"/>
<path d="M1017.28 718.8H1041" stroke="#D21E20" stroke-width="1.125" stroke-dasharray="1.125 3.375" stroke-linecap="round" fill="none"/>
<ellipse cx="1029" cy="734.45" rx="3" ry="2.8" fill="#0000FF"/>
<text x="1052.1" y="707.8" font-size="12.9">enrichment zone = 70</text>
<text x="1052.1" y="723.3" font-size="12.9">motif score threshold = 84.700</text>
<text x="1052.1" y="738.8" font-size="12.9">centrality p-val = -0.8242</text>
</svg></body></html>
